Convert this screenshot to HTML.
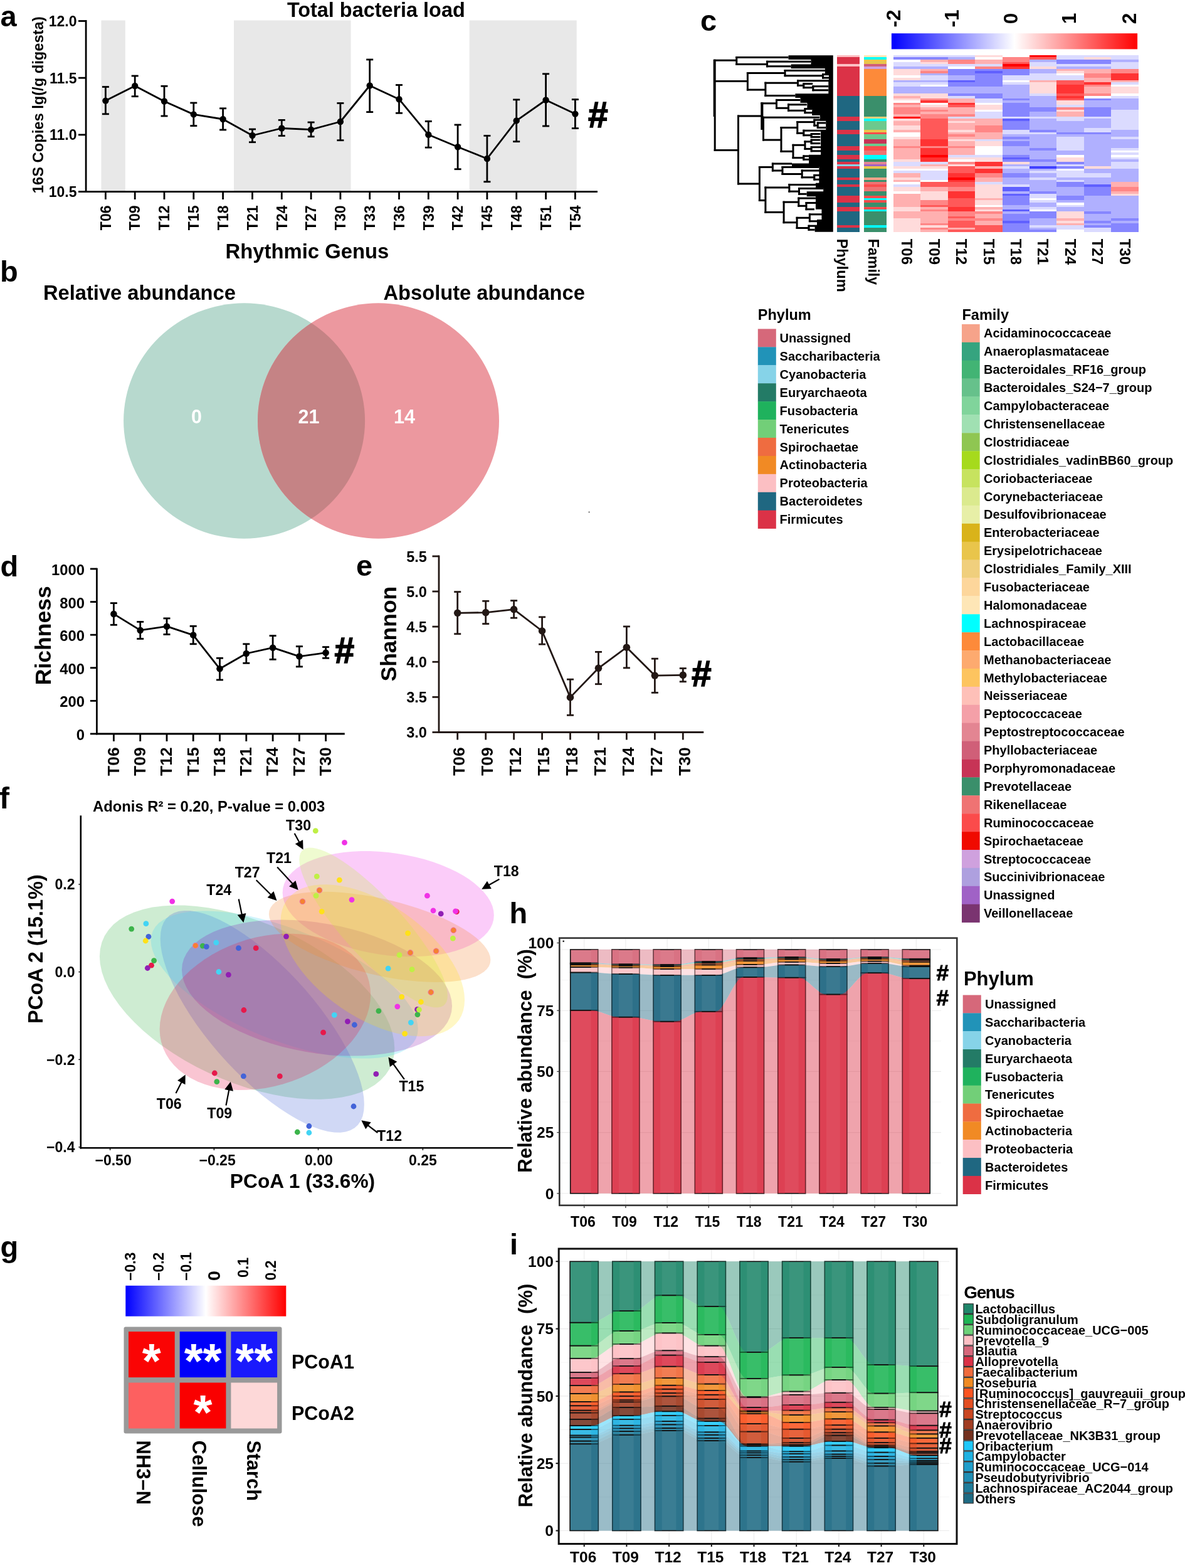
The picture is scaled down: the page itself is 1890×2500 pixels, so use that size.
<!DOCTYPE html>
<html><head><meta charset="utf-8"><title>Figure</title>
<style>html,body{margin:0;padding:0;background:#fff;} svg{display:block;}</style></head>
<body><svg xmlns="http://www.w3.org/2000/svg" width="1890" height="2500" viewBox="0 0 1890 2500" font-family="'Liberation Sans', Arial, sans-serif">
<rect width="1890" height="2500" fill="#fff"/>
<text x="0.5" y="42.0" font-size="47" font-weight="bold" text-anchor="start" fill="#000">a</text>
<rect x="161.50" y="32.50" width="38.30" height="273.10" fill="#e8e8e8"/>
<rect x="373.00" y="32.50" width="186.50" height="273.10" fill="#e8e8e8"/>
<rect x="748.70" y="32.50" width="171.00" height="273.10" fill="#e8e8e8"/>
<line x1="137.1" y1="32.0" x2="137.1" y2="306.8" stroke="#000" stroke-width="2.8"/>
<line x1="135.7" y1="305.6" x2="953.0" y2="305.6" stroke="#000" stroke-width="2.8"/>
<line x1="125.0" y1="33.5" x2="137.0" y2="33.5" stroke="#000" stroke-width="2.8"/>
<text x="122.5" y="41.8" font-size="23" font-weight="bold" text-anchor="end" fill="#000">12.0</text>
<line x1="125.0" y1="124.2" x2="137.0" y2="124.2" stroke="#000" stroke-width="2.8"/>
<text x="122.5" y="132.5" font-size="23" font-weight="bold" text-anchor="end" fill="#000">11.5</text>
<line x1="125.0" y1="214.9" x2="137.0" y2="214.9" stroke="#000" stroke-width="2.8"/>
<text x="122.5" y="223.2" font-size="23" font-weight="bold" text-anchor="end" fill="#000">11.0</text>
<line x1="125.0" y1="305.6" x2="137.0" y2="305.6" stroke="#000" stroke-width="2.8"/>
<text x="122.5" y="313.9" font-size="23" font-weight="bold" text-anchor="end" fill="#000">10.5</text>
<line x1="168.4" y1="305.6" x2="168.4" y2="318.0" stroke="#000" stroke-width="2.8"/>
<text x="176.6" y="327.5" font-size="23" font-weight="bold" text-anchor="end" fill="#000" transform="rotate(-90 176.6 327.5)">T06</text>
<line x1="215.2" y1="305.6" x2="215.2" y2="318.0" stroke="#000" stroke-width="2.8"/>
<text x="223.4" y="327.5" font-size="23" font-weight="bold" text-anchor="end" fill="#000" transform="rotate(-90 223.4 327.5)">T09</text>
<line x1="262.0" y1="305.6" x2="262.0" y2="318.0" stroke="#000" stroke-width="2.8"/>
<text x="270.2" y="327.5" font-size="23" font-weight="bold" text-anchor="end" fill="#000" transform="rotate(-90 270.2 327.5)">T12</text>
<line x1="308.8" y1="305.6" x2="308.8" y2="318.0" stroke="#000" stroke-width="2.8"/>
<text x="317.0" y="327.5" font-size="23" font-weight="bold" text-anchor="end" fill="#000" transform="rotate(-90 317.0 327.5)">T15</text>
<line x1="355.6" y1="305.6" x2="355.6" y2="318.0" stroke="#000" stroke-width="2.8"/>
<text x="363.8" y="327.5" font-size="23" font-weight="bold" text-anchor="end" fill="#000" transform="rotate(-90 363.8 327.5)">T18</text>
<line x1="402.5" y1="305.6" x2="402.5" y2="318.0" stroke="#000" stroke-width="2.8"/>
<text x="410.7" y="327.5" font-size="23" font-weight="bold" text-anchor="end" fill="#000" transform="rotate(-90 410.7 327.5)">T21</text>
<line x1="449.3" y1="305.6" x2="449.3" y2="318.0" stroke="#000" stroke-width="2.8"/>
<text x="457.5" y="327.5" font-size="23" font-weight="bold" text-anchor="end" fill="#000" transform="rotate(-90 457.5 327.5)">T24</text>
<line x1="496.1" y1="305.6" x2="496.1" y2="318.0" stroke="#000" stroke-width="2.8"/>
<text x="504.3" y="327.5" font-size="23" font-weight="bold" text-anchor="end" fill="#000" transform="rotate(-90 504.3 327.5)">T27</text>
<line x1="542.9" y1="305.6" x2="542.9" y2="318.0" stroke="#000" stroke-width="2.8"/>
<text x="551.1" y="327.5" font-size="23" font-weight="bold" text-anchor="end" fill="#000" transform="rotate(-90 551.1 327.5)">T30</text>
<line x1="589.7" y1="305.6" x2="589.7" y2="318.0" stroke="#000" stroke-width="2.8"/>
<text x="597.9" y="327.5" font-size="23" font-weight="bold" text-anchor="end" fill="#000" transform="rotate(-90 597.9 327.5)">T33</text>
<line x1="636.5" y1="305.6" x2="636.5" y2="318.0" stroke="#000" stroke-width="2.8"/>
<text x="644.7" y="327.5" font-size="23" font-weight="bold" text-anchor="end" fill="#000" transform="rotate(-90 644.7 327.5)">T36</text>
<line x1="683.3" y1="305.6" x2="683.3" y2="318.0" stroke="#000" stroke-width="2.8"/>
<text x="691.5" y="327.5" font-size="23" font-weight="bold" text-anchor="end" fill="#000" transform="rotate(-90 691.5 327.5)">T39</text>
<line x1="730.1" y1="305.6" x2="730.1" y2="318.0" stroke="#000" stroke-width="2.8"/>
<text x="738.3" y="327.5" font-size="23" font-weight="bold" text-anchor="end" fill="#000" transform="rotate(-90 738.3 327.5)">T42</text>
<line x1="776.9" y1="305.6" x2="776.9" y2="318.0" stroke="#000" stroke-width="2.8"/>
<text x="785.1" y="327.5" font-size="23" font-weight="bold" text-anchor="end" fill="#000" transform="rotate(-90 785.1 327.5)">T45</text>
<line x1="823.7" y1="305.6" x2="823.7" y2="318.0" stroke="#000" stroke-width="2.8"/>
<text x="831.9" y="327.5" font-size="23" font-weight="bold" text-anchor="end" fill="#000" transform="rotate(-90 831.9 327.5)">T48</text>
<line x1="870.6" y1="305.6" x2="870.6" y2="318.0" stroke="#000" stroke-width="2.8"/>
<text x="878.8" y="327.5" font-size="23" font-weight="bold" text-anchor="end" fill="#000" transform="rotate(-90 878.8 327.5)">T51</text>
<line x1="917.4" y1="305.6" x2="917.4" y2="318.0" stroke="#000" stroke-width="2.8"/>
<text x="925.6" y="327.5" font-size="23" font-weight="bold" text-anchor="end" fill="#000" transform="rotate(-90 925.6 327.5)">T54</text>
<polyline fill="none" stroke="#000" stroke-width="2.8" stroke-linejoin="round" points="168.4,160.6 215.2,137.0 262.0,161.5 308.8,182.4 355.6,190.0 402.5,216.0 449.3,204.5 496.1,206.6 542.9,194.0 589.7,136.5 636.5,158.2 683.3,214.8 730.1,234.2 776.9,253.0 823.7,192.4 870.6,159.5 917.4,181.6"/>
<line x1="168.4" y1="138.5" x2="168.4" y2="181.8" stroke="#000" stroke-width="2.8"/>
<line x1="162.9" y1="138.5" x2="173.9" y2="138.5" stroke="#000" stroke-width="2.8"/>
<line x1="162.9" y1="181.8" x2="173.9" y2="181.8" stroke="#000" stroke-width="2.8"/>
<line x1="215.2" y1="121.0" x2="215.2" y2="153.7" stroke="#000" stroke-width="2.8"/>
<line x1="209.7" y1="121.0" x2="220.7" y2="121.0" stroke="#000" stroke-width="2.8"/>
<line x1="209.7" y1="153.7" x2="220.7" y2="153.7" stroke="#000" stroke-width="2.8"/>
<line x1="262.0" y1="137.3" x2="262.0" y2="185.0" stroke="#000" stroke-width="2.8"/>
<line x1="256.5" y1="137.3" x2="267.5" y2="137.3" stroke="#000" stroke-width="2.8"/>
<line x1="256.5" y1="185.0" x2="267.5" y2="185.0" stroke="#000" stroke-width="2.8"/>
<line x1="308.8" y1="164.0" x2="308.8" y2="200.6" stroke="#000" stroke-width="2.8"/>
<line x1="303.3" y1="164.0" x2="314.3" y2="164.0" stroke="#000" stroke-width="2.8"/>
<line x1="303.3" y1="200.6" x2="314.3" y2="200.6" stroke="#000" stroke-width="2.8"/>
<line x1="355.6" y1="172.8" x2="355.6" y2="207.0" stroke="#000" stroke-width="2.8"/>
<line x1="350.1" y1="172.8" x2="361.1" y2="172.8" stroke="#000" stroke-width="2.8"/>
<line x1="350.1" y1="207.0" x2="361.1" y2="207.0" stroke="#000" stroke-width="2.8"/>
<line x1="402.5" y1="206.0" x2="402.5" y2="226.7" stroke="#000" stroke-width="2.8"/>
<line x1="397.0" y1="206.0" x2="408.0" y2="206.0" stroke="#000" stroke-width="2.8"/>
<line x1="397.0" y1="226.7" x2="408.0" y2="226.7" stroke="#000" stroke-width="2.8"/>
<line x1="449.3" y1="191.4" x2="449.3" y2="216.5" stroke="#000" stroke-width="2.8"/>
<line x1="443.8" y1="191.4" x2="454.8" y2="191.4" stroke="#000" stroke-width="2.8"/>
<line x1="443.8" y1="216.5" x2="454.8" y2="216.5" stroke="#000" stroke-width="2.8"/>
<line x1="496.1" y1="195.0" x2="496.1" y2="217.8" stroke="#000" stroke-width="2.8"/>
<line x1="490.6" y1="195.0" x2="501.6" y2="195.0" stroke="#000" stroke-width="2.8"/>
<line x1="490.6" y1="217.8" x2="501.6" y2="217.8" stroke="#000" stroke-width="2.8"/>
<line x1="542.9" y1="164.5" x2="542.9" y2="223.7" stroke="#000" stroke-width="2.8"/>
<line x1="537.4" y1="164.5" x2="548.4" y2="164.5" stroke="#000" stroke-width="2.8"/>
<line x1="537.4" y1="223.7" x2="548.4" y2="223.7" stroke="#000" stroke-width="2.8"/>
<line x1="589.7" y1="95.0" x2="589.7" y2="178.6" stroke="#000" stroke-width="2.8"/>
<line x1="584.2" y1="95.0" x2="595.2" y2="95.0" stroke="#000" stroke-width="2.8"/>
<line x1="584.2" y1="178.6" x2="595.2" y2="178.6" stroke="#000" stroke-width="2.8"/>
<line x1="636.5" y1="135.5" x2="636.5" y2="180.3" stroke="#000" stroke-width="2.8"/>
<line x1="631.0" y1="135.5" x2="642.0" y2="135.5" stroke="#000" stroke-width="2.8"/>
<line x1="631.0" y1="180.3" x2="642.0" y2="180.3" stroke="#000" stroke-width="2.8"/>
<line x1="683.3" y1="193.4" x2="683.3" y2="235.2" stroke="#000" stroke-width="2.8"/>
<line x1="677.8" y1="193.4" x2="688.8" y2="193.4" stroke="#000" stroke-width="2.8"/>
<line x1="677.8" y1="235.2" x2="688.8" y2="235.2" stroke="#000" stroke-width="2.8"/>
<line x1="730.1" y1="199.0" x2="730.1" y2="269.7" stroke="#000" stroke-width="2.8"/>
<line x1="724.6" y1="199.0" x2="735.6" y2="199.0" stroke="#000" stroke-width="2.8"/>
<line x1="724.6" y1="269.7" x2="735.6" y2="269.7" stroke="#000" stroke-width="2.8"/>
<line x1="776.9" y1="216.4" x2="776.9" y2="289.8" stroke="#000" stroke-width="2.8"/>
<line x1="771.4" y1="216.4" x2="782.4" y2="216.4" stroke="#000" stroke-width="2.8"/>
<line x1="771.4" y1="289.8" x2="782.4" y2="289.8" stroke="#000" stroke-width="2.8"/>
<line x1="823.7" y1="158.9" x2="823.7" y2="225.7" stroke="#000" stroke-width="2.8"/>
<line x1="818.2" y1="158.9" x2="829.2" y2="158.9" stroke="#000" stroke-width="2.8"/>
<line x1="818.2" y1="225.7" x2="829.2" y2="225.7" stroke="#000" stroke-width="2.8"/>
<line x1="870.6" y1="117.8" x2="870.6" y2="201.0" stroke="#000" stroke-width="2.8"/>
<line x1="865.1" y1="117.8" x2="876.1" y2="117.8" stroke="#000" stroke-width="2.8"/>
<line x1="865.1" y1="201.0" x2="876.1" y2="201.0" stroke="#000" stroke-width="2.8"/>
<line x1="917.4" y1="158.6" x2="917.4" y2="204.6" stroke="#000" stroke-width="2.8"/>
<line x1="911.9" y1="158.6" x2="922.9" y2="158.6" stroke="#000" stroke-width="2.8"/>
<line x1="911.9" y1="204.6" x2="922.9" y2="204.6" stroke="#000" stroke-width="2.8"/>
<circle cx="168.4" cy="160.6" r="5.2" fill="#000"/>
<circle cx="215.2" cy="137.0" r="5.2" fill="#000"/>
<circle cx="262.0" cy="161.5" r="5.2" fill="#000"/>
<circle cx="308.8" cy="182.4" r="5.2" fill="#000"/>
<circle cx="355.6" cy="190.0" r="5.2" fill="#000"/>
<circle cx="402.5" cy="216.0" r="5.2" fill="#000"/>
<circle cx="449.3" cy="204.5" r="5.2" fill="#000"/>
<circle cx="496.1" cy="206.6" r="5.2" fill="#000"/>
<circle cx="542.9" cy="194.0" r="5.2" fill="#000"/>
<circle cx="589.7" cy="136.5" r="5.2" fill="#000"/>
<circle cx="636.5" cy="158.2" r="5.2" fill="#000"/>
<circle cx="683.3" cy="214.8" r="5.2" fill="#000"/>
<circle cx="730.1" cy="234.2" r="5.2" fill="#000"/>
<circle cx="776.9" cy="253.0" r="5.2" fill="#000"/>
<circle cx="823.7" cy="192.4" r="5.2" fill="#000"/>
<circle cx="870.6" cy="159.5" r="5.2" fill="#000"/>
<circle cx="917.4" cy="181.6" r="5.2" fill="#000"/>
<text x="938.0" y="203.0" font-size="57" font-weight="bold" fill="#000" stroke="#000" stroke-width="1.5">#</text>
<text x="599.8" y="27.2" font-size="32.4" font-weight="bold" text-anchor="middle" fill="#000">Total bacteria load</text>
<text x="68.7" y="167.3" font-size="23.7" font-weight="bold" text-anchor="middle" fill="#000" transform="rotate(-90 68.7 167.3)">16S Copies lg(/g digesta)</text>
<text x="489.9" y="411.9" font-size="32.8" font-weight="bold" text-anchor="middle" fill="#000">Rhythmic Genus</text>
<text x="0.0" y="448.6" font-size="47" font-weight="bold" text-anchor="start" fill="#000">b</text>
<text x="222.4" y="478.3" font-size="32.7" font-weight="bold" text-anchor="middle" fill="#000">Relative abundance</text>
<text x="772.2" y="478.3" font-size="32.7" font-weight="bold" text-anchor="middle" fill="#000">Absolute abundance</text>
<ellipse cx="389.6" cy="671" rx="192.5" ry="187.7" fill="#b7d9ce"/>
<ellipse cx="603.5" cy="671" rx="192.5" ry="187.7" fill="#ec989f"/>
<clipPath id="cl"><ellipse cx="389.6" cy="671" rx="192.5" ry="187.7"/></clipPath>
<ellipse cx="603.5" cy="671" rx="192.5" ry="187.7" fill="#c58385" clip-path="url(#cl)"/>
<circle cx="939.6" cy="816.5" r="0.9" fill="#333"/>
<text x="313.5" y="675.3" font-size="30.5" font-weight="bold" text-anchor="middle" fill="#fff">0</text>
<text x="492.5" y="675.3" font-size="30.5" font-weight="bold" text-anchor="middle" fill="#fff">21</text>
<text x="645.0" y="675.3" font-size="30.5" font-weight="bold" text-anchor="middle" fill="#fff">14</text>
<text x="0.5" y="918.5" font-size="47" font-weight="bold" text-anchor="start" fill="#000">d</text>
<line x1="154.4" y1="905.7" x2="154.4" y2="1171.3" stroke="#000" stroke-width="2.8"/>
<line x1="153.1" y1="1170.0" x2="549.8" y2="1170.0" stroke="#000" stroke-width="2.8"/>
<line x1="143.9" y1="1170.0" x2="154.4" y2="1170.0" stroke="#000" stroke-width="2.8"/>
<text x="134.9" y="1180.0" font-size="23.8" font-weight="bold" text-anchor="end" fill="#000">0</text>
<line x1="143.9" y1="1117.4" x2="154.4" y2="1117.4" stroke="#000" stroke-width="2.8"/>
<text x="134.9" y="1127.4" font-size="23.8" font-weight="bold" text-anchor="end" fill="#000">200</text>
<line x1="143.9" y1="1064.8" x2="154.4" y2="1064.8" stroke="#000" stroke-width="2.8"/>
<text x="134.9" y="1074.8" font-size="23.8" font-weight="bold" text-anchor="end" fill="#000">400</text>
<line x1="143.9" y1="1012.2" x2="154.4" y2="1012.2" stroke="#000" stroke-width="2.8"/>
<text x="134.9" y="1022.2" font-size="23.8" font-weight="bold" text-anchor="end" fill="#000">600</text>
<line x1="143.9" y1="959.6" x2="154.4" y2="959.6" stroke="#000" stroke-width="2.8"/>
<text x="134.9" y="969.6" font-size="23.8" font-weight="bold" text-anchor="end" fill="#000">800</text>
<line x1="143.9" y1="907.0" x2="154.4" y2="907.0" stroke="#000" stroke-width="2.8"/>
<text x="134.9" y="917.0" font-size="23.8" font-weight="bold" text-anchor="end" fill="#000">1000</text>
<line x1="181.4" y1="1170.0" x2="181.4" y2="1182.0" stroke="#000" stroke-width="2.8"/>
<text x="189.8" y="1191.4" font-size="26.4" font-weight="bold" text-anchor="end" fill="#000" transform="rotate(-90 189.8 1191.4)">T06</text>
<line x1="223.7" y1="1170.0" x2="223.7" y2="1182.0" stroke="#000" stroke-width="2.8"/>
<text x="232.1" y="1191.4" font-size="26.4" font-weight="bold" text-anchor="end" fill="#000" transform="rotate(-90 232.1 1191.4)">T09</text>
<line x1="266.0" y1="1170.0" x2="266.0" y2="1182.0" stroke="#000" stroke-width="2.8"/>
<text x="274.4" y="1191.4" font-size="26.4" font-weight="bold" text-anchor="end" fill="#000" transform="rotate(-90 274.4 1191.4)">T12</text>
<line x1="308.2" y1="1170.0" x2="308.2" y2="1182.0" stroke="#000" stroke-width="2.8"/>
<text x="316.7" y="1191.4" font-size="26.4" font-weight="bold" text-anchor="end" fill="#000" transform="rotate(-90 316.7 1191.4)">T15</text>
<line x1="350.5" y1="1170.0" x2="350.5" y2="1182.0" stroke="#000" stroke-width="2.8"/>
<text x="359.0" y="1191.4" font-size="26.4" font-weight="bold" text-anchor="end" fill="#000" transform="rotate(-90 359.0 1191.4)">T18</text>
<line x1="392.8" y1="1170.0" x2="392.8" y2="1182.0" stroke="#000" stroke-width="2.8"/>
<text x="401.2" y="1191.4" font-size="26.4" font-weight="bold" text-anchor="end" fill="#000" transform="rotate(-90 401.2 1191.4)">T21</text>
<line x1="435.1" y1="1170.0" x2="435.1" y2="1182.0" stroke="#000" stroke-width="2.8"/>
<text x="443.5" y="1191.4" font-size="26.4" font-weight="bold" text-anchor="end" fill="#000" transform="rotate(-90 443.5 1191.4)">T24</text>
<line x1="477.4" y1="1170.0" x2="477.4" y2="1182.0" stroke="#000" stroke-width="2.8"/>
<text x="485.8" y="1191.4" font-size="26.4" font-weight="bold" text-anchor="end" fill="#000" transform="rotate(-90 485.8 1191.4)">T27</text>
<line x1="519.6" y1="1170.0" x2="519.6" y2="1182.0" stroke="#000" stroke-width="2.8"/>
<text x="528.1" y="1191.4" font-size="26.4" font-weight="bold" text-anchor="end" fill="#000" transform="rotate(-90 528.1 1191.4)">T30</text>
<polyline fill="none" stroke="#000" stroke-width="2.8" stroke-linejoin="round" points="181.4,978.9 223.7,1004.9 266.0,998.7 308.2,1012.6 350.5,1066.3 392.8,1042.0 435.1,1032.7 477.4,1046.6 519.6,1040.7"/>
<line x1="181.4" y1="961.6" x2="181.4" y2="996.3" stroke="#000" stroke-width="2.8"/>
<line x1="175.9" y1="961.6" x2="186.9" y2="961.6" stroke="#000" stroke-width="2.8"/>
<line x1="175.9" y1="996.3" x2="186.9" y2="996.3" stroke="#000" stroke-width="2.8"/>
<line x1="223.7" y1="991.4" x2="223.7" y2="1018.5" stroke="#000" stroke-width="2.8"/>
<line x1="218.2" y1="991.4" x2="229.2" y2="991.4" stroke="#000" stroke-width="2.8"/>
<line x1="218.2" y1="1018.5" x2="229.2" y2="1018.5" stroke="#000" stroke-width="2.8"/>
<line x1="266.0" y1="985.9" x2="266.0" y2="1011.5" stroke="#000" stroke-width="2.8"/>
<line x1="260.5" y1="985.9" x2="271.5" y2="985.9" stroke="#000" stroke-width="2.8"/>
<line x1="260.5" y1="1011.5" x2="271.5" y2="1011.5" stroke="#000" stroke-width="2.8"/>
<line x1="308.2" y1="998.3" x2="308.2" y2="1026.8" stroke="#000" stroke-width="2.8"/>
<line x1="302.7" y1="998.3" x2="313.7" y2="998.3" stroke="#000" stroke-width="2.8"/>
<line x1="302.7" y1="1026.8" x2="313.7" y2="1026.8" stroke="#000" stroke-width="2.8"/>
<line x1="350.5" y1="1049.3" x2="350.5" y2="1084.0" stroke="#000" stroke-width="2.8"/>
<line x1="345.0" y1="1049.3" x2="356.0" y2="1049.3" stroke="#000" stroke-width="2.8"/>
<line x1="345.0" y1="1084.0" x2="356.0" y2="1084.0" stroke="#000" stroke-width="2.8"/>
<line x1="392.8" y1="1026.8" x2="392.8" y2="1057.3" stroke="#000" stroke-width="2.8"/>
<line x1="387.3" y1="1026.8" x2="398.3" y2="1026.8" stroke="#000" stroke-width="2.8"/>
<line x1="387.3" y1="1057.3" x2="398.3" y2="1057.3" stroke="#000" stroke-width="2.8"/>
<line x1="435.1" y1="1013.6" x2="435.1" y2="1051.4" stroke="#000" stroke-width="2.8"/>
<line x1="429.6" y1="1013.6" x2="440.6" y2="1013.6" stroke="#000" stroke-width="2.8"/>
<line x1="429.6" y1="1051.4" x2="440.6" y2="1051.4" stroke="#000" stroke-width="2.8"/>
<line x1="477.4" y1="1030.6" x2="477.4" y2="1062.9" stroke="#000" stroke-width="2.8"/>
<line x1="471.9" y1="1030.6" x2="482.9" y2="1030.6" stroke="#000" stroke-width="2.8"/>
<line x1="471.9" y1="1062.9" x2="482.9" y2="1062.9" stroke="#000" stroke-width="2.8"/>
<line x1="519.6" y1="1031.6" x2="519.6" y2="1049.3" stroke="#000" stroke-width="2.8"/>
<line x1="514.1" y1="1031.6" x2="525.1" y2="1031.6" stroke="#000" stroke-width="2.8"/>
<line x1="514.1" y1="1049.3" x2="525.1" y2="1049.3" stroke="#000" stroke-width="2.8"/>
<circle cx="181.4" cy="978.9" r="5.3" fill="#000"/>
<circle cx="223.7" cy="1004.9" r="5.3" fill="#000"/>
<circle cx="266.0" cy="998.7" r="5.3" fill="#000"/>
<circle cx="308.2" cy="1012.6" r="5.3" fill="#000"/>
<circle cx="350.5" cy="1066.3" r="5.3" fill="#000"/>
<circle cx="392.8" cy="1042.0" r="5.3" fill="#000"/>
<circle cx="435.1" cy="1032.7" r="5.3" fill="#000"/>
<circle cx="477.4" cy="1046.6" r="5.3" fill="#000"/>
<circle cx="519.6" cy="1040.7" r="5.3" fill="#000"/>
<text x="533.5" y="1056.5" font-size="57" font-weight="bold" fill="#000" stroke="#000" stroke-width="1.5">#</text>
<text x="81.3" y="1013.2" font-size="35.5" font-weight="bold" text-anchor="middle" fill="#000" transform="rotate(-90 81.3 1013.2)">Richness</text>
<text x="568.0" y="917.5" font-size="47" font-weight="bold" text-anchor="start" fill="#000">e</text>
<line x1="700.0" y1="885.6" x2="700.0" y2="1168.8" stroke="#231815" stroke-width="2.8"/>
<line x1="698.7" y1="1167.5" x2="1122.3" y2="1167.5" stroke="#231815" stroke-width="2.8"/>
<line x1="689.5" y1="1167.5" x2="700.0" y2="1167.5" stroke="#231815" stroke-width="2.8"/>
<text x="680.8" y="1176.1" font-size="23.5" font-weight="bold" text-anchor="end" fill="#000">3.0</text>
<line x1="689.5" y1="1111.4" x2="700.0" y2="1111.4" stroke="#231815" stroke-width="2.8"/>
<text x="680.8" y="1120.0" font-size="23.5" font-weight="bold" text-anchor="end" fill="#000">3.5</text>
<line x1="689.5" y1="1055.3" x2="700.0" y2="1055.3" stroke="#231815" stroke-width="2.8"/>
<text x="680.8" y="1063.9" font-size="23.5" font-weight="bold" text-anchor="end" fill="#000">4.0</text>
<line x1="689.5" y1="999.1" x2="700.0" y2="999.1" stroke="#231815" stroke-width="2.8"/>
<text x="680.8" y="1007.7" font-size="23.5" font-weight="bold" text-anchor="end" fill="#000">4.5</text>
<line x1="689.5" y1="943.0" x2="700.0" y2="943.0" stroke="#231815" stroke-width="2.8"/>
<text x="680.8" y="951.6" font-size="23.5" font-weight="bold" text-anchor="end" fill="#000">5.0</text>
<line x1="689.5" y1="886.9" x2="700.0" y2="886.9" stroke="#231815" stroke-width="2.8"/>
<text x="680.8" y="895.5" font-size="23.5" font-weight="bold" text-anchor="end" fill="#000">5.5</text>
<line x1="729.7" y1="1167.5" x2="729.7" y2="1179.5" stroke="#231815" stroke-width="2.8"/>
<text x="741.2" y="1191.3" font-size="26.4" font-weight="bold" text-anchor="end" fill="#000" transform="rotate(-90 741.2 1191.3)">T06</text>
<line x1="774.7" y1="1167.5" x2="774.7" y2="1179.5" stroke="#231815" stroke-width="2.8"/>
<text x="786.1" y="1191.3" font-size="26.4" font-weight="bold" text-anchor="end" fill="#000" transform="rotate(-90 786.1 1191.3)">T09</text>
<line x1="819.6" y1="1167.5" x2="819.6" y2="1179.5" stroke="#231815" stroke-width="2.8"/>
<text x="831.1" y="1191.3" font-size="26.4" font-weight="bold" text-anchor="end" fill="#000" transform="rotate(-90 831.1 1191.3)">T12</text>
<line x1="864.6" y1="1167.5" x2="864.6" y2="1179.5" stroke="#231815" stroke-width="2.8"/>
<text x="876.0" y="1191.3" font-size="26.4" font-weight="bold" text-anchor="end" fill="#000" transform="rotate(-90 876.0 1191.3)">T15</text>
<line x1="909.5" y1="1167.5" x2="909.5" y2="1179.5" stroke="#231815" stroke-width="2.8"/>
<text x="921.0" y="1191.3" font-size="26.4" font-weight="bold" text-anchor="end" fill="#000" transform="rotate(-90 921.0 1191.3)">T18</text>
<line x1="954.5" y1="1167.5" x2="954.5" y2="1179.5" stroke="#231815" stroke-width="2.8"/>
<text x="965.9" y="1191.3" font-size="26.4" font-weight="bold" text-anchor="end" fill="#000" transform="rotate(-90 965.9 1191.3)">T21</text>
<line x1="999.4" y1="1167.5" x2="999.4" y2="1179.5" stroke="#231815" stroke-width="2.8"/>
<text x="1010.9" y="1191.3" font-size="26.4" font-weight="bold" text-anchor="end" fill="#000" transform="rotate(-90 1010.9 1191.3)">T24</text>
<line x1="1044.4" y1="1167.5" x2="1044.4" y2="1179.5" stroke="#231815" stroke-width="2.8"/>
<text x="1055.8" y="1191.3" font-size="26.4" font-weight="bold" text-anchor="end" fill="#000" transform="rotate(-90 1055.8 1191.3)">T27</text>
<line x1="1089.3" y1="1167.5" x2="1089.3" y2="1179.5" stroke="#231815" stroke-width="2.8"/>
<text x="1100.8" y="1191.3" font-size="26.4" font-weight="bold" text-anchor="end" fill="#000" transform="rotate(-90 1100.8 1191.3)">T30</text>
<polyline fill="none" stroke="#231815" stroke-width="2.8" stroke-linejoin="round" points="729.7,977.3 774.7,976.6 819.6,971.6 864.6,1006.0 909.5,1111.9 954.5,1065.3 999.4,1032.2 1044.4,1077.1 1089.3,1076.4"/>
<line x1="729.7" y1="943.6" x2="729.7" y2="1010.7" stroke="#231815" stroke-width="2.8"/>
<line x1="724.2" y1="943.6" x2="735.2" y2="943.6" stroke="#231815" stroke-width="2.8"/>
<line x1="724.2" y1="1010.7" x2="735.2" y2="1010.7" stroke="#231815" stroke-width="2.8"/>
<line x1="774.7" y1="958.3" x2="774.7" y2="994.6" stroke="#231815" stroke-width="2.8"/>
<line x1="769.2" y1="958.3" x2="780.2" y2="958.3" stroke="#231815" stroke-width="2.8"/>
<line x1="769.2" y1="994.6" x2="780.2" y2="994.6" stroke="#231815" stroke-width="2.8"/>
<line x1="819.6" y1="957.6" x2="819.6" y2="985.2" stroke="#231815" stroke-width="2.8"/>
<line x1="814.1" y1="957.6" x2="825.1" y2="957.6" stroke="#231815" stroke-width="2.8"/>
<line x1="814.1" y1="985.2" x2="825.1" y2="985.2" stroke="#231815" stroke-width="2.8"/>
<line x1="864.6" y1="983.8" x2="864.6" y2="1027.2" stroke="#231815" stroke-width="2.8"/>
<line x1="859.1" y1="983.8" x2="870.1" y2="983.8" stroke="#231815" stroke-width="2.8"/>
<line x1="859.1" y1="1027.2" x2="870.1" y2="1027.2" stroke="#231815" stroke-width="2.8"/>
<line x1="909.5" y1="1083.2" x2="909.5" y2="1140.3" stroke="#231815" stroke-width="2.8"/>
<line x1="904.0" y1="1083.2" x2="915.0" y2="1083.2" stroke="#231815" stroke-width="2.8"/>
<line x1="904.0" y1="1140.3" x2="915.0" y2="1140.3" stroke="#231815" stroke-width="2.8"/>
<line x1="954.5" y1="1039.4" x2="954.5" y2="1090.7" stroke="#231815" stroke-width="2.8"/>
<line x1="949.0" y1="1039.4" x2="960.0" y2="1039.4" stroke="#231815" stroke-width="2.8"/>
<line x1="949.0" y1="1090.7" x2="960.0" y2="1090.7" stroke="#231815" stroke-width="2.8"/>
<line x1="999.4" y1="998.9" x2="999.4" y2="1064.9" stroke="#231815" stroke-width="2.8"/>
<line x1="993.9" y1="998.9" x2="1004.9" y2="998.9" stroke="#231815" stroke-width="2.8"/>
<line x1="993.9" y1="1064.9" x2="1004.9" y2="1064.9" stroke="#231815" stroke-width="2.8"/>
<line x1="1044.4" y1="1050.2" x2="1044.4" y2="1104.4" stroke="#231815" stroke-width="2.8"/>
<line x1="1038.9" y1="1050.2" x2="1049.9" y2="1050.2" stroke="#231815" stroke-width="2.8"/>
<line x1="1038.9" y1="1104.4" x2="1049.9" y2="1104.4" stroke="#231815" stroke-width="2.8"/>
<line x1="1089.3" y1="1065.6" x2="1089.3" y2="1086.8" stroke="#231815" stroke-width="2.8"/>
<line x1="1083.8" y1="1065.6" x2="1094.8" y2="1065.6" stroke="#231815" stroke-width="2.8"/>
<line x1="1083.8" y1="1086.8" x2="1094.8" y2="1086.8" stroke="#231815" stroke-width="2.8"/>
<circle cx="729.7" cy="977.3" r="5.8" fill="#231815"/>
<circle cx="774.7" cy="976.6" r="5.8" fill="#231815"/>
<circle cx="819.6" cy="971.6" r="5.8" fill="#231815"/>
<circle cx="864.6" cy="1006.0" r="5.8" fill="#231815"/>
<circle cx="909.5" cy="1111.9" r="5.8" fill="#231815"/>
<circle cx="954.5" cy="1065.3" r="5.8" fill="#231815"/>
<circle cx="999.4" cy="1032.2" r="5.8" fill="#231815"/>
<circle cx="1044.4" cy="1077.1" r="5.8" fill="#231815"/>
<circle cx="1089.3" cy="1076.4" r="5.8" fill="#231815"/>
<text x="1103.0" y="1094.2" font-size="57" font-weight="bold" fill="#000" stroke="#000" stroke-width="1.5">#</text>
<text x="632.5" y="1010.6" font-size="35.5" font-weight="bold" text-anchor="middle" fill="#000" transform="rotate(-90 632.5 1010.6)">Shannon</text>
<text x="1208.8" y="509.8" font-size="23.5" font-weight="bold" text-anchor="start" fill="#000">Phylum</text>
<rect x="1208.80" y="524.40" width="29.00" height="29.23" fill="#d6687a"/>
<text x="1243.6" y="545.9" font-size="20" font-weight="bold" text-anchor="start" fill="#000">Unassigned</text>
<rect x="1208.80" y="553.33" width="29.00" height="29.23" fill="#2193b8"/>
<text x="1243.6" y="574.8" font-size="20" font-weight="bold" text-anchor="start" fill="#000">Saccharibacteria</text>
<rect x="1208.80" y="582.26" width="29.00" height="29.23" fill="#86d3e8"/>
<text x="1243.6" y="603.8" font-size="20" font-weight="bold" text-anchor="start" fill="#000">Cyanobacteria</text>
<rect x="1208.80" y="611.19" width="29.00" height="29.23" fill="#237b66"/>
<text x="1243.6" y="632.7" font-size="20" font-weight="bold" text-anchor="start" fill="#000">Euryarchaeota</text>
<rect x="1208.80" y="640.12" width="29.00" height="29.23" fill="#1fb25d"/>
<text x="1243.6" y="661.6" font-size="20" font-weight="bold" text-anchor="start" fill="#000">Fusobacteria</text>
<rect x="1208.80" y="669.05" width="29.00" height="29.23" fill="#72cf78"/>
<text x="1243.6" y="690.5" font-size="20" font-weight="bold" text-anchor="start" fill="#000">Tenericutes</text>
<rect x="1208.80" y="697.98" width="29.00" height="29.23" fill="#ef6c40"/>
<text x="1243.6" y="719.5" font-size="20" font-weight="bold" text-anchor="start" fill="#000">Spirochaetae</text>
<rect x="1208.80" y="726.91" width="29.00" height="29.23" fill="#f18a24"/>
<text x="1243.6" y="748.4" font-size="20" font-weight="bold" text-anchor="start" fill="#000">Actinobacteria</text>
<rect x="1208.80" y="755.84" width="29.00" height="29.23" fill="#fcbfc3"/>
<text x="1243.6" y="777.3" font-size="20" font-weight="bold" text-anchor="start" fill="#000">Proteobacteria</text>
<rect x="1208.80" y="784.77" width="29.00" height="29.23" fill="#1f6781"/>
<text x="1243.6" y="806.3" font-size="20" font-weight="bold" text-anchor="start" fill="#000">Bacteroidetes</text>
<rect x="1208.80" y="813.70" width="29.00" height="29.23" fill="#db3247"/>
<text x="1243.6" y="835.2" font-size="20" font-weight="bold" text-anchor="start" fill="#000">Firmicutes</text>
<text x="1534.5" y="509.8" font-size="23.5" font-weight="bold" text-anchor="start" fill="#000">Family</text>
<rect x="1534.00" y="516.90" width="28.70" height="29.20" fill="#f6a38a"/>
<text x="1569.0" y="538.4" font-size="20" font-weight="bold" text-anchor="start" fill="#000">Acidaminococcaceae</text>
<rect x="1534.00" y="545.80" width="28.70" height="29.20" fill="#35a47f"/>
<text x="1569.0" y="567.3" font-size="20" font-weight="bold" text-anchor="start" fill="#000">Anaeroplasmataceae</text>
<rect x="1534.00" y="574.70" width="28.70" height="29.20" fill="#42b474"/>
<text x="1569.0" y="596.2" font-size="20" font-weight="bold" text-anchor="start" fill="#000">Bacteroidales_RF16_group</text>
<rect x="1534.00" y="603.60" width="28.70" height="29.20" fill="#66c18b"/>
<text x="1569.0" y="625.1" font-size="20" font-weight="bold" text-anchor="start" fill="#000">Bacteroidales_S24−7_group</text>
<rect x="1534.00" y="632.50" width="28.70" height="29.20" fill="#80d49b"/>
<text x="1569.0" y="654.0" font-size="20" font-weight="bold" text-anchor="start" fill="#000">Campylobacteraceae</text>
<rect x="1534.00" y="661.40" width="28.70" height="29.20" fill="#a0e0b2"/>
<text x="1569.0" y="682.9" font-size="20" font-weight="bold" text-anchor="start" fill="#000">Christensenellaceae</text>
<rect x="1534.00" y="690.30" width="28.70" height="29.20" fill="#8fc652"/>
<text x="1569.0" y="711.8" font-size="20" font-weight="bold" text-anchor="start" fill="#000">Clostridiaceae</text>
<rect x="1534.00" y="719.20" width="28.70" height="29.20" fill="#a6da1c"/>
<text x="1569.0" y="740.7" font-size="20" font-weight="bold" text-anchor="start" fill="#000">Clostridiales_vadinBB60_group</text>
<rect x="1534.00" y="748.10" width="28.70" height="29.20" fill="#c7e35f"/>
<text x="1569.0" y="769.6" font-size="20" font-weight="bold" text-anchor="start" fill="#000">Coriobacteriaceae</text>
<rect x="1534.00" y="777.00" width="28.70" height="29.20" fill="#dbea8e"/>
<text x="1569.0" y="798.5" font-size="20" font-weight="bold" text-anchor="start" fill="#000">Corynebacteriaceae</text>
<rect x="1534.00" y="805.90" width="28.70" height="29.20" fill="#e7efa7"/>
<text x="1569.0" y="827.4" font-size="20" font-weight="bold" text-anchor="start" fill="#000">Desulfovibrionaceae</text>
<rect x="1534.00" y="834.80" width="28.70" height="29.20" fill="#d9b31a"/>
<text x="1569.0" y="856.3" font-size="20" font-weight="bold" text-anchor="start" fill="#000">Enterobacteriaceae</text>
<rect x="1534.00" y="863.70" width="28.70" height="29.20" fill="#e9c54b"/>
<text x="1569.0" y="885.2" font-size="20" font-weight="bold" text-anchor="start" fill="#000">Erysipelotrichaceae</text>
<rect x="1534.00" y="892.60" width="28.70" height="29.20" fill="#f0cf7d"/>
<text x="1569.0" y="914.1" font-size="20" font-weight="bold" text-anchor="start" fill="#000">Clostridiales_Family_XIII</text>
<rect x="1534.00" y="921.50" width="28.70" height="29.20" fill="#fdd69b"/>
<text x="1569.0" y="943.0" font-size="20" font-weight="bold" text-anchor="start" fill="#000">Fusobacteriaceae</text>
<rect x="1534.00" y="950.40" width="28.70" height="29.20" fill="#fee6b6"/>
<text x="1569.0" y="971.9" font-size="20" font-weight="bold" text-anchor="start" fill="#000">Halomonadaceae</text>
<rect x="1534.00" y="979.30" width="28.70" height="29.20" fill="#00ffff"/>
<text x="1569.0" y="1000.8" font-size="20" font-weight="bold" text-anchor="start" fill="#000">Lachnospiraceae</text>
<rect x="1534.00" y="1008.20" width="28.70" height="29.20" fill="#fd8a3a"/>
<text x="1569.0" y="1029.7" font-size="20" font-weight="bold" text-anchor="start" fill="#000">Lactobacillaceae</text>
<rect x="1534.00" y="1037.10" width="28.70" height="29.20" fill="#fdaa6f"/>
<text x="1569.0" y="1058.6" font-size="20" font-weight="bold" text-anchor="start" fill="#000">Methanobacteriaceae</text>
<rect x="1534.00" y="1066.00" width="28.70" height="29.20" fill="#fdc45f"/>
<text x="1569.0" y="1087.5" font-size="20" font-weight="bold" text-anchor="start" fill="#000">Methylobacteriaceae</text>
<rect x="1534.00" y="1094.90" width="28.70" height="29.20" fill="#fec0b8"/>
<text x="1569.0" y="1116.4" font-size="20" font-weight="bold" text-anchor="start" fill="#000">Neisseriaceae</text>
<rect x="1534.00" y="1123.80" width="28.70" height="29.20" fill="#f4a0a8"/>
<text x="1569.0" y="1145.3" font-size="20" font-weight="bold" text-anchor="start" fill="#000">Peptococcaceae</text>
<rect x="1534.00" y="1152.70" width="28.70" height="29.20" fill="#e38592"/>
<text x="1569.0" y="1174.2" font-size="20" font-weight="bold" text-anchor="start" fill="#000">Peptostreptococcaceae</text>
<rect x="1534.00" y="1181.60" width="28.70" height="29.20" fill="#d05f78"/>
<text x="1569.0" y="1203.1" font-size="20" font-weight="bold" text-anchor="start" fill="#000">Phyllobacteriaceae</text>
<rect x="1534.00" y="1210.50" width="28.70" height="29.20" fill="#c73456"/>
<text x="1569.0" y="1232.0" font-size="20" font-weight="bold" text-anchor="start" fill="#000">Porphyromonadaceae</text>
<rect x="1534.00" y="1239.40" width="28.70" height="29.20" fill="#3a8f6b"/>
<text x="1569.0" y="1260.9" font-size="20" font-weight="bold" text-anchor="start" fill="#000">Prevotellaceae</text>
<rect x="1534.00" y="1268.30" width="28.70" height="29.20" fill="#ef7373"/>
<text x="1569.0" y="1289.8" font-size="20" font-weight="bold" text-anchor="start" fill="#000">Rikenellaceae</text>
<rect x="1534.00" y="1297.20" width="28.70" height="29.20" fill="#fb4b4b"/>
<text x="1569.0" y="1318.7" font-size="20" font-weight="bold" text-anchor="start" fill="#000">Ruminococcaceae</text>
<rect x="1534.00" y="1326.10" width="28.70" height="29.20" fill="#f00a00"/>
<text x="1569.0" y="1347.6" font-size="20" font-weight="bold" text-anchor="start" fill="#000">Spirochaetaceae</text>
<rect x="1534.00" y="1355.00" width="28.70" height="29.20" fill="#cfa1de"/>
<text x="1569.0" y="1376.5" font-size="20" font-weight="bold" text-anchor="start" fill="#000">Streptococcaceae</text>
<rect x="1534.00" y="1383.90" width="28.70" height="29.20" fill="#aea0df"/>
<text x="1569.0" y="1405.4" font-size="20" font-weight="bold" text-anchor="start" fill="#000">Succinivibrionaceae</text>
<rect x="1534.00" y="1412.80" width="28.70" height="29.20" fill="#a062c6"/>
<text x="1569.0" y="1434.3" font-size="20" font-weight="bold" text-anchor="start" fill="#000">Unassigned</text>
<rect x="1534.00" y="1441.70" width="28.70" height="29.20" fill="#7a3470"/>
<text x="1569.0" y="1463.2" font-size="20" font-weight="bold" text-anchor="start" fill="#000">Veillonellaceae</text>
<text x="0.5" y="2004.0" font-size="47" font-weight="bold" text-anchor="start" fill="#000">g</text>
<defs><linearGradient id="gg" x1="0" x2="1" y1="0" y2="0"><stop offset="0" stop-color="#0000ff"/><stop offset="0.5" stop-color="#ffffff"/><stop offset="1" stop-color="#ff0000"/></linearGradient></defs>
<rect x="200.30" y="2049.80" width="256.00" height="48.90" fill="url(#gg)"/>
<text x="216.3" y="2042.0" font-size="23" font-weight="bold" text-anchor="start" fill="#000" transform="rotate(-90 216.3 2042.0)">−0.3</text>
<text x="261.0" y="2042.0" font-size="23" font-weight="bold" text-anchor="start" fill="#000" transform="rotate(-90 261.0 2042.0)">−0.2</text>
<text x="305.4" y="2042.0" font-size="23" font-weight="bold" text-anchor="start" fill="#000" transform="rotate(-90 305.4 2042.0)">−0.1</text>
<text x="395.5" y="2037.0" font-size="23" font-weight="bold" text-anchor="start" fill="#000" transform="rotate(-90 395.5 2037.0)">0.1</text>
<text x="440.4" y="2041.5" font-size="23" font-weight="bold" text-anchor="start" fill="#000" transform="rotate(-90 440.4 2041.5)">0.2</text>
<text x="350.6" y="2042.0" font-size="28.5" font-weight="bold" text-anchor="start" fill="#000" transform="rotate(-90 350.6 2042.0)">0</text>
<rect x="197.5" y="2115.5" width="252" height="170" rx="3" fill="#999999"/>
<rect x="205.00" y="2123.10" width="73.70" height="73.00" fill="#fa0404"/>
<text x="241.8" y="2197.4" font-size="77" font-weight="bold" text-anchor="middle" fill="#fff">*</text>
<rect x="286.70" y="2123.10" width="73.70" height="73.00" fill="#0000fa"/>
<text x="323.6" y="2197.4" font-size="77" font-weight="bold" text-anchor="middle" fill="#fff">**</text>
<rect x="368.40" y="2123.10" width="73.70" height="73.00" fill="#1a1afc"/>
<text x="405.2" y="2197.4" font-size="77" font-weight="bold" text-anchor="middle" fill="#fff">**</text>
<rect x="205.00" y="2204.50" width="73.70" height="73.00" fill="#fd6060"/>
<rect x="286.70" y="2204.50" width="73.70" height="73.00" fill="#fa0000"/>
<text x="323.6" y="2278.8" font-size="77" font-weight="bold" text-anchor="middle" fill="#fff">*</text>
<rect x="368.40" y="2204.50" width="73.70" height="73.00" fill="#fdd8d8"/>
<text x="465.0" y="2181.5" font-size="30.5" font-weight="bold" text-anchor="start" fill="#000">PCoA1</text>
<text x="465.0" y="2263.5" font-size="30.5" font-weight="bold" text-anchor="start" fill="#000">PCoA2</text>
<text x="218.4" y="2296.6" font-size="31" font-weight="bold" text-anchor="start" fill="#000" transform="rotate(90 218.4 2296.6)">NH3−N</text>
<text x="306.5" y="2296.6" font-size="31" font-weight="bold" text-anchor="start" fill="#000" transform="rotate(90 306.5 2296.6)">Cellulose</text>
<text x="394.3" y="2296.6" font-size="31" font-weight="bold" text-anchor="start" fill="#000" transform="rotate(90 394.3 2296.6)">Starch</text>
<text x="1117.0" y="48.5" font-size="47" font-weight="bold" text-anchor="start" fill="#000">c</text>
<defs><linearGradient id="gc" x1="0" x2="1" y1="0" y2="0"><stop offset="0" stop-color="#0000ff"/><stop offset="0.5" stop-color="#ffffff"/><stop offset="1" stop-color="#ff0000"/></linearGradient></defs>
<rect x="1421.90" y="53.20" width="392.20" height="25.20" fill="url(#gc)"/>
<text x="1435.5" y="29.5" font-size="31.5" font-weight="bold" text-anchor="middle" fill="#000" transform="rotate(-90 1435.5 29.5)">-2</text>
<text x="1528.6" y="29.5" font-size="31.5" font-weight="bold" text-anchor="middle" fill="#000" transform="rotate(-90 1528.6 29.5)">-1</text>
<text x="1623.3" y="29.5" font-size="31.5" font-weight="bold" text-anchor="middle" fill="#000" transform="rotate(-90 1623.3 29.5)">0</text>
<text x="1716.4" y="29.5" font-size="31.5" font-weight="bold" text-anchor="middle" fill="#000" transform="rotate(-90 1716.4 29.5)">1</text>
<text x="1811.5" y="29.5" font-size="31.5" font-weight="bold" text-anchor="middle" fill="#000" transform="rotate(-90 1811.5 29.5)">2</text>
<g shape-rendering="crispEdges">
<rect x="1425.05" y="87.84" width="43.41" height="3.62" fill="#dbdbff"/>
<rect x="1425.05" y="91.46" width="43.41" height="3.62" fill="#8686ff"/>
<rect x="1425.05" y="95.08" width="43.41" height="3.62" fill="#ffffff"/>
<rect x="1425.05" y="98.69" width="43.41" height="7.24" fill="#dbdbff"/>
<rect x="1425.05" y="105.93" width="43.41" height="3.62" fill="#b0b0ff"/>
<rect x="1425.05" y="109.55" width="43.41" height="10.85" fill="#ffdbdb"/>
<rect x="1425.05" y="120.40" width="43.41" height="3.62" fill="#ffffff"/>
<rect x="1425.05" y="124.02" width="43.41" height="3.62" fill="#ffdbdb"/>
<rect x="1425.05" y="127.64" width="43.41" height="3.62" fill="#b0b0ff"/>
<rect x="1425.05" y="131.26" width="43.41" height="7.24" fill="#dbdbff"/>
<rect x="1425.05" y="138.49" width="43.41" height="10.85" fill="#b0b0ff"/>
<rect x="1425.05" y="149.35" width="43.41" height="3.62" fill="#ffdbdb"/>
<rect x="1425.05" y="152.97" width="43.41" height="3.62" fill="#ffb0b0"/>
<rect x="1425.05" y="156.58" width="43.41" height="3.62" fill="#ffdbdb"/>
<rect x="1425.05" y="160.20" width="43.41" height="3.62" fill="#ffffff"/>
<rect x="1425.05" y="163.82" width="43.41" height="3.62" fill="#ff8686"/>
<rect x="1425.05" y="167.44" width="43.41" height="3.62" fill="#ffb0b0"/>
<rect x="1425.05" y="171.06" width="43.41" height="10.85" fill="#ff8686"/>
<rect x="1425.05" y="181.91" width="43.41" height="3.62" fill="#ffb0b0"/>
<rect x="1425.05" y="185.53" width="43.41" height="3.62" fill="#ff0000"/>
<rect x="1425.05" y="189.15" width="43.41" height="3.62" fill="#ffdbdb"/>
<rect x="1425.05" y="192.76" width="43.41" height="7.24" fill="#ffb0b0"/>
<rect x="1425.05" y="200.00" width="43.41" height="7.24" fill="#ffdbdb"/>
<rect x="1425.05" y="207.24" width="43.41" height="3.62" fill="#ffb0b0"/>
<rect x="1425.05" y="210.85" width="43.41" height="7.24" fill="#ffffff"/>
<rect x="1425.05" y="218.09" width="43.41" height="3.62" fill="#ffdbdb"/>
<rect x="1425.05" y="221.71" width="43.41" height="10.85" fill="#ffb0b0"/>
<rect x="1425.05" y="232.56" width="43.41" height="3.62" fill="#ff8686"/>
<rect x="1425.05" y="236.18" width="43.41" height="18.09" fill="#ffb0b0"/>
<rect x="1425.05" y="254.27" width="43.41" height="3.62" fill="#ffdbdb"/>
<rect x="1425.05" y="257.89" width="43.41" height="7.24" fill="#dbdbff"/>
<rect x="1425.05" y="265.13" width="43.41" height="3.62" fill="#ffdbdb"/>
<rect x="1425.05" y="268.74" width="43.41" height="3.62" fill="#ffffff"/>
<rect x="1425.05" y="272.36" width="43.41" height="3.62" fill="#dbdbff"/>
<rect x="1425.05" y="275.98" width="43.41" height="7.24" fill="#ffb0b0"/>
<rect x="1425.05" y="283.22" width="43.41" height="3.62" fill="#ffdbdb"/>
<rect x="1425.05" y="286.83" width="43.41" height="3.62" fill="#ffb0b0"/>
<rect x="1425.05" y="290.45" width="43.41" height="3.62" fill="#ffffff"/>
<rect x="1425.05" y="294.07" width="43.41" height="3.62" fill="#dbdbff"/>
<rect x="1425.05" y="297.69" width="43.41" height="7.24" fill="#ffdbdb"/>
<rect x="1425.05" y="304.92" width="43.41" height="3.62" fill="#ffffff"/>
<rect x="1425.05" y="308.54" width="43.41" height="21.71" fill="#ffb0b0"/>
<rect x="1425.05" y="330.25" width="43.41" height="7.24" fill="#ffdbdb"/>
<rect x="1425.05" y="337.49" width="43.41" height="10.85" fill="#ffb0b0"/>
<rect x="1425.05" y="348.34" width="43.41" height="21.71" fill="#ffdbdb"/>
<rect x="1468.46" y="87.84" width="43.41" height="3.62" fill="#dbdbff"/>
<rect x="1468.46" y="91.46" width="43.41" height="3.62" fill="#8686ff"/>
<rect x="1468.46" y="95.08" width="43.41" height="3.62" fill="#ffb0b0"/>
<rect x="1468.46" y="98.69" width="43.41" height="3.62" fill="#ffdbdb"/>
<rect x="1468.46" y="102.31" width="43.41" height="3.62" fill="#dbdbff"/>
<rect x="1468.46" y="105.93" width="43.41" height="3.62" fill="#b0b0ff"/>
<rect x="1468.46" y="109.55" width="43.41" height="3.62" fill="#ffb0b0"/>
<rect x="1468.46" y="113.17" width="43.41" height="3.62" fill="#ff8686"/>
<rect x="1468.46" y="116.78" width="43.41" height="3.62" fill="#b0b0ff"/>
<rect x="1468.46" y="120.40" width="43.41" height="7.24" fill="#dbdbff"/>
<rect x="1468.46" y="127.64" width="43.41" height="3.62" fill="#b0b0ff"/>
<rect x="1468.46" y="131.26" width="43.41" height="3.62" fill="#dbdbff"/>
<rect x="1468.46" y="134.88" width="43.41" height="3.62" fill="#ffffff"/>
<rect x="1468.46" y="138.49" width="43.41" height="10.85" fill="#b0b0ff"/>
<rect x="1468.46" y="149.35" width="43.41" height="7.24" fill="#ffdbdb"/>
<rect x="1468.46" y="156.58" width="43.41" height="3.62" fill="#ff8686"/>
<rect x="1468.46" y="160.20" width="43.41" height="3.62" fill="#ff3333"/>
<rect x="1468.46" y="163.82" width="43.41" height="3.62" fill="#ffffff"/>
<rect x="1468.46" y="167.44" width="43.41" height="3.62" fill="#ffdbdb"/>
<rect x="1468.46" y="171.06" width="43.41" height="3.62" fill="#ffb0b0"/>
<rect x="1468.46" y="174.67" width="43.41" height="3.62" fill="#ff8686"/>
<rect x="1468.46" y="178.29" width="43.41" height="3.62" fill="#ffb0b0"/>
<rect x="1468.46" y="181.91" width="43.41" height="7.24" fill="#ff8686"/>
<rect x="1468.46" y="189.15" width="43.41" height="32.56" fill="#ff5959"/>
<rect x="1468.46" y="221.71" width="43.41" height="10.85" fill="#ff3333"/>
<rect x="1468.46" y="232.56" width="43.41" height="3.62" fill="#ff8686"/>
<rect x="1468.46" y="236.18" width="43.41" height="10.85" fill="#ff3333"/>
<rect x="1468.46" y="247.04" width="43.41" height="3.62" fill="#ff0000"/>
<rect x="1468.46" y="250.65" width="43.41" height="7.24" fill="#ff3333"/>
<rect x="1468.46" y="257.89" width="43.41" height="3.62" fill="#dbdbff"/>
<rect x="1468.46" y="261.51" width="43.41" height="3.62" fill="#ffb0b0"/>
<rect x="1468.46" y="265.13" width="43.41" height="3.62" fill="#ffdbdb"/>
<rect x="1468.46" y="268.74" width="43.41" height="3.62" fill="#ffffff"/>
<rect x="1468.46" y="272.36" width="43.41" height="14.47" fill="#dbdbff"/>
<rect x="1468.46" y="286.83" width="43.41" height="3.62" fill="#ffffff"/>
<rect x="1468.46" y="290.45" width="43.41" height="7.24" fill="#ff5959"/>
<rect x="1468.46" y="297.69" width="43.41" height="7.24" fill="#ffb0b0"/>
<rect x="1468.46" y="304.92" width="43.41" height="14.47" fill="#ffdbdb"/>
<rect x="1468.46" y="319.40" width="43.41" height="7.24" fill="#ff8686"/>
<rect x="1468.46" y="326.63" width="43.41" height="3.62" fill="#ff5959"/>
<rect x="1468.46" y="330.25" width="43.41" height="3.62" fill="#ffb0b0"/>
<rect x="1468.46" y="333.87" width="43.41" height="3.62" fill="#ff8686"/>
<rect x="1468.46" y="337.49" width="43.41" height="18.09" fill="#ffb0b0"/>
<rect x="1468.46" y="355.58" width="43.41" height="3.62" fill="#ff8686"/>
<rect x="1468.46" y="359.20" width="43.41" height="3.62" fill="#ffdbdb"/>
<rect x="1468.46" y="362.81" width="43.41" height="3.62" fill="#ff8686"/>
<rect x="1468.46" y="366.43" width="43.41" height="3.62" fill="#ffb0b0"/>
<rect x="1511.86" y="87.84" width="43.41" height="3.62" fill="#dbdbff"/>
<rect x="1511.86" y="91.46" width="43.41" height="3.62" fill="#b0b0ff"/>
<rect x="1511.86" y="95.08" width="43.41" height="7.24" fill="#ff8686"/>
<rect x="1511.86" y="102.31" width="43.41" height="3.62" fill="#dbdbff"/>
<rect x="1511.86" y="105.93" width="43.41" height="3.62" fill="#ffffff"/>
<rect x="1511.86" y="109.55" width="43.41" height="10.85" fill="#8686ff"/>
<rect x="1511.86" y="120.40" width="43.41" height="7.24" fill="#b0b0ff"/>
<rect x="1511.86" y="127.64" width="43.41" height="3.62" fill="#6060ff"/>
<rect x="1511.86" y="131.26" width="43.41" height="7.24" fill="#8686ff"/>
<rect x="1511.86" y="138.49" width="43.41" height="10.85" fill="#b0b0ff"/>
<rect x="1511.86" y="149.35" width="43.41" height="3.62" fill="#8686ff"/>
<rect x="1511.86" y="152.97" width="43.41" height="3.62" fill="#dbdbff"/>
<rect x="1511.86" y="156.58" width="43.41" height="7.24" fill="#ffb0b0"/>
<rect x="1511.86" y="163.82" width="43.41" height="3.62" fill="#ff3333"/>
<rect x="1511.86" y="167.44" width="43.41" height="3.62" fill="#ff5959"/>
<rect x="1511.86" y="171.06" width="43.41" height="10.85" fill="#ffb0b0"/>
<rect x="1511.86" y="181.91" width="43.41" height="3.62" fill="#ff8686"/>
<rect x="1511.86" y="185.53" width="43.41" height="3.62" fill="#dbdbff"/>
<rect x="1511.86" y="189.15" width="43.41" height="3.62" fill="#ffb0b0"/>
<rect x="1511.86" y="192.76" width="43.41" height="3.62" fill="#ffdbdb"/>
<rect x="1511.86" y="196.38" width="43.41" height="10.85" fill="#ffb0b0"/>
<rect x="1511.86" y="207.24" width="43.41" height="3.62" fill="#ffdbdb"/>
<rect x="1511.86" y="210.85" width="43.41" height="3.62" fill="#ffb0b0"/>
<rect x="1511.86" y="214.47" width="43.41" height="3.62" fill="#ff8686"/>
<rect x="1511.86" y="218.09" width="43.41" height="3.62" fill="#ffb0b0"/>
<rect x="1511.86" y="221.71" width="43.41" height="3.62" fill="#ffdbdb"/>
<rect x="1511.86" y="225.33" width="43.41" height="7.24" fill="#ffb0b0"/>
<rect x="1511.86" y="232.56" width="43.41" height="3.62" fill="#ff8686"/>
<rect x="1511.86" y="236.18" width="43.41" height="10.85" fill="#ffb0b0"/>
<rect x="1511.86" y="247.04" width="43.41" height="3.62" fill="#dbdbff"/>
<rect x="1511.86" y="250.65" width="43.41" height="3.62" fill="#ffdbdb"/>
<rect x="1511.86" y="254.27" width="43.41" height="3.62" fill="#ffffff"/>
<rect x="1511.86" y="257.89" width="43.41" height="3.62" fill="#ff8686"/>
<rect x="1511.86" y="261.51" width="43.41" height="3.62" fill="#ffdbdb"/>
<rect x="1511.86" y="265.13" width="43.41" height="10.85" fill="#ff5959"/>
<rect x="1511.86" y="275.98" width="43.41" height="7.24" fill="#ff3333"/>
<rect x="1511.86" y="283.22" width="43.41" height="3.62" fill="#ff0000"/>
<rect x="1511.86" y="286.83" width="43.41" height="3.62" fill="#ff3333"/>
<rect x="1511.86" y="290.45" width="43.41" height="7.24" fill="#ff5959"/>
<rect x="1511.86" y="297.69" width="43.41" height="7.24" fill="#ff8686"/>
<rect x="1511.86" y="304.92" width="43.41" height="10.85" fill="#ff3333"/>
<rect x="1511.86" y="315.78" width="43.41" height="14.47" fill="#ff5959"/>
<rect x="1511.86" y="330.25" width="43.41" height="7.24" fill="#ff3333"/>
<rect x="1511.86" y="337.49" width="43.41" height="7.24" fill="#ff8686"/>
<rect x="1511.86" y="344.72" width="43.41" height="3.62" fill="#ff5959"/>
<rect x="1511.86" y="348.34" width="43.41" height="3.62" fill="#ff8686"/>
<rect x="1511.86" y="351.96" width="43.41" height="10.85" fill="#ff5959"/>
<rect x="1511.86" y="362.81" width="43.41" height="3.62" fill="#ffb0b0"/>
<rect x="1511.86" y="366.43" width="43.41" height="3.62" fill="#ff5959"/>
<rect x="1555.27" y="87.84" width="43.41" height="3.62" fill="#ffdbdb"/>
<rect x="1555.27" y="91.46" width="43.41" height="3.62" fill="#ffffff"/>
<rect x="1555.27" y="95.08" width="43.41" height="7.24" fill="#ffb0b0"/>
<rect x="1555.27" y="102.31" width="43.41" height="3.62" fill="#dbdbff"/>
<rect x="1555.27" y="105.93" width="43.41" height="3.62" fill="#ff8686"/>
<rect x="1555.27" y="109.55" width="43.41" height="3.62" fill="#8686ff"/>
<rect x="1555.27" y="113.17" width="43.41" height="3.62" fill="#6060ff"/>
<rect x="1555.27" y="116.78" width="43.41" height="21.71" fill="#8686ff"/>
<rect x="1555.27" y="138.49" width="43.41" height="10.85" fill="#b0b0ff"/>
<rect x="1555.27" y="149.35" width="43.41" height="7.24" fill="#8686ff"/>
<rect x="1555.27" y="156.58" width="43.41" height="7.24" fill="#dbdbff"/>
<rect x="1555.27" y="163.82" width="43.41" height="3.62" fill="#ffffff"/>
<rect x="1555.27" y="167.44" width="43.41" height="7.24" fill="#ffdbdb"/>
<rect x="1555.27" y="174.67" width="43.41" height="3.62" fill="#ffffff"/>
<rect x="1555.27" y="178.29" width="43.41" height="10.85" fill="#dbdbff"/>
<rect x="1555.27" y="189.15" width="43.41" height="10.85" fill="#ffb0b0"/>
<rect x="1555.27" y="200.00" width="43.41" height="10.85" fill="#ff8686"/>
<rect x="1555.27" y="210.85" width="43.41" height="10.85" fill="#ffb0b0"/>
<rect x="1555.27" y="221.71" width="43.41" height="3.62" fill="#dbdbff"/>
<rect x="1555.27" y="225.33" width="43.41" height="7.24" fill="#ffdbdb"/>
<rect x="1555.27" y="232.56" width="43.41" height="14.47" fill="#ffffff"/>
<rect x="1555.27" y="247.04" width="43.41" height="3.62" fill="#dbdbff"/>
<rect x="1555.27" y="250.65" width="43.41" height="7.24" fill="#ffdbdb"/>
<rect x="1555.27" y="257.89" width="43.41" height="7.24" fill="#ff3333"/>
<rect x="1555.27" y="265.13" width="43.41" height="3.62" fill="#ffb0b0"/>
<rect x="1555.27" y="268.74" width="43.41" height="7.24" fill="#ff3333"/>
<rect x="1555.27" y="275.98" width="43.41" height="7.24" fill="#ff8686"/>
<rect x="1555.27" y="283.22" width="43.41" height="7.24" fill="#ffb0b0"/>
<rect x="1555.27" y="290.45" width="43.41" height="3.62" fill="#dbdbff"/>
<rect x="1555.27" y="294.07" width="43.41" height="21.71" fill="#ffdbdb"/>
<rect x="1555.27" y="315.78" width="43.41" height="3.62" fill="#ffb0b0"/>
<rect x="1555.27" y="319.40" width="43.41" height="7.24" fill="#ffdbdb"/>
<rect x="1555.27" y="326.63" width="43.41" height="3.62" fill="#ffffff"/>
<rect x="1555.27" y="330.25" width="43.41" height="3.62" fill="#ffb0b0"/>
<rect x="1555.27" y="333.87" width="43.41" height="3.62" fill="#ffdbdb"/>
<rect x="1555.27" y="337.49" width="43.41" height="3.62" fill="#ff8686"/>
<rect x="1555.27" y="341.11" width="43.41" height="7.24" fill="#ffb0b0"/>
<rect x="1555.27" y="348.34" width="43.41" height="3.62" fill="#ff8686"/>
<rect x="1555.27" y="351.96" width="43.41" height="7.24" fill="#ffb0b0"/>
<rect x="1555.27" y="359.20" width="43.41" height="10.85" fill="#ff5959"/>
<rect x="1598.67" y="87.84" width="43.41" height="3.62" fill="#ffffff"/>
<rect x="1598.67" y="91.46" width="43.41" height="7.24" fill="#ff8686"/>
<rect x="1598.67" y="98.69" width="43.41" height="3.62" fill="#ff5959"/>
<rect x="1598.67" y="102.31" width="43.41" height="3.62" fill="#ff0000"/>
<rect x="1598.67" y="105.93" width="43.41" height="3.62" fill="#ff3333"/>
<rect x="1598.67" y="109.55" width="43.41" height="10.85" fill="#8686ff"/>
<rect x="1598.67" y="120.40" width="43.41" height="7.24" fill="#dbdbff"/>
<rect x="1598.67" y="127.64" width="43.41" height="3.62" fill="#ffffff"/>
<rect x="1598.67" y="131.26" width="43.41" height="3.62" fill="#dbdbff"/>
<rect x="1598.67" y="134.88" width="43.41" height="21.71" fill="#b0b0ff"/>
<rect x="1598.67" y="156.58" width="43.41" height="3.62" fill="#8686ff"/>
<rect x="1598.67" y="160.20" width="43.41" height="3.62" fill="#b0b0ff"/>
<rect x="1598.67" y="163.82" width="43.41" height="21.71" fill="#8686ff"/>
<rect x="1598.67" y="185.53" width="43.41" height="3.62" fill="#dbdbff"/>
<rect x="1598.67" y="189.15" width="43.41" height="3.62" fill="#6060ff"/>
<rect x="1598.67" y="192.76" width="43.41" height="14.47" fill="#8686ff"/>
<rect x="1598.67" y="207.24" width="43.41" height="7.24" fill="#dbdbff"/>
<rect x="1598.67" y="214.47" width="43.41" height="3.62" fill="#b0b0ff"/>
<rect x="1598.67" y="218.09" width="43.41" height="3.62" fill="#8686ff"/>
<rect x="1598.67" y="221.71" width="43.41" height="3.62" fill="#b0b0ff"/>
<rect x="1598.67" y="225.33" width="43.41" height="7.24" fill="#8686ff"/>
<rect x="1598.67" y="232.56" width="43.41" height="14.47" fill="#b0b0ff"/>
<rect x="1598.67" y="247.04" width="43.41" height="3.62" fill="#8686ff"/>
<rect x="1598.67" y="250.65" width="43.41" height="3.62" fill="#6060ff"/>
<rect x="1598.67" y="254.27" width="43.41" height="3.62" fill="#8686ff"/>
<rect x="1598.67" y="257.89" width="43.41" height="3.62" fill="#ffdbdb"/>
<rect x="1598.67" y="261.51" width="43.41" height="3.62" fill="#b0b0ff"/>
<rect x="1598.67" y="265.13" width="43.41" height="3.62" fill="#dbdbff"/>
<rect x="1598.67" y="268.74" width="43.41" height="7.24" fill="#b0b0ff"/>
<rect x="1598.67" y="275.98" width="43.41" height="7.24" fill="#8686ff"/>
<rect x="1598.67" y="283.22" width="43.41" height="10.85" fill="#b0b0ff"/>
<rect x="1598.67" y="294.07" width="43.41" height="3.62" fill="#dbdbff"/>
<rect x="1598.67" y="297.69" width="43.41" height="7.24" fill="#6060ff"/>
<rect x="1598.67" y="304.92" width="43.41" height="3.62" fill="#b0b0ff"/>
<rect x="1598.67" y="308.54" width="43.41" height="3.62" fill="#6060ff"/>
<rect x="1598.67" y="312.16" width="43.41" height="14.47" fill="#8686ff"/>
<rect x="1598.67" y="326.63" width="43.41" height="7.24" fill="#b0b0ff"/>
<rect x="1598.67" y="333.87" width="43.41" height="3.62" fill="#6060ff"/>
<rect x="1598.67" y="337.49" width="43.41" height="3.62" fill="#b0b0ff"/>
<rect x="1598.67" y="341.11" width="43.41" height="10.85" fill="#8686ff"/>
<rect x="1598.67" y="351.96" width="43.41" height="3.62" fill="#6060ff"/>
<rect x="1598.67" y="355.58" width="43.41" height="14.47" fill="#8686ff"/>
<rect x="1642.08" y="87.84" width="43.41" height="3.62" fill="#ff0000"/>
<rect x="1642.08" y="91.46" width="43.41" height="3.62" fill="#ff5959"/>
<rect x="1642.08" y="95.08" width="43.41" height="3.62" fill="#b0b0ff"/>
<rect x="1642.08" y="98.69" width="43.41" height="7.24" fill="#dbdbff"/>
<rect x="1642.08" y="105.93" width="43.41" height="3.62" fill="#ffdbdb"/>
<rect x="1642.08" y="109.55" width="43.41" height="7.24" fill="#b0b0ff"/>
<rect x="1642.08" y="116.78" width="43.41" height="10.85" fill="#dbdbff"/>
<rect x="1642.08" y="127.64" width="43.41" height="3.62" fill="#ffb0b0"/>
<rect x="1642.08" y="131.26" width="43.41" height="18.09" fill="#ffdbdb"/>
<rect x="1642.08" y="149.35" width="43.41" height="3.62" fill="#dbdbff"/>
<rect x="1642.08" y="152.97" width="43.41" height="18.09" fill="#b0b0ff"/>
<rect x="1642.08" y="171.06" width="43.41" height="7.24" fill="#8686ff"/>
<rect x="1642.08" y="178.29" width="43.41" height="7.24" fill="#b0b0ff"/>
<rect x="1642.08" y="185.53" width="43.41" height="3.62" fill="#dbdbff"/>
<rect x="1642.08" y="189.15" width="43.41" height="18.09" fill="#b0b0ff"/>
<rect x="1642.08" y="207.24" width="43.41" height="3.62" fill="#8686ff"/>
<rect x="1642.08" y="210.85" width="43.41" height="3.62" fill="#dbdbff"/>
<rect x="1642.08" y="214.47" width="43.41" height="21.71" fill="#b0b0ff"/>
<rect x="1642.08" y="236.18" width="43.41" height="3.62" fill="#8686ff"/>
<rect x="1642.08" y="239.80" width="43.41" height="14.47" fill="#b0b0ff"/>
<rect x="1642.08" y="254.27" width="43.41" height="3.62" fill="#8686ff"/>
<rect x="1642.08" y="257.89" width="43.41" height="7.24" fill="#b0b0ff"/>
<rect x="1642.08" y="265.13" width="43.41" height="3.62" fill="#4040ff"/>
<rect x="1642.08" y="268.74" width="43.41" height="3.62" fill="#b0b0ff"/>
<rect x="1642.08" y="272.36" width="43.41" height="3.62" fill="#dbdbff"/>
<rect x="1642.08" y="275.98" width="43.41" height="7.24" fill="#b0b0ff"/>
<rect x="1642.08" y="283.22" width="43.41" height="3.62" fill="#dbdbff"/>
<rect x="1642.08" y="286.83" width="43.41" height="18.09" fill="#b0b0ff"/>
<rect x="1642.08" y="304.92" width="43.41" height="3.62" fill="#8686ff"/>
<rect x="1642.08" y="308.54" width="43.41" height="7.24" fill="#dbdbff"/>
<rect x="1642.08" y="315.78" width="43.41" height="3.62" fill="#ffffff"/>
<rect x="1642.08" y="319.40" width="43.41" height="3.62" fill="#dbdbff"/>
<rect x="1642.08" y="323.02" width="43.41" height="7.24" fill="#b0b0ff"/>
<rect x="1642.08" y="330.25" width="43.41" height="3.62" fill="#dbdbff"/>
<rect x="1642.08" y="333.87" width="43.41" height="3.62" fill="#ffffff"/>
<rect x="1642.08" y="337.49" width="43.41" height="10.85" fill="#8686ff"/>
<rect x="1642.08" y="348.34" width="43.41" height="10.85" fill="#b0b0ff"/>
<rect x="1642.08" y="359.20" width="43.41" height="3.62" fill="#dbdbff"/>
<rect x="1642.08" y="362.81" width="43.41" height="3.62" fill="#b0b0ff"/>
<rect x="1642.08" y="366.43" width="43.41" height="3.62" fill="#8686ff"/>
<rect x="1685.48" y="87.84" width="43.41" height="7.24" fill="#dbdbff"/>
<rect x="1685.48" y="95.08" width="43.41" height="7.24" fill="#8686ff"/>
<rect x="1685.48" y="102.31" width="43.41" height="3.62" fill="#dbdbff"/>
<rect x="1685.48" y="105.93" width="43.41" height="3.62" fill="#b0b0ff"/>
<rect x="1685.48" y="109.55" width="43.41" height="3.62" fill="#ffb0b0"/>
<rect x="1685.48" y="113.17" width="43.41" height="3.62" fill="#ffdbdb"/>
<rect x="1685.48" y="116.78" width="43.41" height="3.62" fill="#ffffff"/>
<rect x="1685.48" y="120.40" width="43.41" height="7.24" fill="#dbdbff"/>
<rect x="1685.48" y="127.64" width="43.41" height="7.24" fill="#ff5959"/>
<rect x="1685.48" y="134.88" width="43.41" height="14.47" fill="#ff3333"/>
<rect x="1685.48" y="149.35" width="43.41" height="3.62" fill="#ff5959"/>
<rect x="1685.48" y="152.97" width="43.41" height="3.62" fill="#ff3333"/>
<rect x="1685.48" y="156.58" width="43.41" height="3.62" fill="#ff5959"/>
<rect x="1685.48" y="160.20" width="43.41" height="7.24" fill="#ffdbdb"/>
<rect x="1685.48" y="167.44" width="43.41" height="3.62" fill="#dbdbff"/>
<rect x="1685.48" y="171.06" width="43.41" height="3.62" fill="#ff8686"/>
<rect x="1685.48" y="174.67" width="43.41" height="3.62" fill="#ffdbdb"/>
<rect x="1685.48" y="178.29" width="43.41" height="7.24" fill="#ffb0b0"/>
<rect x="1685.48" y="185.53" width="43.41" height="7.24" fill="#dbdbff"/>
<rect x="1685.48" y="192.76" width="43.41" height="18.09" fill="#b0b0ff"/>
<rect x="1685.48" y="210.85" width="43.41" height="3.62" fill="#8686ff"/>
<rect x="1685.48" y="214.47" width="43.41" height="3.62" fill="#b0b0ff"/>
<rect x="1685.48" y="218.09" width="43.41" height="21.71" fill="#dbdbff"/>
<rect x="1685.48" y="239.80" width="43.41" height="7.24" fill="#b0b0ff"/>
<rect x="1685.48" y="247.04" width="43.41" height="3.62" fill="#ffffff"/>
<rect x="1685.48" y="250.65" width="43.41" height="7.24" fill="#ffdbdb"/>
<rect x="1685.48" y="257.89" width="43.41" height="3.62" fill="#8686ff"/>
<rect x="1685.48" y="261.51" width="43.41" height="3.62" fill="#dbdbff"/>
<rect x="1685.48" y="265.13" width="43.41" height="3.62" fill="#8686ff"/>
<rect x="1685.48" y="268.74" width="43.41" height="3.62" fill="#ffffff"/>
<rect x="1685.48" y="272.36" width="43.41" height="10.85" fill="#dbdbff"/>
<rect x="1685.48" y="283.22" width="43.41" height="3.62" fill="#b0b0ff"/>
<rect x="1685.48" y="286.83" width="43.41" height="3.62" fill="#dbdbff"/>
<rect x="1685.48" y="290.45" width="43.41" height="7.24" fill="#8686ff"/>
<rect x="1685.48" y="297.69" width="43.41" height="14.47" fill="#b0b0ff"/>
<rect x="1685.48" y="312.16" width="43.41" height="7.24" fill="#8686ff"/>
<rect x="1685.48" y="319.40" width="43.41" height="3.62" fill="#b0b0ff"/>
<rect x="1685.48" y="323.02" width="43.41" height="3.62" fill="#ffffff"/>
<rect x="1685.48" y="326.63" width="43.41" height="3.62" fill="#dbdbff"/>
<rect x="1685.48" y="330.25" width="43.41" height="7.24" fill="#b0b0ff"/>
<rect x="1685.48" y="337.49" width="43.41" height="10.85" fill="#ffdbdb"/>
<rect x="1685.48" y="348.34" width="43.41" height="3.62" fill="#ffb0b0"/>
<rect x="1685.48" y="351.96" width="43.41" height="3.62" fill="#ffdbdb"/>
<rect x="1685.48" y="355.58" width="43.41" height="3.62" fill="#ffb0b0"/>
<rect x="1685.48" y="359.20" width="43.41" height="7.24" fill="#dbdbff"/>
<rect x="1685.48" y="366.43" width="43.41" height="3.62" fill="#ffffff"/>
<rect x="1728.89" y="87.84" width="43.41" height="3.62" fill="#dbdbff"/>
<rect x="1728.89" y="91.46" width="43.41" height="3.62" fill="#ffdbdb"/>
<rect x="1728.89" y="95.08" width="43.41" height="7.24" fill="#8686ff"/>
<rect x="1728.89" y="102.31" width="43.41" height="3.62" fill="#dbdbff"/>
<rect x="1728.89" y="105.93" width="43.41" height="3.62" fill="#b0b0ff"/>
<rect x="1728.89" y="109.55" width="43.41" height="7.24" fill="#ffb0b0"/>
<rect x="1728.89" y="116.78" width="43.41" height="7.24" fill="#ff8686"/>
<rect x="1728.89" y="124.02" width="43.41" height="7.24" fill="#ffb0b0"/>
<rect x="1728.89" y="131.26" width="43.41" height="3.62" fill="#ff3333"/>
<rect x="1728.89" y="134.88" width="43.41" height="3.62" fill="#ff8686"/>
<rect x="1728.89" y="138.49" width="43.41" height="10.85" fill="#ffb0b0"/>
<rect x="1728.89" y="149.35" width="43.41" height="3.62" fill="#ff8686"/>
<rect x="1728.89" y="152.97" width="43.41" height="3.62" fill="#ffffff"/>
<rect x="1728.89" y="156.58" width="43.41" height="3.62" fill="#8686ff"/>
<rect x="1728.89" y="160.20" width="43.41" height="10.85" fill="#b0b0ff"/>
<rect x="1728.89" y="171.06" width="43.41" height="14.47" fill="#8686ff"/>
<rect x="1728.89" y="185.53" width="43.41" height="3.62" fill="#dbdbff"/>
<rect x="1728.89" y="189.15" width="43.41" height="14.47" fill="#b0b0ff"/>
<rect x="1728.89" y="203.62" width="43.41" height="7.24" fill="#dbdbff"/>
<rect x="1728.89" y="210.85" width="43.41" height="3.62" fill="#8686ff"/>
<rect x="1728.89" y="214.47" width="43.41" height="50.65" fill="#b0b0ff"/>
<rect x="1728.89" y="265.13" width="43.41" height="3.62" fill="#ffdbdb"/>
<rect x="1728.89" y="268.74" width="43.41" height="7.24" fill="#b0b0ff"/>
<rect x="1728.89" y="275.98" width="43.41" height="7.24" fill="#dbdbff"/>
<rect x="1728.89" y="283.22" width="43.41" height="10.85" fill="#b0b0ff"/>
<rect x="1728.89" y="294.07" width="43.41" height="3.62" fill="#6060ff"/>
<rect x="1728.89" y="297.69" width="43.41" height="14.47" fill="#8686ff"/>
<rect x="1728.89" y="312.16" width="43.41" height="25.33" fill="#b0b0ff"/>
<rect x="1728.89" y="337.49" width="43.41" height="3.62" fill="#8686ff"/>
<rect x="1728.89" y="341.11" width="43.41" height="10.85" fill="#b0b0ff"/>
<rect x="1728.89" y="351.96" width="43.41" height="3.62" fill="#8686ff"/>
<rect x="1728.89" y="355.58" width="43.41" height="3.62" fill="#b0b0ff"/>
<rect x="1728.89" y="359.20" width="43.41" height="3.62" fill="#8686ff"/>
<rect x="1728.89" y="362.81" width="43.41" height="7.24" fill="#dbdbff"/>
<rect x="1772.29" y="87.84" width="43.41" height="7.24" fill="#dbdbff"/>
<rect x="1772.29" y="95.08" width="43.41" height="3.62" fill="#b0b0ff"/>
<rect x="1772.29" y="98.69" width="43.41" height="10.85" fill="#dbdbff"/>
<rect x="1772.29" y="109.55" width="43.41" height="7.24" fill="#ff8686"/>
<rect x="1772.29" y="116.78" width="43.41" height="10.85" fill="#ff3333"/>
<rect x="1772.29" y="127.64" width="43.41" height="3.62" fill="#ffb0b0"/>
<rect x="1772.29" y="131.26" width="43.41" height="3.62" fill="#dbdbff"/>
<rect x="1772.29" y="134.88" width="43.41" height="3.62" fill="#ffffff"/>
<rect x="1772.29" y="138.49" width="43.41" height="10.85" fill="#ffdbdb"/>
<rect x="1772.29" y="149.35" width="43.41" height="3.62" fill="#ffffff"/>
<rect x="1772.29" y="152.97" width="43.41" height="3.62" fill="#dbdbff"/>
<rect x="1772.29" y="156.58" width="43.41" height="18.09" fill="#b0b0ff"/>
<rect x="1772.29" y="174.67" width="43.41" height="32.56" fill="#dbdbff"/>
<rect x="1772.29" y="207.24" width="43.41" height="10.85" fill="#b0b0ff"/>
<rect x="1772.29" y="218.09" width="43.41" height="3.62" fill="#dbdbff"/>
<rect x="1772.29" y="221.71" width="43.41" height="14.47" fill="#b0b0ff"/>
<rect x="1772.29" y="236.18" width="43.41" height="3.62" fill="#dbdbff"/>
<rect x="1772.29" y="239.80" width="43.41" height="3.62" fill="#ffffff"/>
<rect x="1772.29" y="243.42" width="43.41" height="3.62" fill="#dbdbff"/>
<rect x="1772.29" y="247.04" width="43.41" height="3.62" fill="#ffffff"/>
<rect x="1772.29" y="250.65" width="43.41" height="3.62" fill="#dbdbff"/>
<rect x="1772.29" y="254.27" width="43.41" height="3.62" fill="#b0b0ff"/>
<rect x="1772.29" y="257.89" width="43.41" height="10.85" fill="#dbdbff"/>
<rect x="1772.29" y="268.74" width="43.41" height="21.71" fill="#b0b0ff"/>
<rect x="1772.29" y="290.45" width="43.41" height="7.24" fill="#ffb0b0"/>
<rect x="1772.29" y="297.69" width="43.41" height="7.24" fill="#ff8686"/>
<rect x="1772.29" y="304.92" width="43.41" height="3.62" fill="#ffb0b0"/>
<rect x="1772.29" y="308.54" width="43.41" height="3.62" fill="#ffdbdb"/>
<rect x="1772.29" y="312.16" width="43.41" height="36.18" fill="#b0b0ff"/>
<rect x="1772.29" y="348.34" width="43.41" height="3.62" fill="#8686ff"/>
<rect x="1772.29" y="351.96" width="43.41" height="3.62" fill="#b0b0ff"/>
<rect x="1772.29" y="355.58" width="43.41" height="14.47" fill="#8686ff"/>
<rect x="1334.80" y="87.84" width="36.30" height="3.62" fill="#fdbfc3"/>
<rect x="1334.80" y="91.46" width="36.30" height="10.85" fill="#db3247"/>
<rect x="1334.80" y="102.31" width="36.30" height="3.62" fill="#fdbfc3"/>
<rect x="1334.80" y="105.93" width="36.30" height="47.04" fill="#db3247"/>
<rect x="1334.80" y="152.97" width="36.30" height="32.56" fill="#1f6781"/>
<rect x="1334.80" y="185.53" width="36.30" height="7.24" fill="#db3247"/>
<rect x="1334.80" y="192.76" width="36.30" height="14.47" fill="#1f6781"/>
<rect x="1334.80" y="207.24" width="36.30" height="7.24" fill="#db3247"/>
<rect x="1334.80" y="214.47" width="36.30" height="18.09" fill="#1f6781"/>
<rect x="1334.80" y="232.56" width="36.30" height="7.24" fill="#db3247"/>
<rect x="1334.80" y="239.80" width="36.30" height="7.24" fill="#1f6781"/>
<rect x="1334.80" y="247.04" width="36.30" height="7.24" fill="#db3247"/>
<rect x="1334.80" y="254.27" width="36.30" height="3.62" fill="#1f6781"/>
<rect x="1334.80" y="257.89" width="36.30" height="3.62" fill="#db3247"/>
<rect x="1334.80" y="261.51" width="36.30" height="3.62" fill="#86d3e8"/>
<rect x="1334.80" y="265.13" width="36.30" height="3.62" fill="#db3247"/>
<rect x="1334.80" y="268.74" width="36.30" height="14.47" fill="#1f6781"/>
<rect x="1334.80" y="283.22" width="36.30" height="3.62" fill="#db3247"/>
<rect x="1334.80" y="286.83" width="36.30" height="7.24" fill="#1f6781"/>
<rect x="1334.80" y="294.07" width="36.30" height="3.62" fill="#db3247"/>
<rect x="1334.80" y="297.69" width="36.30" height="14.47" fill="#1f6781"/>
<rect x="1334.80" y="312.16" width="36.30" height="10.85" fill="#db3247"/>
<rect x="1334.80" y="323.02" width="36.30" height="7.24" fill="#1f6781"/>
<rect x="1334.80" y="330.25" width="36.30" height="7.24" fill="#db3247"/>
<rect x="1334.80" y="337.49" width="36.30" height="21.71" fill="#1f6781"/>
<rect x="1334.80" y="359.20" width="36.30" height="3.62" fill="#db3247"/>
<rect x="1334.80" y="362.81" width="36.30" height="7.24" fill="#1f6781"/>
<rect x="1378.10" y="87.84" width="36.30" height="3.62" fill="#fee6b6"/>
<rect x="1378.10" y="91.46" width="36.30" height="3.62" fill="#00ffff"/>
<rect x="1378.10" y="95.08" width="36.30" height="7.24" fill="#e9c54b"/>
<rect x="1378.10" y="102.31" width="36.30" height="3.62" fill="#d05f78"/>
<rect x="1378.10" y="105.93" width="36.30" height="3.62" fill="#cfa1de"/>
<rect x="1378.10" y="109.55" width="36.30" height="43.42" fill="#fd8a3a"/>
<rect x="1378.10" y="152.97" width="36.30" height="32.56" fill="#3a8f6b"/>
<rect x="1378.10" y="185.53" width="36.30" height="3.62" fill="#fad07c"/>
<rect x="1378.10" y="189.15" width="36.30" height="3.62" fill="#00ffff"/>
<rect x="1378.10" y="192.76" width="36.30" height="14.47" fill="#6cc98e"/>
<rect x="1378.10" y="207.24" width="36.30" height="3.62" fill="#e9c54b"/>
<rect x="1378.10" y="210.85" width="36.30" height="3.62" fill="#fb4b4b"/>
<rect x="1378.10" y="214.47" width="36.30" height="7.24" fill="#6cc98e"/>
<rect x="1378.10" y="221.71" width="36.30" height="7.24" fill="#c73456"/>
<rect x="1378.10" y="228.95" width="36.30" height="3.62" fill="#6cc98e"/>
<rect x="1378.10" y="232.56" width="36.30" height="7.24" fill="#fb4b4b"/>
<rect x="1378.10" y="239.80" width="36.30" height="7.24" fill="#ef7373"/>
<rect x="1378.10" y="247.04" width="36.30" height="7.24" fill="#00ffff"/>
<rect x="1378.10" y="254.27" width="36.30" height="3.62" fill="#3a8f6b"/>
<rect x="1378.10" y="257.89" width="36.30" height="3.62" fill="#e38592"/>
<rect x="1378.10" y="261.51" width="36.30" height="3.62" fill="#a062c6"/>
<rect x="1378.10" y="265.13" width="36.30" height="3.62" fill="#e9c54b"/>
<rect x="1378.10" y="268.74" width="36.30" height="14.47" fill="#3a8f6b"/>
<rect x="1378.10" y="283.22" width="36.30" height="3.62" fill="#f6a38a"/>
<rect x="1378.10" y="286.83" width="36.30" height="3.62" fill="#3a8f6b"/>
<rect x="1378.10" y="290.45" width="36.30" height="3.62" fill="#ef7373"/>
<rect x="1378.10" y="294.07" width="36.30" height="3.62" fill="#fb4b4b"/>
<rect x="1378.10" y="297.69" width="36.30" height="7.24" fill="#ef7373"/>
<rect x="1378.10" y="304.92" width="36.30" height="7.24" fill="#3a8f6b"/>
<rect x="1378.10" y="312.16" width="36.30" height="3.62" fill="#fb4b4b"/>
<rect x="1378.10" y="315.78" width="36.30" height="3.62" fill="#00ffff"/>
<rect x="1378.10" y="319.40" width="36.30" height="3.62" fill="#fb4b4b"/>
<rect x="1378.10" y="323.02" width="36.30" height="7.24" fill="#3a8f6b"/>
<rect x="1378.10" y="330.25" width="36.30" height="3.62" fill="#fb4b4b"/>
<rect x="1378.10" y="333.87" width="36.30" height="3.62" fill="#00ffff"/>
<rect x="1378.10" y="337.49" width="36.30" height="21.71" fill="#3a8f6b"/>
<rect x="1378.10" y="359.20" width="36.30" height="3.62" fill="#00ffff"/>
<rect x="1378.10" y="362.81" width="36.30" height="7.24" fill="#3a8f6b"/>
</g>
<polygon fill="#000" points="1328.75,88.14 1257.53,88.14 1257.53,94.92 1293.48,94.92 1293.48,102.39 1261.60,102.39 1261.60,109.17 1315.86,109.17 1315.86,119.34 1321.97,119.34 1321.97,127.48 1321.29,127.48 1321.29,149.19 1268.38,149.19 1268.38,155.97 1276.52,155.97 1276.52,164.11 1287.37,164.11 1287.37,174.97 1296.19,174.97 1296.19,183.11 1307.72,183.11 1307.72,192.60 1317.22,192.60 1317.22,207.53 1309.08,207.53 1309.08,246.87 1290.09,246.87 1290.09,260.44 1262.95,260.44 1262.95,265.86 1306.37,265.86 1306.37,291.64 1300.94,291.64 1300.94,299.78 1313.15,299.78 1313.15,305.21 1286.70,305.21 1286.70,313.35 1300.94,313.35 1300.94,333.70 1310.44,333.70 1310.44,349.98 1302.98,349.98 1302.98,359.47 1299.58,359.47 1299.58,369.65 1328.75,369.65"/>
<line x1="1138.7" y1="96.3" x2="1174.8" y2="96.3" stroke="#000" stroke-width="3"/>
<line x1="1173.3" y1="91.5" x2="1257.5" y2="91.5" stroke="#000" stroke-width="3"/>
<line x1="1173.3" y1="102.4" x2="1223.6" y2="102.4" stroke="#000" stroke-width="3"/>
<line x1="1222.1" y1="98.3" x2="1293.5" y2="98.3" stroke="#000" stroke-width="3"/>
<line x1="1222.1" y1="105.8" x2="1261.6" y2="105.8" stroke="#000" stroke-width="3"/>
<line x1="1138.7" y1="129.5" x2="1192.4" y2="129.5" stroke="#000" stroke-width="3"/>
<line x1="1190.9" y1="116.6" x2="1252.1" y2="116.6" stroke="#000" stroke-width="3"/>
<line x1="1250.6" y1="112.6" x2="1315.9" y2="112.6" stroke="#000" stroke-width="3"/>
<line x1="1250.6" y1="120.7" x2="1312.5" y2="120.7" stroke="#000" stroke-width="3"/>
<line x1="1311.0" y1="118.7" x2="1322.0" y2="118.7" stroke="#000" stroke-width="3"/>
<line x1="1311.0" y1="124.1" x2="1322.0" y2="124.1" stroke="#000" stroke-width="3"/>
<line x1="1190.9" y1="143.1" x2="1220.9" y2="143.1" stroke="#000" stroke-width="3"/>
<line x1="1219.4" y1="132.2" x2="1272.5" y2="132.2" stroke="#000" stroke-width="3"/>
<line x1="1271.0" y1="128.8" x2="1322.0" y2="128.8" stroke="#000" stroke-width="3"/>
<line x1="1271.0" y1="136.3" x2="1281.9" y2="136.3" stroke="#000" stroke-width="3"/>
<line x1="1280.4" y1="133.6" x2="1296.2" y2="133.6" stroke="#000" stroke-width="3"/>
<line x1="1280.4" y1="139.7" x2="1296.9" y2="139.7" stroke="#000" stroke-width="3"/>
<line x1="1295.4" y1="137.7" x2="1321.3" y2="137.7" stroke="#000" stroke-width="3"/>
<line x1="1295.4" y1="143.8" x2="1321.3" y2="143.8" stroke="#000" stroke-width="3"/>
<line x1="1219.4" y1="152.6" x2="1268.4" y2="152.6" stroke="#000" stroke-width="3"/>
<line x1="1138.7" y1="239.4" x2="1177.5" y2="239.4" stroke="#000" stroke-width="3"/>
<line x1="1176.0" y1="185.1" x2="1214.8" y2="185.1" stroke="#000" stroke-width="3"/>
<line x1="1213.3" y1="164.8" x2="1238.5" y2="164.8" stroke="#000" stroke-width="3"/>
<line x1="1237.0" y1="159.4" x2="1276.5" y2="159.4" stroke="#000" stroke-width="3"/>
<line x1="1237.0" y1="172.3" x2="1257.5" y2="172.3" stroke="#000" stroke-width="3"/>
<line x1="1256.0" y1="166.8" x2="1286.7" y2="166.8" stroke="#000" stroke-width="3"/>
<line x1="1256.0" y1="176.3" x2="1284.0" y2="176.3" stroke="#000" stroke-width="3"/>
<line x1="1282.5" y1="173.6" x2="1296.2" y2="173.6" stroke="#000" stroke-width="3"/>
<line x1="1282.5" y1="179.7" x2="1296.9" y2="179.7" stroke="#000" stroke-width="3"/>
<line x1="1295.4" y1="177.0" x2="1307.7" y2="177.0" stroke="#000" stroke-width="3"/>
<line x1="1295.4" y1="182.4" x2="1307.7" y2="182.4" stroke="#000" stroke-width="3"/>
<line x1="1215.3" y1="187.2" x2="1307.0" y2="187.2" stroke="#000" stroke-width="3"/>
<line x1="1216.0" y1="223.1" x2="1246.0" y2="223.1" stroke="#000" stroke-width="3"/>
<line x1="1244.5" y1="203.5" x2="1271.8" y2="203.5" stroke="#000" stroke-width="3"/>
<line x1="1270.3" y1="194.6" x2="1298.9" y2="194.6" stroke="#000" stroke-width="3"/>
<line x1="1297.4" y1="191.2" x2="1317.2" y2="191.2" stroke="#000" stroke-width="3"/>
<line x1="1297.4" y1="200.1" x2="1304.3" y2="200.1" stroke="#000" stroke-width="3"/>
<line x1="1302.8" y1="196.0" x2="1317.2" y2="196.0" stroke="#000" stroke-width="3"/>
<line x1="1302.8" y1="203.5" x2="1317.2" y2="203.5" stroke="#000" stroke-width="3"/>
<line x1="1270.3" y1="212.3" x2="1281.9" y2="212.3" stroke="#000" stroke-width="3"/>
<line x1="1280.4" y1="208.2" x2="1317.2" y2="208.2" stroke="#000" stroke-width="3"/>
<line x1="1280.4" y1="215.7" x2="1294.2" y2="215.7" stroke="#000" stroke-width="3"/>
<line x1="1292.7" y1="213.6" x2="1308.4" y2="213.6" stroke="#000" stroke-width="3"/>
<line x1="1292.7" y1="218.4" x2="1308.4" y2="218.4" stroke="#000" stroke-width="3"/>
<line x1="1244.5" y1="241.4" x2="1265.0" y2="241.4" stroke="#000" stroke-width="3"/>
<line x1="1263.5" y1="231.3" x2="1284.0" y2="231.3" stroke="#000" stroke-width="3"/>
<line x1="1282.5" y1="225.8" x2="1294.2" y2="225.8" stroke="#000" stroke-width="3"/>
<line x1="1292.7" y1="223.1" x2="1308.4" y2="223.1" stroke="#000" stroke-width="3"/>
<line x1="1292.7" y1="228.6" x2="1308.4" y2="228.6" stroke="#000" stroke-width="3"/>
<line x1="1282.5" y1="237.4" x2="1294.2" y2="237.4" stroke="#000" stroke-width="3"/>
<line x1="1292.7" y1="234.7" x2="1311.1" y2="234.7" stroke="#000" stroke-width="3"/>
<line x1="1292.7" y1="240.8" x2="1311.1" y2="240.8" stroke="#000" stroke-width="3"/>
<line x1="1263.5" y1="251.6" x2="1281.9" y2="251.6" stroke="#000" stroke-width="3"/>
<line x1="1280.4" y1="248.9" x2="1290.1" y2="248.9" stroke="#000" stroke-width="3"/>
<line x1="1280.4" y1="254.3" x2="1290.1" y2="254.3" stroke="#000" stroke-width="3"/>
<line x1="1176.0" y1="293.0" x2="1211.4" y2="293.0" stroke="#000" stroke-width="3"/>
<line x1="1209.9" y1="266.5" x2="1232.4" y2="266.5" stroke="#000" stroke-width="3"/>
<line x1="1230.9" y1="261.1" x2="1263.0" y2="261.1" stroke="#000" stroke-width="3"/>
<line x1="1230.9" y1="272.0" x2="1248.0" y2="272.0" stroke="#000" stroke-width="3"/>
<line x1="1246.5" y1="266.5" x2="1306.4" y2="266.5" stroke="#000" stroke-width="3"/>
<line x1="1246.5" y1="277.4" x2="1279.2" y2="277.4" stroke="#000" stroke-width="3"/>
<line x1="1277.7" y1="272.0" x2="1313.8" y2="272.0" stroke="#000" stroke-width="3"/>
<line x1="1277.7" y1="282.8" x2="1298.9" y2="282.8" stroke="#000" stroke-width="3"/>
<line x1="1297.4" y1="279.4" x2="1313.8" y2="279.4" stroke="#000" stroke-width="3"/>
<line x1="1297.4" y1="286.2" x2="1307.7" y2="286.2" stroke="#000" stroke-width="3"/>
<line x1="1209.9" y1="319.5" x2="1220.9" y2="319.5" stroke="#000" stroke-width="3"/>
<line x1="1219.4" y1="299.1" x2="1258.9" y2="299.1" stroke="#000" stroke-width="3"/>
<line x1="1257.4" y1="294.4" x2="1300.9" y2="294.4" stroke="#000" stroke-width="3"/>
<line x1="1257.4" y1="305.2" x2="1274.5" y2="305.2" stroke="#000" stroke-width="3"/>
<line x1="1273.0" y1="300.5" x2="1313.2" y2="300.5" stroke="#000" stroke-width="3"/>
<line x1="1273.0" y1="309.3" x2="1286.7" y2="309.3" stroke="#000" stroke-width="3"/>
<line x1="1219.4" y1="338.4" x2="1250.1" y2="338.4" stroke="#000" stroke-width="3"/>
<line x1="1248.6" y1="322.2" x2="1273.8" y2="322.2" stroke="#000" stroke-width="3"/>
<line x1="1272.3" y1="316.1" x2="1300.9" y2="316.1" stroke="#000" stroke-width="3"/>
<line x1="1272.3" y1="328.3" x2="1286.0" y2="328.3" stroke="#000" stroke-width="3"/>
<line x1="1284.5" y1="323.5" x2="1309.8" y2="323.5" stroke="#000" stroke-width="3"/>
<line x1="1284.5" y1="333.7" x2="1298.9" y2="333.7" stroke="#000" stroke-width="3"/>
<line x1="1248.6" y1="354.7" x2="1271.1" y2="354.7" stroke="#000" stroke-width="3"/>
<line x1="1269.6" y1="347.3" x2="1291.4" y2="347.3" stroke="#000" stroke-width="3"/>
<line x1="1289.9" y1="341.8" x2="1311.1" y2="341.8" stroke="#000" stroke-width="3"/>
<line x1="1289.9" y1="352.7" x2="1303.0" y2="352.7" stroke="#000" stroke-width="3"/>
<line x1="1269.6" y1="363.5" x2="1290.1" y2="363.5" stroke="#000" stroke-width="3"/>
<line x1="1288.6" y1="360.2" x2="1305.0" y2="360.2" stroke="#000" stroke-width="3"/>
<line x1="1288.6" y1="366.3" x2="1299.6" y2="366.3" stroke="#000" stroke-width="3"/>
<line x1="1140.2" y1="94.8" x2="1140.2" y2="240.9" stroke="#000" stroke-width="3"/>
<line x1="1139.2" y1="94.8" x2="1139.2" y2="186.0" stroke="#000" stroke-width="3"/>
<line x1="1174.8" y1="90.0" x2="1174.8" y2="103.9" stroke="#000" stroke-width="3"/>
<line x1="1223.6" y1="96.8" x2="1223.6" y2="107.3" stroke="#000" stroke-width="3"/>
<line x1="1192.4" y1="115.1" x2="1192.4" y2="144.6" stroke="#000" stroke-width="3"/>
<line x1="1252.1" y1="111.1" x2="1252.1" y2="122.2" stroke="#000" stroke-width="3"/>
<line x1="1312.5" y1="117.2" x2="1312.5" y2="125.6" stroke="#000" stroke-width="3"/>
<line x1="1220.9" y1="130.7" x2="1220.9" y2="154.1" stroke="#000" stroke-width="3"/>
<line x1="1272.5" y1="127.3" x2="1272.5" y2="137.8" stroke="#000" stroke-width="3"/>
<line x1="1281.9" y1="132.1" x2="1281.9" y2="141.2" stroke="#000" stroke-width="3"/>
<line x1="1296.9" y1="136.2" x2="1296.9" y2="145.3" stroke="#000" stroke-width="3"/>
<line x1="1177.5" y1="183.6" x2="1177.5" y2="294.5" stroke="#000" stroke-width="3"/>
<line x1="1214.8" y1="163.3" x2="1214.8" y2="207.0" stroke="#000" stroke-width="3"/>
<line x1="1215.9" y1="163.3" x2="1215.9" y2="207.0" stroke="#000" stroke-width="3"/>
<line x1="1238.5" y1="157.9" x2="1238.5" y2="173.8" stroke="#000" stroke-width="3"/>
<line x1="1257.5" y1="165.3" x2="1257.5" y2="177.8" stroke="#000" stroke-width="3"/>
<line x1="1284.0" y1="172.1" x2="1284.0" y2="181.2" stroke="#000" stroke-width="3"/>
<line x1="1296.9" y1="175.5" x2="1296.9" y2="183.9" stroke="#000" stroke-width="3"/>
<line x1="1217.5" y1="185.7" x2="1217.5" y2="224.6" stroke="#000" stroke-width="3"/>
<line x1="1246.0" y1="202.0" x2="1246.0" y2="242.9" stroke="#000" stroke-width="3"/>
<line x1="1271.8" y1="193.1" x2="1271.8" y2="213.8" stroke="#000" stroke-width="3"/>
<line x1="1298.9" y1="189.7" x2="1298.9" y2="201.6" stroke="#000" stroke-width="3"/>
<line x1="1304.3" y1="194.5" x2="1304.3" y2="205.0" stroke="#000" stroke-width="3"/>
<line x1="1281.9" y1="206.7" x2="1281.9" y2="217.2" stroke="#000" stroke-width="3"/>
<line x1="1294.2" y1="212.1" x2="1294.2" y2="219.9" stroke="#000" stroke-width="3"/>
<line x1="1265.0" y1="229.8" x2="1265.0" y2="253.1" stroke="#000" stroke-width="3"/>
<line x1="1284.0" y1="224.3" x2="1284.0" y2="238.9" stroke="#000" stroke-width="3"/>
<line x1="1294.2" y1="221.6" x2="1294.2" y2="230.1" stroke="#000" stroke-width="3"/>
<line x1="1294.2" y1="233.2" x2="1294.2" y2="242.3" stroke="#000" stroke-width="3"/>
<line x1="1281.9" y1="247.4" x2="1281.9" y2="255.8" stroke="#000" stroke-width="3"/>
<line x1="1211.4" y1="265.0" x2="1211.4" y2="321.0" stroke="#000" stroke-width="3"/>
<line x1="1232.4" y1="259.6" x2="1232.4" y2="273.5" stroke="#000" stroke-width="3"/>
<line x1="1248.0" y1="265.0" x2="1248.0" y2="278.9" stroke="#000" stroke-width="3"/>
<line x1="1279.2" y1="270.5" x2="1279.2" y2="284.3" stroke="#000" stroke-width="3"/>
<line x1="1298.9" y1="277.9" x2="1298.9" y2="287.7" stroke="#000" stroke-width="3"/>
<line x1="1220.9" y1="297.6" x2="1220.9" y2="339.9" stroke="#000" stroke-width="3"/>
<line x1="1258.9" y1="292.9" x2="1258.9" y2="306.7" stroke="#000" stroke-width="3"/>
<line x1="1274.5" y1="299.0" x2="1274.5" y2="310.8" stroke="#000" stroke-width="3"/>
<line x1="1250.1" y1="320.7" x2="1250.1" y2="356.2" stroke="#000" stroke-width="3"/>
<line x1="1273.8" y1="314.6" x2="1273.8" y2="329.8" stroke="#000" stroke-width="3"/>
<line x1="1286.0" y1="322.0" x2="1286.0" y2="335.2" stroke="#000" stroke-width="3"/>
<line x1="1271.1" y1="345.8" x2="1271.1" y2="365.0" stroke="#000" stroke-width="3"/>
<line x1="1291.4" y1="340.3" x2="1291.4" y2="354.2" stroke="#000" stroke-width="3"/>
<line x1="1290.1" y1="358.7" x2="1290.1" y2="367.8" stroke="#000" stroke-width="3"/>
<text x="1438.3" y="380.7" font-size="24" font-weight="bold" text-anchor="start" fill="#000" transform="rotate(90 1438.3 380.7)">T06</text>
<text x="1481.7" y="380.7" font-size="24" font-weight="bold" text-anchor="start" fill="#000" transform="rotate(90 1481.7 380.7)">T09</text>
<text x="1525.1" y="380.7" font-size="24" font-weight="bold" text-anchor="start" fill="#000" transform="rotate(90 1525.1 380.7)">T12</text>
<text x="1568.5" y="380.7" font-size="24" font-weight="bold" text-anchor="start" fill="#000" transform="rotate(90 1568.5 380.7)">T15</text>
<text x="1611.9" y="380.7" font-size="24" font-weight="bold" text-anchor="start" fill="#000" transform="rotate(90 1611.9 380.7)">T18</text>
<text x="1655.3" y="380.7" font-size="24" font-weight="bold" text-anchor="start" fill="#000" transform="rotate(90 1655.3 380.7)">T21</text>
<text x="1698.7" y="380.7" font-size="24" font-weight="bold" text-anchor="start" fill="#000" transform="rotate(90 1698.7 380.7)">T24</text>
<text x="1742.1" y="380.7" font-size="24" font-weight="bold" text-anchor="start" fill="#000" transform="rotate(90 1742.1 380.7)">T27</text>
<text x="1785.5" y="380.7" font-size="24" font-weight="bold" text-anchor="start" fill="#000" transform="rotate(90 1785.5 380.7)">T30</text>
<text x="1334.5" y="380.7" font-size="23.5" font-weight="bold" text-anchor="start" fill="#000" transform="rotate(90 1334.5 380.7)">Phylum</text>
<text x="1385.0" y="380.7" font-size="23.2" font-weight="bold" text-anchor="start" fill="#000" transform="rotate(90 1385.0 380.7)">Family</text>
<text x="-1.0" y="1289.3" font-size="48" font-weight="bold" text-anchor="start" fill="#000">f</text>
<text x="148.0" y="1294.0" font-size="23.8" font-weight="bold" text-anchor="start" fill="#000">Adonis R² = 0.20, P-value = 0.003</text>
<path d="M629.3,1671.4 L628.4,1683.0 L625.7,1694.0 L621.3,1704.2 L615.1,1713.6 L607.3,1722.1 L597.8,1729.7 L586.8,1736.3 L574.3,1741.9 L560.4,1746.3 L545.3,1749.6 L529.0,1751.8 L511.7,1752.8 L493.5,1752.6 L474.5,1751.3 L455.0,1748.8 L434.9,1745.1 L414.6,1740.3 L394.1,1734.4 L373.6,1727.5 L353.3,1719.6 L333.2,1710.8 L313.7,1701.2 L294.7,1690.7 L276.5,1679.5 L259.2,1667.8 L242.9,1655.5 L227.8,1642.7 L213.9,1629.6 L201.4,1616.3 L190.4,1602.8 L180.9,1589.3 L173.1,1575.9 L166.9,1562.6 L162.5,1549.7 L159.8,1537.0 L158.9,1524.9 L159.8,1513.3 L162.5,1502.3 L166.9,1492.1 L173.1,1482.7 L180.9,1474.1 L190.4,1466.5 L201.4,1459.9 L213.9,1454.4 L227.8,1450.0 L242.9,1446.6 L259.2,1444.5 L276.5,1443.5 L294.7,1443.6 L313.7,1445.0 L333.2,1447.5 L353.3,1451.2 L373.6,1456.0 L394.1,1461.8 L414.6,1468.7 L434.9,1476.6 L455.0,1485.4 L474.5,1495.1 L493.5,1505.6 L511.7,1516.7 L529.0,1528.5 L545.3,1540.8 L560.4,1553.6 L574.3,1566.6 L586.8,1580.0 L597.8,1593.4 L607.3,1606.9 L615.1,1620.4 L621.3,1633.6 L625.7,1646.6 L628.4,1659.2 L629.3,1671.4 Z" fill="#3cb44b" fill-opacity="0.25"/>
<path d="M580.9,1761.0 L580.3,1770.8 L578.5,1779.4 L575.4,1787.0 L571.1,1793.3 L565.7,1798.3 L559.1,1802.1 L551.5,1804.6 L542.9,1805.7 L533.3,1805.4 L522.8,1803.9 L511.6,1801.0 L499.6,1796.7 L487.0,1791.2 L473.9,1784.5 L460.4,1776.6 L446.5,1767.6 L432.5,1757.5 L418.3,1746.4 L404.1,1734.4 L390.1,1721.6 L376.2,1708.1 L362.7,1694.1 L349.6,1679.5 L337.0,1664.5 L325.0,1649.3 L313.8,1633.9 L303.3,1618.4 L293.7,1603.1 L285.1,1587.9 L277.5,1573.1 L270.9,1558.6 L265.5,1544.7 L261.2,1531.5 L258.1,1519.0 L256.3,1507.3 L255.7,1496.6 L256.3,1486.8 L258.1,1478.1 L261.2,1470.6 L265.5,1464.3 L270.9,1459.2 L277.5,1455.5 L285.1,1453.0 L293.7,1451.9 L303.3,1452.1 L313.8,1453.7 L325.0,1456.6 L337.0,1460.8 L349.6,1466.3 L362.7,1473.1 L376.2,1481.0 L390.1,1490.0 L404.1,1500.1 L418.3,1511.2 L432.5,1523.2 L446.5,1536.0 L460.4,1549.4 L473.9,1563.5 L487.0,1578.1 L499.6,1593.1 L511.6,1608.3 L522.8,1623.7 L533.3,1639.2 L542.9,1654.5 L551.5,1669.7 L559.1,1684.5 L565.7,1699.0 L571.1,1712.8 L575.4,1726.1 L578.5,1738.6 L580.3,1750.3 L580.9,1761.0 Z" fill="#4363d8" fill-opacity="0.25"/>
<path d="M787.8,1459.2 L787.2,1466.3 L785.3,1473.2 L782.1,1479.9 L777.7,1486.2 L772.0,1492.2 L765.2,1497.9 L757.3,1503.1 L748.4,1507.8 L738.5,1512.0 L727.6,1515.7 L715.9,1518.9 L703.5,1521.4 L690.5,1523.3 L676.9,1524.6 L662.9,1525.3 L648.5,1525.3 L633.9,1524.7 L619.3,1523.4 L604.6,1521.5 L590.0,1519.0 L575.6,1516.0 L561.6,1512.3 L548.0,1508.1 L535.0,1503.4 L522.6,1498.2 L510.9,1492.6 L500.1,1486.6 L490.1,1480.3 L481.2,1473.6 L473.3,1466.7 L466.5,1459.7 L460.8,1452.4 L456.4,1445.1 L453.2,1437.8 L451.3,1430.5 L450.7,1423.2 L451.3,1416.1 L453.2,1409.2 L456.4,1402.6 L460.8,1396.2 L466.5,1390.2 L473.3,1384.5 L481.2,1379.3 L490.1,1374.6 L500.1,1370.4 L510.9,1366.7 L522.6,1363.6 L535.0,1361.0 L548.0,1359.1 L561.6,1357.8 L575.6,1357.1 L590.0,1357.1 L604.6,1357.7 L619.3,1359.0 L633.9,1360.9 L648.5,1363.4 L662.9,1366.5 L676.9,1370.1 L690.5,1374.3 L703.5,1379.0 L715.9,1384.2 L727.6,1389.8 L738.5,1395.8 L748.4,1402.1 L757.3,1408.8 L765.2,1415.7 L772.0,1422.8 L777.7,1430.0 L782.1,1437.3 L785.3,1444.6 L787.2,1452.0 L787.8,1459.2 Z" fill="#f032e6" fill-opacity="0.25"/>
<path d="M666.7,1640.4 L665.9,1648.4 L663.5,1655.7 L659.4,1662.4 L653.8,1668.4 L646.7,1673.7 L638.2,1678.1 L628.2,1681.8 L616.9,1684.5 L604.3,1686.5 L590.6,1687.5 L575.9,1687.6 L560.2,1686.9 L543.7,1685.2 L526.5,1682.7 L508.8,1679.3 L490.7,1675.1 L472.3,1670.1 L453.7,1664.3 L435.1,1657.8 L416.7,1650.7 L398.6,1642.9 L380.8,1634.6 L363.7,1625.7 L347.2,1616.5 L331.5,1606.9 L316.8,1597.0 L303.1,1586.9 L290.5,1576.7 L279.2,1566.5 L269.2,1556.2 L260.7,1546.1 L253.5,1536.1 L248.0,1526.4 L243.9,1517.1 L241.5,1508.1 L240.7,1499.6 L241.5,1491.7 L243.9,1484.3 L248.0,1477.6 L253.5,1471.6 L260.7,1466.4 L269.2,1461.9 L279.2,1458.3 L290.5,1455.5 L303.1,1453.6 L316.8,1452.5 L331.5,1452.4 L347.2,1453.2 L363.7,1454.8 L380.8,1457.3 L398.6,1460.7 L416.7,1464.9 L435.1,1469.9 L453.7,1475.7 L472.3,1482.2 L490.7,1489.4 L508.8,1497.1 L526.5,1505.5 L543.7,1514.3 L560.2,1523.5 L575.9,1533.1 L590.6,1543.0 L604.3,1553.1 L616.9,1563.3 L628.2,1573.6 L638.2,1583.8 L646.7,1594.0 L653.8,1603.9 L659.4,1613.6 L663.5,1623.0 L665.9,1631.9 L666.7,1640.4 Z" fill="#42d4f4" fill-opacity="0.25"/>
<path d="M721.0,1603.9 L720.2,1612.9 L717.7,1621.6 L713.7,1630.0 L708.0,1638.0 L700.8,1645.4 L692.1,1652.4 L682.0,1658.7 L670.6,1664.4 L657.9,1669.5 L644.0,1673.8 L629.1,1677.3 L613.3,1680.1 L596.6,1682.1 L579.2,1683.3 L561.3,1683.6 L542.9,1683.2 L524.3,1681.9 L505.5,1679.7 L486.7,1676.8 L468.1,1673.1 L449.7,1668.7 L431.8,1663.6 L414.4,1657.8 L397.8,1651.3 L381.9,1644.3 L367.0,1636.7 L353.1,1628.7 L340.4,1620.3 L329.0,1611.5 L318.9,1602.5 L310.2,1593.2 L303.0,1583.8 L297.4,1574.3 L293.3,1564.9 L290.8,1555.5 L290.0,1546.3 L290.8,1537.3 L293.3,1528.6 L297.4,1520.2 L303.0,1512.2 L310.2,1504.8 L318.9,1497.8 L329.0,1491.5 L340.4,1485.8 L353.1,1480.7 L367.0,1476.4 L381.9,1472.9 L397.8,1470.1 L414.4,1468.1 L431.8,1466.9 L449.7,1466.6 L468.1,1467.0 L486.7,1468.3 L505.5,1470.5 L524.3,1473.4 L542.9,1477.1 L561.3,1481.5 L579.2,1486.6 L596.6,1492.4 L613.3,1498.9 L629.1,1505.9 L644.0,1513.5 L657.9,1521.5 L670.6,1529.9 L682.0,1538.7 L692.1,1547.7 L700.8,1557.0 L708.0,1566.4 L713.7,1575.9 L717.7,1585.3 L720.2,1594.7 L721.0,1603.9 Z" fill="#911eb4" fill-opacity="0.25"/>
<path d="M782.4,1530.5 L781.7,1535.8 L779.7,1540.7 L776.3,1545.3 L771.7,1549.5 L765.8,1553.3 L758.7,1556.7 L750.4,1559.5 L741.0,1561.9 L730.6,1563.7 L719.2,1565.0 L707.0,1565.8 L694.0,1566.0 L680.3,1565.6 L666.1,1564.7 L651.4,1563.3 L636.3,1561.4 L621.0,1558.9 L605.6,1556.0 L590.2,1552.5 L574.9,1548.6 L559.9,1544.4 L545.2,1539.7 L530.9,1534.6 L517.2,1529.3 L504.2,1523.7 L492.0,1517.9 L480.6,1511.9 L470.2,1505.7 L460.8,1499.5 L452.5,1493.2 L445.4,1486.9 L439.5,1480.7 L434.9,1474.5 L431.6,1468.6 L429.5,1462.8 L428.9,1457.2 L429.5,1451.9 L431.6,1447.0 L434.9,1442.4 L439.5,1438.2 L445.4,1434.4 L452.5,1431.1 L460.8,1428.2 L470.2,1425.9 L480.6,1424.0 L492.0,1422.7 L504.2,1422.0 L517.2,1421.8 L530.9,1422.1 L545.2,1423.0 L559.9,1424.4 L574.9,1426.4 L590.2,1428.8 L605.6,1431.8 L621.0,1435.2 L636.3,1439.1 L651.4,1443.4 L666.1,1448.1 L680.3,1453.1 L694.0,1458.4 L707.0,1464.0 L719.2,1469.9 L730.6,1475.9 L741.0,1482.0 L750.4,1488.3 L758.7,1494.6 L765.8,1500.8 L771.7,1507.1 L776.3,1513.2 L779.7,1519.2 L781.7,1525.0 L782.4,1530.5 Z" fill="#f58231" fill-opacity="0.25"/>
<path d="M591.2,1585.7 L590.5,1596.4 L588.6,1607.2 L585.5,1618.1 L581.0,1628.9 L575.4,1639.6 L568.6,1650.2 L560.8,1660.4 L551.8,1670.3 L541.9,1679.7 L531.1,1688.7 L519.4,1697.0 L507.1,1704.8 L494.0,1711.8 L480.5,1718.1 L466.5,1723.6 L452.1,1728.2 L437.6,1732.0 L422.9,1734.9 L408.2,1736.8 L393.7,1737.8 L379.4,1737.9 L365.4,1737.0 L351.8,1735.2 L338.8,1732.4 L326.4,1728.7 L314.8,1724.2 L303.9,1718.8 L294.0,1712.6 L285.1,1705.7 L277.2,1698.0 L270.4,1689.7 L264.8,1680.8 L260.4,1671.4 L257.2,1661.6 L255.3,1651.4 L254.6,1640.9 L255.3,1630.2 L257.2,1619.4 L260.4,1608.5 L264.8,1597.7 L270.4,1586.9 L277.2,1576.4 L285.1,1566.2 L294.0,1556.3 L303.9,1546.8 L314.8,1537.9 L326.4,1529.5 L338.8,1521.8 L351.8,1514.8 L365.4,1508.5 L379.4,1503.0 L393.7,1498.3 L408.2,1494.6 L422.9,1491.7 L437.6,1489.7 L452.1,1488.7 L466.5,1488.7 L480.5,1489.6 L494.0,1491.4 L507.1,1494.2 L519.4,1497.8 L531.1,1502.4 L541.9,1507.8 L551.8,1514.0 L560.8,1520.9 L568.6,1528.6 L575.4,1536.9 L581.0,1545.7 L585.5,1555.1 L588.6,1565.0 L590.5,1575.2 L591.2,1585.7 Z" fill="#e6194b" fill-opacity="0.25"/>
<path d="M713.8,1587.4 L713.4,1592.9 L712.0,1597.4 L709.8,1601.0 L706.7,1603.8 L702.7,1605.5 L698.0,1606.3 L692.4,1606.2 L686.2,1605.0 L679.2,1602.9 L671.6,1599.9 L663.4,1595.9 L654.7,1591.1 L645.5,1585.4 L636.0,1578.9 L626.2,1571.6 L616.1,1563.6 L605.9,1555.0 L595.6,1545.8 L585.3,1536.1 L575.0,1525.9 L565.0,1515.4 L555.1,1504.6 L545.6,1493.7 L536.5,1482.6 L527.8,1471.4 L519.6,1460.4 L512.0,1449.5 L505.0,1438.8 L498.7,1428.4 L493.2,1418.4 L488.4,1408.8 L484.5,1399.8 L481.4,1391.4 L479.1,1383.7 L477.8,1376.7 L477.3,1370.4 L477.8,1365.0 L479.1,1360.5 L481.4,1356.8 L484.5,1354.1 L488.4,1352.4 L493.2,1351.5 L498.7,1351.7 L505.0,1352.9 L512.0,1355.0 L519.6,1358.0 L527.8,1362.0 L536.5,1366.8 L545.6,1372.5 L555.1,1379.0 L565.0,1386.3 L575.0,1394.3 L585.3,1402.9 L595.6,1412.1 L605.9,1421.8 L616.1,1432.0 L626.2,1442.5 L636.0,1453.2 L645.5,1464.2 L654.7,1475.3 L663.4,1486.4 L671.6,1497.5 L679.2,1508.4 L686.2,1519.1 L692.4,1529.5 L698.0,1539.5 L702.7,1549.0 L706.7,1558.0 L709.8,1566.4 L712.0,1574.2 L713.4,1581.2 L713.8,1587.4 Z" fill="#bfef45" fill-opacity="0.25"/>
<path d="M741.1,1594.3 L740.5,1603.1 L738.9,1611.3 L736.1,1618.9 L732.3,1625.9 L727.4,1632.1 L721.4,1637.6 L714.6,1642.2 L706.8,1646.0 L698.1,1648.9 L688.7,1651.0 L678.5,1652.1 L667.7,1652.3 L656.4,1651.6 L644.6,1650.0 L632.4,1647.4 L619.9,1644.0 L607.2,1639.7 L594.4,1634.6 L581.6,1628.7 L568.9,1622.1 L556.4,1614.8 L544.2,1606.8 L532.4,1598.3 L521.0,1589.2 L510.2,1579.8 L500.1,1569.9 L490.6,1559.8 L482.0,1549.4 L474.2,1538.9 L467.3,1528.3 L461.4,1517.8 L456.5,1507.3 L452.7,1497.1 L449.9,1487.1 L448.2,1477.4 L447.7,1468.2 L448.2,1459.4 L449.9,1451.2 L452.7,1443.6 L456.5,1436.6 L461.4,1430.4 L467.3,1424.9 L474.2,1420.3 L482.0,1416.5 L490.6,1413.5 L500.1,1411.5 L510.2,1410.4 L521.0,1410.2 L532.4,1410.9 L544.2,1412.5 L556.4,1415.1 L568.9,1418.5 L581.6,1422.8 L594.4,1427.9 L607.2,1433.8 L619.9,1440.4 L632.4,1447.7 L644.6,1455.7 L656.4,1464.2 L667.7,1473.2 L678.5,1482.7 L688.7,1492.6 L698.1,1502.7 L706.8,1513.1 L714.6,1523.6 L721.4,1534.2 L727.4,1544.7 L732.3,1555.2 L736.1,1565.4 L738.9,1575.4 L740.5,1585.1 L741.1,1594.3 Z" fill="#ffe119" fill-opacity="0.25"/>
<circle cx="408.2" cy="1511.7" r="4.4" fill="#e6194b"/>
<circle cx="241.5" cy="1539.2" r="4.4" fill="#e6194b"/>
<circle cx="388.9" cy="1610.5" r="4.4" fill="#e6194b"/>
<circle cx="515.6" cy="1646.2" r="4.4" fill="#e6194b"/>
<circle cx="342.3" cy="1711.0" r="4.4" fill="#e6194b"/>
<circle cx="446.3" cy="1715.9" r="4.4" fill="#e6194b"/>
<circle cx="728.3" cy="1453.6" r="4.4" fill="#e6194b"/>
<circle cx="209.7" cy="1481.1" r="4.4" fill="#3cb44b"/>
<circle cx="323.3" cy="1508.1" r="4.4" fill="#3cb44b"/>
<circle cx="245.6" cy="1531.6" r="4.4" fill="#3cb44b"/>
<circle cx="603.9" cy="1611.9" r="4.4" fill="#3cb44b"/>
<circle cx="665.9" cy="1617.6" r="4.4" fill="#3cb44b"/>
<circle cx="345.8" cy="1724.7" r="4.4" fill="#3cb44b"/>
<circle cx="474.3" cy="1805.0" r="4.4" fill="#3cb44b"/>
<circle cx="236.9" cy="1493.3" r="4.4" fill="#4363d8"/>
<circle cx="329.3" cy="1509.3" r="4.4" fill="#4363d8"/>
<circle cx="380.5" cy="1511.7" r="4.4" fill="#4363d8"/>
<circle cx="565.4" cy="1634.0" r="4.4" fill="#4363d8"/>
<circle cx="388.4" cy="1715.9" r="4.4" fill="#4363d8"/>
<circle cx="564.0" cy="1764.0" r="4.4" fill="#4363d8"/>
<circle cx="492.9" cy="1795.5" r="4.4" fill="#4363d8"/>
<circle cx="456.5" cy="1493.1" r="4.4" fill="#911eb4"/>
<circle cx="235.3" cy="1543.5" r="4.4" fill="#911eb4"/>
<circle cx="364.4" cy="1554.1" r="4.4" fill="#911eb4"/>
<circle cx="554.4" cy="1628.6" r="4.4" fill="#911eb4"/>
<circle cx="599.8" cy="1712.4" r="4.4" fill="#911eb4"/>
<circle cx="703.2" cy="1456.9" r="4.4" fill="#911eb4"/>
<circle cx="665.6" cy="1609.4" r="4.4" fill="#911eb4"/>
<circle cx="274.7" cy="1437.1" r="4.4" fill="#f032e6"/>
<circle cx="549.5" cy="1343.4" r="4.4" fill="#f032e6"/>
<circle cx="561.0" cy="1434.6" r="4.4" fill="#f032e6"/>
<circle cx="681.4" cy="1428.2" r="4.4" fill="#f032e6"/>
<circle cx="691.0" cy="1451.8" r="4.4" fill="#f032e6"/>
<circle cx="726.5" cy="1452.8" r="4.4" fill="#f032e6"/>
<circle cx="633.8" cy="1604.8" r="4.4" fill="#f032e6"/>
<circle cx="311.8" cy="1507.7" r="4.4" fill="#f58231" stroke="#ee6fb0" stroke-width="0.9"/>
<circle cx="509.5" cy="1419.4" r="4.4" fill="#f58231" stroke="#ee6fb0" stroke-width="0.9"/>
<circle cx="482.5" cy="1437.3" r="4.4" fill="#f58231" stroke="#ee6fb0" stroke-width="0.9"/>
<circle cx="723.3" cy="1483.2" r="4.4" fill="#f58231" stroke="#ee6fb0" stroke-width="0.9"/>
<circle cx="695.6" cy="1516.3" r="4.4" fill="#f58231" stroke="#ee6fb0" stroke-width="0.9"/>
<circle cx="654.4" cy="1519.0" r="4.4" fill="#f58231" stroke="#ee6fb0" stroke-width="0.9"/>
<circle cx="687.3" cy="1582.0" r="4.4" fill="#f58231" stroke="#ee6fb0" stroke-width="0.9"/>
<circle cx="232.9" cy="1472.7" r="4.4" fill="#42d4f4"/>
<circle cx="344.8" cy="1502.9" r="4.4" fill="#42d4f4"/>
<circle cx="348.9" cy="1549.5" r="4.4" fill="#42d4f4"/>
<circle cx="619.1" cy="1544.2" r="4.4" fill="#42d4f4"/>
<circle cx="533.3" cy="1618.3" r="4.4" fill="#42d4f4"/>
<circle cx="655.4" cy="1630.3" r="4.4" fill="#42d4f4"/>
<circle cx="492.9" cy="1806.0" r="4.4" fill="#42d4f4"/>
<circle cx="232.2" cy="1500.0" r="4.4" fill="#ffe119"/>
<circle cx="541.4" cy="1403.2" r="4.4" fill="#ffe119"/>
<circle cx="513.2" cy="1453.3" r="4.4" fill="#ffe119"/>
<circle cx="650.5" cy="1487.8" r="4.4" fill="#ffe119"/>
<circle cx="640.7" cy="1589.4" r="4.4" fill="#ffe119"/>
<circle cx="671.4" cy="1597.5" r="4.4" fill="#ffe119"/>
<circle cx="645.6" cy="1648.2" r="4.4" fill="#ffe119"/>
<circle cx="503.3" cy="1324.7" r="4.4" fill="#bfef45"/>
<circle cx="505.3" cy="1397.4" r="4.4" fill="#bfef45"/>
<circle cx="504.1" cy="1428.2" r="4.4" fill="#bfef45"/>
<circle cx="722.4" cy="1496.2" r="4.4" fill="#bfef45"/>
<circle cx="637.0" cy="1522.7" r="4.4" fill="#bfef45"/>
<circle cx="657.1" cy="1545.7" r="4.4" fill="#bfef45"/>
<circle cx="668.4" cy="1609.8" r="4.4" fill="#bfef45"/>
<line x1="128.8" y1="1300.2" x2="128.8" y2="1831.5" stroke="#000" stroke-width="2.6"/>
<line x1="127.5" y1="1830.3" x2="818.3" y2="1830.3" stroke="#000" stroke-width="2.6"/>
<line x1="125.3" y1="1410.0" x2="128.8" y2="1410.0" stroke="#000" stroke-width="1.3"/>
<text x="119.5" y="1418.2" font-size="23" font-weight="bold" text-anchor="end" fill="#000">0.2</text>
<line x1="125.3" y1="1549.6" x2="128.8" y2="1549.6" stroke="#000" stroke-width="1.3"/>
<text x="119.5" y="1557.8" font-size="23" font-weight="bold" text-anchor="end" fill="#000">0.0</text>
<line x1="125.3" y1="1689.3" x2="128.8" y2="1689.3" stroke="#000" stroke-width="1.3"/>
<text x="119.5" y="1697.5" font-size="23" font-weight="bold" text-anchor="end" fill="#000">−0.2</text>
<line x1="125.3" y1="1828.9" x2="128.8" y2="1828.9" stroke="#000" stroke-width="1.3"/>
<text x="119.5" y="1837.1" font-size="23" font-weight="bold" text-anchor="end" fill="#000">−0.4</text>
<line x1="175.6" y1="1830.3" x2="175.6" y2="1834.0" stroke="#000" stroke-width="1.3"/>
<text x="180.6" y="1857.7" font-size="23" font-weight="bold" text-anchor="middle" fill="#000">−0.50</text>
<line x1="341.4" y1="1830.3" x2="341.4" y2="1834.0" stroke="#000" stroke-width="1.3"/>
<text x="346.6" y="1857.7" font-size="23" font-weight="bold" text-anchor="middle" fill="#000">−0.25</text>
<line x1="507.5" y1="1830.3" x2="507.5" y2="1834.0" stroke="#000" stroke-width="1.3"/>
<text x="508.4" y="1857.7" font-size="23" font-weight="bold" text-anchor="middle" fill="#000">0.00</text>
<line x1="674.4" y1="1830.3" x2="674.4" y2="1834.0" stroke="#000" stroke-width="1.3"/>
<text x="674.4" y="1857.7" font-size="23" font-weight="bold" text-anchor="middle" fill="#000">0.25</text>
<text x="482.5" y="1893.8" font-size="31.7" font-weight="bold" text-anchor="middle" fill="#000">PCoA 1 (33.6%)</text>
<text x="67.8" y="1513.0" font-size="32.6" font-weight="bold" text-anchor="middle" fill="#000" transform="rotate(-90 67.8 1513.0)">PCoA 2 (15.1%)</text>
<text x="456.1" y="1323.9" font-size="23.2" font-weight="bold" text-anchor="start" fill="#000">T30</text>
<line x1="469.7" y1="1328.7" x2="477.4" y2="1343.1" stroke="#000" stroke-width="2.2"/>
<polygon points="483.6,1354.5 470.8,1345.5 483.1,1338.9" fill="#000"/>
<text x="425.0" y="1376.0" font-size="23.2" font-weight="bold" text-anchor="start" fill="#000">T21</text>
<line x1="442.2" y1="1382.5" x2="466.9" y2="1409.3" stroke="#000" stroke-width="2.2"/>
<polygon points="475.7,1418.9 461.1,1413.3 471.4,1403.9" fill="#000"/>
<text x="374.7" y="1398.6" font-size="23.2" font-weight="bold" text-anchor="start" fill="#000">T27</text>
<line x1="408.7" y1="1403.3" x2="432.3" y2="1426.7" stroke="#000" stroke-width="2.2"/>
<polygon points="441.5,1435.9 426.6,1431.0 436.5,1421.1" fill="#000"/>
<text x="329.3" y="1427.3" font-size="23.2" font-weight="bold" text-anchor="start" fill="#000">T24</text>
<line x1="380.7" y1="1433.5" x2="385.8" y2="1458.3" stroke="#000" stroke-width="2.2"/>
<polygon points="388.4,1471.0 378.7,1458.7 392.4,1455.9" fill="#000"/>
<text x="787.8" y="1397.4" font-size="23.2" font-weight="bold" text-anchor="start" fill="#000">T18</text>
<line x1="796.4" y1="1401.8" x2="779.5" y2="1411.3" stroke="#000" stroke-width="2.2"/>
<polygon points="768.2,1417.7 777.0,1404.7 783.8,1416.9" fill="#000"/>
<text x="249.8" y="1768.4" font-size="23.2" font-weight="bold" text-anchor="start" fill="#000">T06</text>
<line x1="280.5" y1="1742.9" x2="289.7" y2="1725.0" stroke="#000" stroke-width="2.2"/>
<polygon points="295.7,1713.5 295.5,1729.2 283.1,1722.7" fill="#000"/>
<text x="330.3" y="1783.1" font-size="23.2" font-weight="bold" text-anchor="start" fill="#000">T09</text>
<line x1="360.5" y1="1762.5" x2="365.3" y2="1737.5" stroke="#000" stroke-width="2.2"/>
<polygon points="367.8,1724.7 372.0,1739.8 358.3,1737.1" fill="#000"/>
<text x="636.4" y="1740.4" font-size="23.2" font-weight="bold" text-anchor="start" fill="#000">T15</text>
<line x1="644.9" y1="1720.8" x2="627.0" y2="1696.0" stroke="#000" stroke-width="2.2"/>
<polygon points="619.4,1685.5 633.3,1692.7 621.9,1700.9" fill="#000"/>
<text x="601.1" y="1819.2" font-size="23.2" font-weight="bold" text-anchor="start" fill="#000">T12</text>
<line x1="602.3" y1="1806.0" x2="586.7" y2="1794.2" stroke="#000" stroke-width="2.2"/>
<polygon points="576.3,1786.3 591.7,1789.2 583.2,1800.3" fill="#000"/>
<text x="812.5" y="1471.9" font-size="47" font-weight="bold" text-anchor="start" fill="#000">h</text>
<line x1="892.5" y1="1902.8" x2="1501.0" y2="1902.8" stroke="#ebebeb" stroke-width="1.1"/>
<line x1="892.5" y1="1805.6" x2="1501.0" y2="1805.6" stroke="#ebebeb" stroke-width="1.1"/>
<line x1="892.5" y1="1708.4" x2="1501.0" y2="1708.4" stroke="#ebebeb" stroke-width="1.1"/>
<line x1="892.5" y1="1611.2" x2="1501.0" y2="1611.2" stroke="#ebebeb" stroke-width="1.1"/>
<line x1="892.5" y1="1514.0" x2="1501.0" y2="1514.0" stroke="#ebebeb" stroke-width="1.1"/>
<line x1="892.5" y1="1854.2" x2="1501.0" y2="1854.2" stroke="#f2f2f2" stroke-width="0.7"/>
<line x1="892.5" y1="1757.0" x2="1501.0" y2="1757.0" stroke="#f2f2f2" stroke-width="0.7"/>
<line x1="892.5" y1="1659.8" x2="1501.0" y2="1659.8" stroke="#f2f2f2" stroke-width="0.7"/>
<line x1="892.5" y1="1562.6" x2="1501.0" y2="1562.6" stroke="#f2f2f2" stroke-width="0.7"/>
<line x1="931.7" y1="1496.5" x2="931.7" y2="1921.0" stroke="#ebebeb" stroke-width="1.1"/>
<line x1="997.9" y1="1496.5" x2="997.9" y2="1921.0" stroke="#ebebeb" stroke-width="1.1"/>
<line x1="1064.1" y1="1496.5" x2="1064.1" y2="1921.0" stroke="#ebebeb" stroke-width="1.1"/>
<line x1="1130.3" y1="1496.5" x2="1130.3" y2="1921.0" stroke="#ebebeb" stroke-width="1.1"/>
<line x1="1196.5" y1="1496.5" x2="1196.5" y2="1921.0" stroke="#ebebeb" stroke-width="1.1"/>
<line x1="1262.7" y1="1496.5" x2="1262.7" y2="1921.0" stroke="#ebebeb" stroke-width="1.1"/>
<line x1="1328.9" y1="1496.5" x2="1328.9" y2="1921.0" stroke="#ebebeb" stroke-width="1.1"/>
<line x1="1395.1" y1="1496.5" x2="1395.1" y2="1921.0" stroke="#ebebeb" stroke-width="1.1"/>
<line x1="1461.3" y1="1496.5" x2="1461.3" y2="1921.0" stroke="#ebebeb" stroke-width="1.1"/>
<rect x="897.5" y="1499.5" width="2.4" height="2.4" fill="#222"/>
<rect x="909.70" y="1513.96" width="44.00" height="21.39" fill="#db7a8a"/>
<rect x="909.70" y="1535.35" width="44.00" height="0.79" fill="#3ca0c1"/>
<rect x="909.70" y="1536.14" width="44.00" height="0.53" fill="#83d588"/>
<rect x="909.70" y="1536.67" width="44.00" height="1.65" fill="#f17e57"/>
<rect x="909.70" y="1538.32" width="44.00" height="3.64" fill="#f3983e"/>
<rect x="909.70" y="1541.96" width="44.00" height="8.55" fill="#fcc7ca"/>
<rect x="909.70" y="1550.51" width="44.00" height="60.27" fill="#3a7990"/>
<rect x="909.70" y="1610.78" width="44.00" height="292.02" fill="#df4b5d"/>
<rect x="909.70" y="1513.96" width="44.00" height="21.39" fill="none" stroke="#111" stroke-width="1.6"/>
<rect x="909.70" y="1535.35" width="44.00" height="0.79" fill="none" stroke="#111" stroke-width="1.6"/>
<rect x="909.70" y="1536.14" width="44.00" height="0.53" fill="none" stroke="#111" stroke-width="1.6"/>
<rect x="909.70" y="1536.67" width="44.00" height="1.65" fill="none" stroke="#111" stroke-width="1.6"/>
<rect x="909.70" y="1538.32" width="44.00" height="3.64" fill="none" stroke="#111" stroke-width="1.6"/>
<rect x="909.70" y="1541.96" width="44.00" height="8.55" fill="none" stroke="#111" stroke-width="1.6"/>
<rect x="909.70" y="1550.51" width="44.00" height="60.27" fill="none" stroke="#111" stroke-width="1.6"/>
<rect x="909.70" y="1610.78" width="44.00" height="292.02" fill="none" stroke="#111" stroke-width="1.6"/>
<rect x="975.90" y="1513.96" width="44.00" height="23.33" fill="#db7a8a"/>
<rect x="975.90" y="1537.29" width="44.00" height="0.65" fill="#3ca0c1"/>
<rect x="975.90" y="1537.94" width="44.00" height="0.44" fill="#83d588"/>
<rect x="975.90" y="1538.38" width="44.00" height="1.36" fill="#f17e57"/>
<rect x="975.90" y="1539.74" width="44.00" height="2.99" fill="#f3983e"/>
<rect x="975.90" y="1542.73" width="44.00" height="10.11" fill="#fcc7ca"/>
<rect x="975.90" y="1552.84" width="44.00" height="68.82" fill="#3a7990"/>
<rect x="975.90" y="1621.67" width="44.00" height="281.13" fill="#df4b5d"/>
<rect x="975.90" y="1513.96" width="44.00" height="23.33" fill="none" stroke="#111" stroke-width="1.6"/>
<rect x="975.90" y="1537.29" width="44.00" height="0.65" fill="none" stroke="#111" stroke-width="1.6"/>
<rect x="975.90" y="1537.94" width="44.00" height="0.44" fill="none" stroke="#111" stroke-width="1.6"/>
<rect x="975.90" y="1538.38" width="44.00" height="1.36" fill="none" stroke="#111" stroke-width="1.6"/>
<rect x="975.90" y="1539.74" width="44.00" height="2.99" fill="none" stroke="#111" stroke-width="1.6"/>
<rect x="975.90" y="1542.73" width="44.00" height="10.11" fill="none" stroke="#111" stroke-width="1.6"/>
<rect x="975.90" y="1552.84" width="44.00" height="68.82" fill="none" stroke="#111" stroke-width="1.6"/>
<rect x="975.90" y="1621.67" width="44.00" height="281.13" fill="none" stroke="#111" stroke-width="1.6"/>
<rect x="1042.10" y="1513.96" width="44.00" height="24.11" fill="#db7a8a"/>
<rect x="1042.10" y="1538.07" width="44.00" height="0.84" fill="#3ca0c1"/>
<rect x="1042.10" y="1538.91" width="44.00" height="0.56" fill="#83d588"/>
<rect x="1042.10" y="1539.47" width="44.00" height="1.75" fill="#f17e57"/>
<rect x="1042.10" y="1541.22" width="44.00" height="3.85" fill="#f3983e"/>
<rect x="1042.10" y="1545.07" width="44.00" height="9.72" fill="#fcc7ca"/>
<rect x="1042.10" y="1554.79" width="44.00" height="73.88" fill="#3a7990"/>
<rect x="1042.10" y="1628.67" width="44.00" height="274.13" fill="#df4b5d"/>
<rect x="1042.10" y="1513.96" width="44.00" height="24.11" fill="none" stroke="#111" stroke-width="1.6"/>
<rect x="1042.10" y="1538.07" width="44.00" height="0.84" fill="none" stroke="#111" stroke-width="1.6"/>
<rect x="1042.10" y="1538.91" width="44.00" height="0.56" fill="none" stroke="#111" stroke-width="1.6"/>
<rect x="1042.10" y="1539.47" width="44.00" height="1.75" fill="none" stroke="#111" stroke-width="1.6"/>
<rect x="1042.10" y="1541.22" width="44.00" height="3.85" fill="none" stroke="#111" stroke-width="1.6"/>
<rect x="1042.10" y="1545.07" width="44.00" height="9.72" fill="none" stroke="#111" stroke-width="1.6"/>
<rect x="1042.10" y="1554.79" width="44.00" height="73.88" fill="none" stroke="#111" stroke-width="1.6"/>
<rect x="1042.10" y="1628.67" width="44.00" height="274.13" fill="none" stroke="#111" stroke-width="1.6"/>
<rect x="1108.30" y="1513.96" width="44.00" height="19.05" fill="#db7a8a"/>
<rect x="1108.30" y="1533.01" width="44.00" height="1.45" fill="#3ca0c1"/>
<rect x="1108.30" y="1534.46" width="44.00" height="0.96" fill="#83d588"/>
<rect x="1108.30" y="1535.42" width="44.00" height="3.01" fill="#f17e57"/>
<rect x="1108.30" y="1538.44" width="44.00" height="6.63" fill="#f3983e"/>
<rect x="1108.30" y="1545.07" width="44.00" height="9.72" fill="#fcc7ca"/>
<rect x="1108.30" y="1554.79" width="44.00" height="57.94" fill="#3a7990"/>
<rect x="1108.30" y="1612.73" width="44.00" height="290.07" fill="#df4b5d"/>
<rect x="1108.30" y="1513.96" width="44.00" height="19.05" fill="none" stroke="#111" stroke-width="1.6"/>
<rect x="1108.30" y="1533.01" width="44.00" height="1.45" fill="none" stroke="#111" stroke-width="1.6"/>
<rect x="1108.30" y="1534.46" width="44.00" height="0.96" fill="none" stroke="#111" stroke-width="1.6"/>
<rect x="1108.30" y="1535.42" width="44.00" height="3.01" fill="none" stroke="#111" stroke-width="1.6"/>
<rect x="1108.30" y="1538.44" width="44.00" height="6.63" fill="none" stroke="#111" stroke-width="1.6"/>
<rect x="1108.30" y="1545.07" width="44.00" height="9.72" fill="none" stroke="#111" stroke-width="1.6"/>
<rect x="1108.30" y="1554.79" width="44.00" height="57.94" fill="none" stroke="#111" stroke-width="1.6"/>
<rect x="1108.30" y="1612.73" width="44.00" height="290.07" fill="none" stroke="#111" stroke-width="1.6"/>
<rect x="1174.50" y="1513.96" width="44.00" height="13.22" fill="#db7a8a"/>
<rect x="1174.50" y="1527.18" width="44.00" height="1.31" fill="#3ca0c1"/>
<rect x="1174.50" y="1528.49" width="44.00" height="0.87" fill="#83d588"/>
<rect x="1174.50" y="1529.36" width="44.00" height="2.72" fill="#f17e57"/>
<rect x="1174.50" y="1532.08" width="44.00" height="5.99" fill="#f3983e"/>
<rect x="1174.50" y="1538.07" width="44.00" height="4.28" fill="#fcc7ca"/>
<rect x="1174.50" y="1542.35" width="44.00" height="15.55" fill="#3a7990"/>
<rect x="1174.50" y="1557.90" width="44.00" height="344.90" fill="#df4b5d"/>
<rect x="1174.50" y="1513.96" width="44.00" height="13.22" fill="none" stroke="#111" stroke-width="1.6"/>
<rect x="1174.50" y="1527.18" width="44.00" height="1.31" fill="none" stroke="#111" stroke-width="1.6"/>
<rect x="1174.50" y="1528.49" width="44.00" height="0.87" fill="none" stroke="#111" stroke-width="1.6"/>
<rect x="1174.50" y="1529.36" width="44.00" height="2.72" fill="none" stroke="#111" stroke-width="1.6"/>
<rect x="1174.50" y="1532.08" width="44.00" height="5.99" fill="none" stroke="#111" stroke-width="1.6"/>
<rect x="1174.50" y="1538.07" width="44.00" height="4.28" fill="none" stroke="#111" stroke-width="1.6"/>
<rect x="1174.50" y="1542.35" width="44.00" height="15.55" fill="none" stroke="#111" stroke-width="1.6"/>
<rect x="1174.50" y="1557.90" width="44.00" height="344.90" fill="none" stroke="#111" stroke-width="1.6"/>
<rect x="1240.70" y="1513.96" width="44.00" height="12.05" fill="#db7a8a"/>
<rect x="1240.70" y="1526.01" width="44.00" height="0.93" fill="#3ca0c1"/>
<rect x="1240.70" y="1526.95" width="44.00" height="0.62" fill="#83d588"/>
<rect x="1240.70" y="1527.57" width="44.00" height="1.94" fill="#f17e57"/>
<rect x="1240.70" y="1529.51" width="44.00" height="4.28" fill="#f3983e"/>
<rect x="1240.70" y="1533.79" width="44.00" height="4.67" fill="#fcc7ca"/>
<rect x="1240.70" y="1538.46" width="44.00" height="20.22" fill="#3a7990"/>
<rect x="1240.70" y="1558.68" width="44.00" height="344.12" fill="#df4b5d"/>
<rect x="1240.70" y="1513.96" width="44.00" height="12.05" fill="none" stroke="#111" stroke-width="1.6"/>
<rect x="1240.70" y="1526.01" width="44.00" height="0.93" fill="none" stroke="#111" stroke-width="1.6"/>
<rect x="1240.70" y="1526.95" width="44.00" height="0.62" fill="none" stroke="#111" stroke-width="1.6"/>
<rect x="1240.70" y="1527.57" width="44.00" height="1.94" fill="none" stroke="#111" stroke-width="1.6"/>
<rect x="1240.70" y="1529.51" width="44.00" height="4.28" fill="none" stroke="#111" stroke-width="1.6"/>
<rect x="1240.70" y="1533.79" width="44.00" height="4.67" fill="none" stroke="#111" stroke-width="1.6"/>
<rect x="1240.70" y="1538.46" width="44.00" height="20.22" fill="none" stroke="#111" stroke-width="1.6"/>
<rect x="1240.70" y="1558.68" width="44.00" height="344.12" fill="none" stroke="#111" stroke-width="1.6"/>
<rect x="1306.90" y="1513.96" width="44.00" height="15.16" fill="#db7a8a"/>
<rect x="1306.90" y="1529.12" width="44.00" height="0.84" fill="#3ca0c1"/>
<rect x="1306.90" y="1529.96" width="44.00" height="0.56" fill="#83d588"/>
<rect x="1306.90" y="1530.52" width="44.00" height="1.75" fill="#f17e57"/>
<rect x="1306.90" y="1532.27" width="44.00" height="3.85" fill="#f3983e"/>
<rect x="1306.90" y="1536.12" width="44.00" height="5.05" fill="#fcc7ca"/>
<rect x="1306.90" y="1541.18" width="44.00" height="44.33" fill="#3a7990"/>
<rect x="1306.90" y="1585.51" width="44.00" height="317.29" fill="#df4b5d"/>
<rect x="1306.90" y="1513.96" width="44.00" height="15.16" fill="none" stroke="#111" stroke-width="1.6"/>
<rect x="1306.90" y="1529.12" width="44.00" height="0.84" fill="none" stroke="#111" stroke-width="1.6"/>
<rect x="1306.90" y="1529.96" width="44.00" height="0.56" fill="none" stroke="#111" stroke-width="1.6"/>
<rect x="1306.90" y="1530.52" width="44.00" height="1.75" fill="none" stroke="#111" stroke-width="1.6"/>
<rect x="1306.90" y="1532.27" width="44.00" height="3.85" fill="none" stroke="#111" stroke-width="1.6"/>
<rect x="1306.90" y="1536.12" width="44.00" height="5.05" fill="none" stroke="#111" stroke-width="1.6"/>
<rect x="1306.90" y="1541.18" width="44.00" height="44.33" fill="none" stroke="#111" stroke-width="1.6"/>
<rect x="1306.90" y="1585.51" width="44.00" height="317.29" fill="none" stroke="#111" stroke-width="1.6"/>
<rect x="1373.10" y="1513.96" width="44.00" height="12.05" fill="#db7a8a"/>
<rect x="1373.10" y="1526.01" width="44.00" height="0.79" fill="#3ca0c1"/>
<rect x="1373.10" y="1526.81" width="44.00" height="0.53" fill="#83d588"/>
<rect x="1373.10" y="1527.34" width="44.00" height="1.65" fill="#f17e57"/>
<rect x="1373.10" y="1528.99" width="44.00" height="3.64" fill="#f3983e"/>
<rect x="1373.10" y="1532.62" width="44.00" height="3.50" fill="#fcc7ca"/>
<rect x="1373.10" y="1536.12" width="44.00" height="15.16" fill="#3a7990"/>
<rect x="1373.10" y="1551.29" width="44.00" height="351.51" fill="#df4b5d"/>
<rect x="1373.10" y="1513.96" width="44.00" height="12.05" fill="none" stroke="#111" stroke-width="1.6"/>
<rect x="1373.10" y="1526.01" width="44.00" height="0.79" fill="none" stroke="#111" stroke-width="1.6"/>
<rect x="1373.10" y="1526.81" width="44.00" height="0.53" fill="none" stroke="#111" stroke-width="1.6"/>
<rect x="1373.10" y="1527.34" width="44.00" height="1.65" fill="none" stroke="#111" stroke-width="1.6"/>
<rect x="1373.10" y="1528.99" width="44.00" height="3.64" fill="none" stroke="#111" stroke-width="1.6"/>
<rect x="1373.10" y="1532.62" width="44.00" height="3.50" fill="none" stroke="#111" stroke-width="1.6"/>
<rect x="1373.10" y="1536.12" width="44.00" height="15.16" fill="none" stroke="#111" stroke-width="1.6"/>
<rect x="1373.10" y="1551.29" width="44.00" height="351.51" fill="none" stroke="#111" stroke-width="1.6"/>
<rect x="1439.30" y="1513.96" width="44.00" height="14.78" fill="#db7a8a"/>
<rect x="1439.30" y="1528.74" width="44.00" height="1.31" fill="#3ca0c1"/>
<rect x="1439.30" y="1530.04" width="44.00" height="0.87" fill="#83d588"/>
<rect x="1439.30" y="1530.91" width="44.00" height="2.72" fill="#f17e57"/>
<rect x="1439.30" y="1533.64" width="44.00" height="5.99" fill="#f3983e"/>
<rect x="1439.30" y="1539.62" width="44.00" height="1.56" fill="#fcc7ca"/>
<rect x="1439.30" y="1541.18" width="44.00" height="19.05" fill="#3a7990"/>
<rect x="1439.30" y="1560.23" width="44.00" height="342.57" fill="#df4b5d"/>
<rect x="1439.30" y="1513.96" width="44.00" height="14.78" fill="none" stroke="#111" stroke-width="1.6"/>
<rect x="1439.30" y="1528.74" width="44.00" height="1.31" fill="none" stroke="#111" stroke-width="1.6"/>
<rect x="1439.30" y="1530.04" width="44.00" height="0.87" fill="none" stroke="#111" stroke-width="1.6"/>
<rect x="1439.30" y="1530.91" width="44.00" height="2.72" fill="none" stroke="#111" stroke-width="1.6"/>
<rect x="1439.30" y="1533.64" width="44.00" height="5.99" fill="none" stroke="#111" stroke-width="1.6"/>
<rect x="1439.30" y="1539.62" width="44.00" height="1.56" fill="none" stroke="#111" stroke-width="1.6"/>
<rect x="1439.30" y="1541.18" width="44.00" height="19.05" fill="none" stroke="#111" stroke-width="1.6"/>
<rect x="1439.30" y="1560.23" width="44.00" height="342.57" fill="none" stroke="#111" stroke-width="1.6"/>
<path d="M942.70,1513.96 C956.84,1513.96 972.76,1513.96 986.90,1513.96 L986.90,1537.29 C972.76,1537.29 956.84,1535.35 942.70,1535.35 Z" fill="#d6687a" fill-opacity="0.45"/>
<path d="M942.70,1535.35 C956.84,1535.35 972.76,1537.29 986.90,1537.29 L986.90,1537.94 C972.76,1537.94 956.84,1536.14 942.70,1536.14 Z" fill="#2193b8" fill-opacity="0.45"/>
<path d="M942.70,1536.14 C956.84,1536.14 972.76,1537.94 986.90,1537.94 L986.90,1538.38 C972.76,1538.38 956.84,1536.67 942.70,1536.67 Z" fill="#72cf78" fill-opacity="0.45"/>
<path d="M942.70,1536.67 C956.84,1536.67 972.76,1538.38 986.90,1538.38 L986.90,1539.74 C972.76,1539.74 956.84,1538.32 942.70,1538.32 Z" fill="#ef6c40" fill-opacity="0.45"/>
<path d="M942.70,1538.32 C956.84,1538.32 972.76,1539.74 986.90,1539.74 L986.90,1542.73 C972.76,1542.73 956.84,1541.96 942.70,1541.96 Z" fill="#f18a24" fill-opacity="0.45"/>
<path d="M942.70,1541.96 C956.84,1541.96 972.76,1542.73 986.90,1542.73 L986.90,1552.84 C972.76,1552.84 956.84,1550.51 942.70,1550.51 Z" fill="#fcbfc3" fill-opacity="0.45"/>
<path d="M942.70,1550.51 C956.84,1550.51 972.76,1552.84 986.90,1552.84 L986.90,1621.67 C972.76,1621.67 956.84,1610.78 942.70,1610.78 Z" fill="#1f6781" fill-opacity="0.45"/>
<path d="M942.70,1610.78 C956.84,1610.78 972.76,1621.67 986.90,1621.67 L986.90,1902.80 C972.76,1902.80 956.84,1902.80 942.70,1902.80 Z" fill="#db3247" fill-opacity="0.45"/>
<path d="M1008.90,1513.96 C1023.04,1513.96 1038.96,1513.96 1053.10,1513.96 L1053.10,1538.07 C1038.96,1538.07 1023.04,1537.29 1008.90,1537.29 Z" fill="#d6687a" fill-opacity="0.45"/>
<path d="M1008.90,1537.29 C1023.04,1537.29 1038.96,1538.07 1053.10,1538.07 L1053.10,1538.91 C1038.96,1538.91 1023.04,1537.94 1008.90,1537.94 Z" fill="#2193b8" fill-opacity="0.45"/>
<path d="M1008.90,1537.94 C1023.04,1537.94 1038.96,1538.91 1053.10,1538.91 L1053.10,1539.47 C1038.96,1539.47 1023.04,1538.38 1008.90,1538.38 Z" fill="#72cf78" fill-opacity="0.45"/>
<path d="M1008.90,1538.38 C1023.04,1538.38 1038.96,1539.47 1053.10,1539.47 L1053.10,1541.22 C1038.96,1541.22 1023.04,1539.74 1008.90,1539.74 Z" fill="#ef6c40" fill-opacity="0.45"/>
<path d="M1008.90,1539.74 C1023.04,1539.74 1038.96,1541.22 1053.10,1541.22 L1053.10,1545.07 C1038.96,1545.07 1023.04,1542.73 1008.90,1542.73 Z" fill="#f18a24" fill-opacity="0.45"/>
<path d="M1008.90,1542.73 C1023.04,1542.73 1038.96,1545.07 1053.10,1545.07 L1053.10,1554.79 C1038.96,1554.79 1023.04,1552.84 1008.90,1552.84 Z" fill="#fcbfc3" fill-opacity="0.45"/>
<path d="M1008.90,1552.84 C1023.04,1552.84 1038.96,1554.79 1053.10,1554.79 L1053.10,1628.67 C1038.96,1628.67 1023.04,1621.67 1008.90,1621.67 Z" fill="#1f6781" fill-opacity="0.45"/>
<path d="M1008.90,1621.67 C1023.04,1621.67 1038.96,1628.67 1053.10,1628.67 L1053.10,1902.80 C1038.96,1902.80 1023.04,1902.80 1008.90,1902.80 Z" fill="#db3247" fill-opacity="0.45"/>
<path d="M1075.10,1513.96 C1089.24,1513.96 1105.16,1513.96 1119.30,1513.96 L1119.30,1533.01 C1105.16,1533.01 1089.24,1538.07 1075.10,1538.07 Z" fill="#d6687a" fill-opacity="0.45"/>
<path d="M1075.10,1538.07 C1089.24,1538.07 1105.16,1533.01 1119.30,1533.01 L1119.30,1534.46 C1105.16,1534.46 1089.24,1538.91 1075.10,1538.91 Z" fill="#2193b8" fill-opacity="0.45"/>
<path d="M1075.10,1538.91 C1089.24,1538.91 1105.16,1534.46 1119.30,1534.46 L1119.30,1535.42 C1105.16,1535.42 1089.24,1539.47 1075.10,1539.47 Z" fill="#72cf78" fill-opacity="0.45"/>
<path d="M1075.10,1539.47 C1089.24,1539.47 1105.16,1535.42 1119.30,1535.42 L1119.30,1538.44 C1105.16,1538.44 1089.24,1541.22 1075.10,1541.22 Z" fill="#ef6c40" fill-opacity="0.45"/>
<path d="M1075.10,1541.22 C1089.24,1541.22 1105.16,1538.44 1119.30,1538.44 L1119.30,1545.07 C1105.16,1545.07 1089.24,1545.07 1075.10,1545.07 Z" fill="#f18a24" fill-opacity="0.45"/>
<path d="M1075.10,1545.07 C1089.24,1545.07 1105.16,1545.07 1119.30,1545.07 L1119.30,1554.79 C1105.16,1554.79 1089.24,1554.79 1075.10,1554.79 Z" fill="#fcbfc3" fill-opacity="0.45"/>
<path d="M1075.10,1554.79 C1089.24,1554.79 1105.16,1554.79 1119.30,1554.79 L1119.30,1612.73 C1105.16,1612.73 1089.24,1628.67 1075.10,1628.67 Z" fill="#1f6781" fill-opacity="0.45"/>
<path d="M1075.10,1628.67 C1089.24,1628.67 1105.16,1612.73 1119.30,1612.73 L1119.30,1902.80 C1105.16,1902.80 1089.24,1902.80 1075.10,1902.80 Z" fill="#db3247" fill-opacity="0.45"/>
<path d="M1141.30,1513.96 C1155.44,1513.96 1171.36,1513.96 1185.50,1513.96 L1185.50,1527.18 C1171.36,1527.18 1155.44,1533.01 1141.30,1533.01 Z" fill="#d6687a" fill-opacity="0.45"/>
<path d="M1141.30,1533.01 C1155.44,1533.01 1171.36,1527.18 1185.50,1527.18 L1185.50,1528.49 C1171.36,1528.49 1155.44,1534.46 1141.30,1534.46 Z" fill="#2193b8" fill-opacity="0.45"/>
<path d="M1141.30,1534.46 C1155.44,1534.46 1171.36,1528.49 1185.50,1528.49 L1185.50,1529.36 C1171.36,1529.36 1155.44,1535.42 1141.30,1535.42 Z" fill="#72cf78" fill-opacity="0.45"/>
<path d="M1141.30,1535.42 C1155.44,1535.42 1171.36,1529.36 1185.50,1529.36 L1185.50,1532.08 C1171.36,1532.08 1155.44,1538.44 1141.30,1538.44 Z" fill="#ef6c40" fill-opacity="0.45"/>
<path d="M1141.30,1538.44 C1155.44,1538.44 1171.36,1532.08 1185.50,1532.08 L1185.50,1538.07 C1171.36,1538.07 1155.44,1545.07 1141.30,1545.07 Z" fill="#f18a24" fill-opacity="0.45"/>
<path d="M1141.30,1545.07 C1155.44,1545.07 1171.36,1538.07 1185.50,1538.07 L1185.50,1542.35 C1171.36,1542.35 1155.44,1554.79 1141.30,1554.79 Z" fill="#fcbfc3" fill-opacity="0.45"/>
<path d="M1141.30,1554.79 C1155.44,1554.79 1171.36,1542.35 1185.50,1542.35 L1185.50,1557.90 C1171.36,1557.90 1155.44,1612.73 1141.30,1612.73 Z" fill="#1f6781" fill-opacity="0.45"/>
<path d="M1141.30,1612.73 C1155.44,1612.73 1171.36,1557.90 1185.50,1557.90 L1185.50,1902.80 C1171.36,1902.80 1155.44,1902.80 1141.30,1902.80 Z" fill="#db3247" fill-opacity="0.45"/>
<path d="M1207.50,1513.96 C1221.64,1513.96 1237.56,1513.96 1251.70,1513.96 L1251.70,1526.01 C1237.56,1526.01 1221.64,1527.18 1207.50,1527.18 Z" fill="#d6687a" fill-opacity="0.45"/>
<path d="M1207.50,1527.18 C1221.64,1527.18 1237.56,1526.01 1251.70,1526.01 L1251.70,1526.95 C1237.56,1526.95 1221.64,1528.49 1207.50,1528.49 Z" fill="#2193b8" fill-opacity="0.45"/>
<path d="M1207.50,1528.49 C1221.64,1528.49 1237.56,1526.95 1251.70,1526.95 L1251.70,1527.57 C1237.56,1527.57 1221.64,1529.36 1207.50,1529.36 Z" fill="#72cf78" fill-opacity="0.45"/>
<path d="M1207.50,1529.36 C1221.64,1529.36 1237.56,1527.57 1251.70,1527.57 L1251.70,1529.51 C1237.56,1529.51 1221.64,1532.08 1207.50,1532.08 Z" fill="#ef6c40" fill-opacity="0.45"/>
<path d="M1207.50,1532.08 C1221.64,1532.08 1237.56,1529.51 1251.70,1529.51 L1251.70,1533.79 C1237.56,1533.79 1221.64,1538.07 1207.50,1538.07 Z" fill="#f18a24" fill-opacity="0.45"/>
<path d="M1207.50,1538.07 C1221.64,1538.07 1237.56,1533.79 1251.70,1533.79 L1251.70,1538.46 C1237.56,1538.46 1221.64,1542.35 1207.50,1542.35 Z" fill="#fcbfc3" fill-opacity="0.45"/>
<path d="M1207.50,1542.35 C1221.64,1542.35 1237.56,1538.46 1251.70,1538.46 L1251.70,1558.68 C1237.56,1558.68 1221.64,1557.90 1207.50,1557.90 Z" fill="#1f6781" fill-opacity="0.45"/>
<path d="M1207.50,1557.90 C1221.64,1557.90 1237.56,1558.68 1251.70,1558.68 L1251.70,1902.80 C1237.56,1902.80 1221.64,1902.80 1207.50,1902.80 Z" fill="#db3247" fill-opacity="0.45"/>
<path d="M1273.70,1513.96 C1287.84,1513.96 1303.76,1513.96 1317.90,1513.96 L1317.90,1529.12 C1303.76,1529.12 1287.84,1526.01 1273.70,1526.01 Z" fill="#d6687a" fill-opacity="0.45"/>
<path d="M1273.70,1526.01 C1287.84,1526.01 1303.76,1529.12 1317.90,1529.12 L1317.90,1529.96 C1303.76,1529.96 1287.84,1526.95 1273.70,1526.95 Z" fill="#2193b8" fill-opacity="0.45"/>
<path d="M1273.70,1526.95 C1287.84,1526.95 1303.76,1529.96 1317.90,1529.96 L1317.90,1530.52 C1303.76,1530.52 1287.84,1527.57 1273.70,1527.57 Z" fill="#72cf78" fill-opacity="0.45"/>
<path d="M1273.70,1527.57 C1287.84,1527.57 1303.76,1530.52 1317.90,1530.52 L1317.90,1532.27 C1303.76,1532.27 1287.84,1529.51 1273.70,1529.51 Z" fill="#ef6c40" fill-opacity="0.45"/>
<path d="M1273.70,1529.51 C1287.84,1529.51 1303.76,1532.27 1317.90,1532.27 L1317.90,1536.12 C1303.76,1536.12 1287.84,1533.79 1273.70,1533.79 Z" fill="#f18a24" fill-opacity="0.45"/>
<path d="M1273.70,1533.79 C1287.84,1533.79 1303.76,1536.12 1317.90,1536.12 L1317.90,1541.18 C1303.76,1541.18 1287.84,1538.46 1273.70,1538.46 Z" fill="#fcbfc3" fill-opacity="0.45"/>
<path d="M1273.70,1538.46 C1287.84,1538.46 1303.76,1541.18 1317.90,1541.18 L1317.90,1585.51 C1303.76,1585.51 1287.84,1558.68 1273.70,1558.68 Z" fill="#1f6781" fill-opacity="0.45"/>
<path d="M1273.70,1558.68 C1287.84,1558.68 1303.76,1585.51 1317.90,1585.51 L1317.90,1902.80 C1303.76,1902.80 1287.84,1902.80 1273.70,1902.80 Z" fill="#db3247" fill-opacity="0.45"/>
<path d="M1339.90,1513.96 C1354.04,1513.96 1369.96,1513.96 1384.10,1513.96 L1384.10,1526.01 C1369.96,1526.01 1354.04,1529.12 1339.90,1529.12 Z" fill="#d6687a" fill-opacity="0.45"/>
<path d="M1339.90,1529.12 C1354.04,1529.12 1369.96,1526.01 1384.10,1526.01 L1384.10,1526.81 C1369.96,1526.81 1354.04,1529.96 1339.90,1529.96 Z" fill="#2193b8" fill-opacity="0.45"/>
<path d="M1339.90,1529.96 C1354.04,1529.96 1369.96,1526.81 1384.10,1526.81 L1384.10,1527.34 C1369.96,1527.34 1354.04,1530.52 1339.90,1530.52 Z" fill="#72cf78" fill-opacity="0.45"/>
<path d="M1339.90,1530.52 C1354.04,1530.52 1369.96,1527.34 1384.10,1527.34 L1384.10,1528.99 C1369.96,1528.99 1354.04,1532.27 1339.90,1532.27 Z" fill="#ef6c40" fill-opacity="0.45"/>
<path d="M1339.90,1532.27 C1354.04,1532.27 1369.96,1528.99 1384.10,1528.99 L1384.10,1532.62 C1369.96,1532.62 1354.04,1536.12 1339.90,1536.12 Z" fill="#f18a24" fill-opacity="0.45"/>
<path d="M1339.90,1536.12 C1354.04,1536.12 1369.96,1532.62 1384.10,1532.62 L1384.10,1536.12 C1369.96,1536.12 1354.04,1541.18 1339.90,1541.18 Z" fill="#fcbfc3" fill-opacity="0.45"/>
<path d="M1339.90,1541.18 C1354.04,1541.18 1369.96,1536.12 1384.10,1536.12 L1384.10,1551.29 C1369.96,1551.29 1354.04,1585.51 1339.90,1585.51 Z" fill="#1f6781" fill-opacity="0.45"/>
<path d="M1339.90,1585.51 C1354.04,1585.51 1369.96,1551.29 1384.10,1551.29 L1384.10,1902.80 C1369.96,1902.80 1354.04,1902.80 1339.90,1902.80 Z" fill="#db3247" fill-opacity="0.45"/>
<path d="M1406.10,1513.96 C1420.24,1513.96 1436.16,1513.96 1450.30,1513.96 L1450.30,1528.74 C1436.16,1528.74 1420.24,1526.01 1406.10,1526.01 Z" fill="#d6687a" fill-opacity="0.45"/>
<path d="M1406.10,1526.01 C1420.24,1526.01 1436.16,1528.74 1450.30,1528.74 L1450.30,1530.04 C1436.16,1530.04 1420.24,1526.81 1406.10,1526.81 Z" fill="#2193b8" fill-opacity="0.45"/>
<path d="M1406.10,1526.81 C1420.24,1526.81 1436.16,1530.04 1450.30,1530.04 L1450.30,1530.91 C1436.16,1530.91 1420.24,1527.34 1406.10,1527.34 Z" fill="#72cf78" fill-opacity="0.45"/>
<path d="M1406.10,1527.34 C1420.24,1527.34 1436.16,1530.91 1450.30,1530.91 L1450.30,1533.64 C1436.16,1533.64 1420.24,1528.99 1406.10,1528.99 Z" fill="#ef6c40" fill-opacity="0.45"/>
<path d="M1406.10,1528.99 C1420.24,1528.99 1436.16,1533.64 1450.30,1533.64 L1450.30,1539.62 C1436.16,1539.62 1420.24,1532.62 1406.10,1532.62 Z" fill="#f18a24" fill-opacity="0.45"/>
<path d="M1406.10,1532.62 C1420.24,1532.62 1436.16,1539.62 1450.30,1539.62 L1450.30,1541.18 C1436.16,1541.18 1420.24,1536.12 1406.10,1536.12 Z" fill="#fcbfc3" fill-opacity="0.45"/>
<path d="M1406.10,1536.12 C1420.24,1536.12 1436.16,1541.18 1450.30,1541.18 L1450.30,1560.23 C1436.16,1560.23 1420.24,1551.29 1406.10,1551.29 Z" fill="#1f6781" fill-opacity="0.45"/>
<path d="M1406.10,1551.29 C1420.24,1551.29 1436.16,1560.23 1450.30,1560.23 L1450.30,1902.80 C1436.16,1902.80 1420.24,1902.80 1406.10,1902.80 Z" fill="#db3247" fill-opacity="0.45"/>
<rect x="892.3" y="1495.6" width="634" height="426.2" fill="none" stroke="#333" stroke-width="2.6"/>
<line x1="888.3" y1="1503.4" x2="891.0" y2="1503.4" stroke="#333" stroke-width="1.3"/>
<text x="883.3" y="1512.2" font-size="24.5" font-weight="bold" text-anchor="end" fill="#000">100</text>
<line x1="888.3" y1="1611.2" x2="891.0" y2="1611.2" stroke="#333" stroke-width="1.3"/>
<text x="883.3" y="1620.0" font-size="24.5" font-weight="bold" text-anchor="end" fill="#000">75</text>
<line x1="888.3" y1="1708.4" x2="891.0" y2="1708.4" stroke="#333" stroke-width="1.3"/>
<text x="883.3" y="1717.2" font-size="24.5" font-weight="bold" text-anchor="end" fill="#000">50</text>
<line x1="888.3" y1="1805.6" x2="891.0" y2="1805.6" stroke="#333" stroke-width="1.3"/>
<text x="883.3" y="1814.4" font-size="24.5" font-weight="bold" text-anchor="end" fill="#000">25</text>
<line x1="888.3" y1="1902.8" x2="891.0" y2="1902.8" stroke="#333" stroke-width="1.3"/>
<text x="883.3" y="1911.6" font-size="24.5" font-weight="bold" text-anchor="end" fill="#000">0</text>
<line x1="931.7" y1="1923.0" x2="931.7" y2="1926.0" stroke="#333" stroke-width="1.3"/>
<text x="929.9" y="1955.7" font-size="23" font-weight="bold" text-anchor="middle" fill="#000">T06</text>
<line x1="997.9" y1="1923.0" x2="997.9" y2="1926.0" stroke="#333" stroke-width="1.3"/>
<text x="996.1" y="1955.7" font-size="23" font-weight="bold" text-anchor="middle" fill="#000">T09</text>
<line x1="1064.1" y1="1923.0" x2="1064.1" y2="1926.0" stroke="#333" stroke-width="1.3"/>
<text x="1062.3" y="1955.7" font-size="23" font-weight="bold" text-anchor="middle" fill="#000">T12</text>
<line x1="1130.3" y1="1923.0" x2="1130.3" y2="1926.0" stroke="#333" stroke-width="1.3"/>
<text x="1128.5" y="1955.7" font-size="23" font-weight="bold" text-anchor="middle" fill="#000">T15</text>
<line x1="1196.5" y1="1923.0" x2="1196.5" y2="1926.0" stroke="#333" stroke-width="1.3"/>
<text x="1194.7" y="1955.7" font-size="23" font-weight="bold" text-anchor="middle" fill="#000">T18</text>
<line x1="1262.7" y1="1923.0" x2="1262.7" y2="1926.0" stroke="#333" stroke-width="1.3"/>
<text x="1260.9" y="1955.7" font-size="23" font-weight="bold" text-anchor="middle" fill="#000">T21</text>
<line x1="1328.9" y1="1923.0" x2="1328.9" y2="1926.0" stroke="#333" stroke-width="1.3"/>
<text x="1327.1" y="1955.7" font-size="23" font-weight="bold" text-anchor="middle" fill="#000">T24</text>
<line x1="1395.1" y1="1923.0" x2="1395.1" y2="1926.0" stroke="#333" stroke-width="1.3"/>
<text x="1393.3" y="1955.7" font-size="23" font-weight="bold" text-anchor="middle" fill="#000">T27</text>
<line x1="1461.3" y1="1923.0" x2="1461.3" y2="1926.0" stroke="#333" stroke-width="1.3"/>
<text x="1459.5" y="1955.7" font-size="23" font-weight="bold" text-anchor="middle" fill="#000">T30</text>
<text x="848.3" y="1691.4" font-size="31" font-weight="bold" text-anchor="middle" fill="#000" transform="rotate(-90 848.3 1691.4)">Relative abundance&#160; (%)</text>
<text x="1493.5" y="1562.5" font-size="35.5" font-weight="bold" fill="#000" stroke="#000" stroke-width="0.9">#</text>
<text x="1493.5" y="1602.8" font-size="35.5" font-weight="bold" fill="#000" stroke="#000" stroke-width="0.9">#</text>
<text x="1536.9" y="1570.9" font-size="31" font-weight="bold" text-anchor="start" fill="#000">Phylum</text>
<rect x="1535.70" y="1586.50" width="29.10" height="29.10" fill="#d6687a"/>
<text x="1571.1" y="1608.2" font-size="20" font-weight="bold" text-anchor="start" fill="#000">Unassigned</text>
<rect x="1535.70" y="1615.34" width="29.10" height="29.10" fill="#2193b8"/>
<text x="1571.1" y="1637.0" font-size="20" font-weight="bold" text-anchor="start" fill="#000">Saccharibacteria</text>
<rect x="1535.70" y="1644.18" width="29.10" height="29.10" fill="#86d3e8"/>
<text x="1571.1" y="1665.9" font-size="20" font-weight="bold" text-anchor="start" fill="#000">Cyanobacteria</text>
<rect x="1535.70" y="1673.02" width="29.10" height="29.10" fill="#237b66"/>
<text x="1571.1" y="1694.7" font-size="20" font-weight="bold" text-anchor="start" fill="#000">Euryarchaeota</text>
<rect x="1535.70" y="1701.86" width="29.10" height="29.10" fill="#1fb25d"/>
<text x="1571.1" y="1723.6" font-size="20" font-weight="bold" text-anchor="start" fill="#000">Fusobacteria</text>
<rect x="1535.70" y="1730.70" width="29.10" height="29.10" fill="#72cf78"/>
<text x="1571.1" y="1752.4" font-size="20" font-weight="bold" text-anchor="start" fill="#000">Tenericutes</text>
<rect x="1535.70" y="1759.54" width="29.10" height="29.10" fill="#ef6c40"/>
<text x="1571.1" y="1781.2" font-size="20" font-weight="bold" text-anchor="start" fill="#000">Spirochaetae</text>
<rect x="1535.70" y="1788.38" width="29.10" height="29.10" fill="#f18a24"/>
<text x="1571.1" y="1810.1" font-size="20" font-weight="bold" text-anchor="start" fill="#000">Actinobacteria</text>
<rect x="1535.70" y="1817.22" width="29.10" height="29.10" fill="#fcbfc3"/>
<text x="1571.1" y="1838.9" font-size="20" font-weight="bold" text-anchor="start" fill="#000">Proteobacteria</text>
<rect x="1535.70" y="1846.06" width="29.10" height="29.10" fill="#1f6781"/>
<text x="1571.1" y="1867.8" font-size="20" font-weight="bold" text-anchor="start" fill="#000">Bacteroidetes</text>
<rect x="1535.70" y="1874.90" width="29.10" height="29.10" fill="#db3247"/>
<text x="1571.1" y="1896.6" font-size="20" font-weight="bold" text-anchor="start" fill="#000">Firmicutes</text>
<text x="813.0" y="2000.3" font-size="47" font-weight="bold" text-anchor="start" fill="#000">i</text>
<line x1="891.5" y1="2440.5" x2="1514.0" y2="2440.5" stroke="#ebebeb" stroke-width="1.1"/>
<line x1="891.5" y1="2333.2" x2="1514.0" y2="2333.2" stroke="#ebebeb" stroke-width="1.1"/>
<line x1="891.5" y1="2225.9" x2="1514.0" y2="2225.9" stroke="#ebebeb" stroke-width="1.1"/>
<line x1="891.5" y1="2118.6" x2="1514.0" y2="2118.6" stroke="#ebebeb" stroke-width="1.1"/>
<line x1="891.5" y1="2011.2" x2="1514.0" y2="2011.2" stroke="#ebebeb" stroke-width="1.1"/>
<line x1="891.5" y1="2386.8" x2="1514.0" y2="2386.8" stroke="#f2f2f2" stroke-width="0.7"/>
<line x1="891.5" y1="2279.5" x2="1514.0" y2="2279.5" stroke="#f2f2f2" stroke-width="0.7"/>
<line x1="891.5" y1="2172.2" x2="1514.0" y2="2172.2" stroke="#f2f2f2" stroke-width="0.7"/>
<line x1="891.5" y1="2064.9" x2="1514.0" y2="2064.9" stroke="#f2f2f2" stroke-width="0.7"/>
<line x1="931.7" y1="1991.0" x2="931.7" y2="2461.0" stroke="#ebebeb" stroke-width="1.1"/>
<line x1="999.4" y1="1991.0" x2="999.4" y2="2461.0" stroke="#ebebeb" stroke-width="1.1"/>
<line x1="1067.1" y1="1991.0" x2="1067.1" y2="2461.0" stroke="#ebebeb" stroke-width="1.1"/>
<line x1="1134.8" y1="1991.0" x2="1134.8" y2="2461.0" stroke="#ebebeb" stroke-width="1.1"/>
<line x1="1202.5" y1="1991.0" x2="1202.5" y2="2461.0" stroke="#ebebeb" stroke-width="1.1"/>
<line x1="1270.2" y1="1991.0" x2="1270.2" y2="2461.0" stroke="#ebebeb" stroke-width="1.1"/>
<line x1="1337.9" y1="1991.0" x2="1337.9" y2="2461.0" stroke="#ebebeb" stroke-width="1.1"/>
<line x1="1405.6" y1="1991.0" x2="1405.6" y2="2461.0" stroke="#ebebeb" stroke-width="1.1"/>
<line x1="1473.3" y1="1991.0" x2="1473.3" y2="2461.0" stroke="#ebebeb" stroke-width="1.1"/>
<rect x="909.10" y="2011.25" width="45.20" height="97.44" fill="#3a957c"/>
<rect x="909.10" y="2108.69" width="45.20" height="36.92" fill="#38be69"/>
<rect x="909.10" y="2145.61" width="45.20" height="20.17" fill="#7fd789"/>
<rect x="909.10" y="2165.78" width="45.20" height="22.32" fill="#fdc7cb"/>
<rect x="909.10" y="2188.10" width="45.20" height="9.01" fill="#db798b"/>
<rect x="909.10" y="2197.12" width="45.20" height="12.02" fill="#de495c"/>
<rect x="909.10" y="2209.13" width="45.20" height="12.88" fill="#f27d53"/>
<rect x="909.10" y="2222.01" width="45.20" height="12.88" fill="#f2983d"/>
<rect x="909.10" y="2234.89" width="45.20" height="6.44" fill="#fb693b"/>
<rect x="909.10" y="2241.33" width="45.20" height="7.30" fill="#e7633d"/>
<rect x="909.10" y="2248.63" width="45.20" height="3.86" fill="#d15d3d"/>
<rect x="909.10" y="2252.49" width="45.20" height="10.30" fill="#ad543d"/>
<rect x="909.10" y="2262.79" width="45.20" height="10.30" fill="#854a3a"/>
<rect x="909.10" y="2273.09" width="45.20" height="6.01" fill="#39cffb"/>
<rect x="909.10" y="2279.10" width="45.20" height="9.44" fill="#3abbe5"/>
<rect x="909.10" y="2288.55" width="45.20" height="3.00" fill="#3aaad1"/>
<rect x="909.10" y="2291.55" width="45.20" height="6.01" fill="#3a9cbe"/>
<rect x="909.10" y="2297.56" width="45.20" height="4.72" fill="#3a8ca7"/>
<rect x="909.10" y="2302.28" width="45.20" height="138.22" fill="#3a7d93"/>
<rect x="909.10" y="2011.25" width="45.20" height="97.44" fill="none" stroke="#111" stroke-width="1.6"/>
<rect x="909.10" y="2108.69" width="45.20" height="36.92" fill="none" stroke="#111" stroke-width="1.6"/>
<rect x="909.10" y="2145.61" width="45.20" height="20.17" fill="none" stroke="#111" stroke-width="1.6"/>
<rect x="909.10" y="2165.78" width="45.20" height="22.32" fill="none" stroke="#111" stroke-width="1.6"/>
<rect x="909.10" y="2188.10" width="45.20" height="9.01" fill="none" stroke="#111" stroke-width="1.6"/>
<rect x="909.10" y="2197.12" width="45.20" height="12.02" fill="none" stroke="#111" stroke-width="1.6"/>
<rect x="909.10" y="2209.13" width="45.20" height="12.88" fill="none" stroke="#111" stroke-width="1.6"/>
<rect x="909.10" y="2222.01" width="45.20" height="12.88" fill="none" stroke="#111" stroke-width="1.6"/>
<rect x="909.10" y="2234.89" width="45.20" height="6.44" fill="none" stroke="#111" stroke-width="1.6"/>
<rect x="909.10" y="2241.33" width="45.20" height="7.30" fill="none" stroke="#111" stroke-width="1.6"/>
<rect x="909.10" y="2248.63" width="45.20" height="3.86" fill="none" stroke="#111" stroke-width="1.6"/>
<rect x="909.10" y="2252.49" width="45.20" height="10.30" fill="none" stroke="#111" stroke-width="1.6"/>
<rect x="909.10" y="2262.79" width="45.20" height="10.30" fill="none" stroke="#111" stroke-width="1.6"/>
<rect x="909.10" y="2273.09" width="45.20" height="6.01" fill="none" stroke="#111" stroke-width="1.6"/>
<rect x="909.10" y="2279.10" width="45.20" height="9.44" fill="none" stroke="#111" stroke-width="1.6"/>
<rect x="909.10" y="2288.55" width="45.20" height="3.00" fill="none" stroke="#111" stroke-width="1.6"/>
<rect x="909.10" y="2291.55" width="45.20" height="6.01" fill="none" stroke="#111" stroke-width="1.6"/>
<rect x="909.10" y="2297.56" width="45.20" height="4.72" fill="none" stroke="#111" stroke-width="1.6"/>
<rect x="909.10" y="2302.28" width="45.20" height="138.22" fill="none" stroke="#111" stroke-width="1.6"/>
<rect x="976.80" y="2011.25" width="45.20" height="78.98" fill="#3a957c"/>
<rect x="976.80" y="2090.23" width="45.20" height="31.76" fill="#38be69"/>
<rect x="976.80" y="2122.00" width="45.20" height="21.03" fill="#7fd789"/>
<rect x="976.80" y="2143.03" width="45.20" height="23.18" fill="#fdc7cb"/>
<rect x="976.80" y="2166.21" width="45.20" height="11.59" fill="#db798b"/>
<rect x="976.80" y="2177.80" width="45.20" height="12.45" fill="#de495c"/>
<rect x="976.80" y="2190.25" width="45.20" height="16.74" fill="#f27d53"/>
<rect x="976.80" y="2206.99" width="45.20" height="12.45" fill="#f2983d"/>
<rect x="976.80" y="2219.44" width="45.20" height="6.44" fill="#fb693b"/>
<rect x="976.80" y="2225.88" width="45.20" height="6.44" fill="#e7633d"/>
<rect x="976.80" y="2232.31" width="45.20" height="3.00" fill="#d15d3d"/>
<rect x="976.80" y="2235.32" width="45.20" height="8.59" fill="#ad543d"/>
<rect x="976.80" y="2243.90" width="45.20" height="13.31" fill="#854a3a"/>
<rect x="976.80" y="2257.21" width="45.20" height="5.58" fill="#39cffb"/>
<rect x="976.80" y="2262.79" width="45.20" height="9.87" fill="#3abbe5"/>
<rect x="976.80" y="2272.66" width="45.20" height="4.72" fill="#3aaad1"/>
<rect x="976.80" y="2277.39" width="45.20" height="4.72" fill="#3a9cbe"/>
<rect x="976.80" y="2282.11" width="45.20" height="5.58" fill="#3a8ca7"/>
<rect x="976.80" y="2287.69" width="45.20" height="152.81" fill="#3a7d93"/>
<rect x="976.80" y="2011.25" width="45.20" height="78.98" fill="none" stroke="#111" stroke-width="1.6"/>
<rect x="976.80" y="2090.23" width="45.20" height="31.76" fill="none" stroke="#111" stroke-width="1.6"/>
<rect x="976.80" y="2122.00" width="45.20" height="21.03" fill="none" stroke="#111" stroke-width="1.6"/>
<rect x="976.80" y="2143.03" width="45.20" height="23.18" fill="none" stroke="#111" stroke-width="1.6"/>
<rect x="976.80" y="2166.21" width="45.20" height="11.59" fill="none" stroke="#111" stroke-width="1.6"/>
<rect x="976.80" y="2177.80" width="45.20" height="12.45" fill="none" stroke="#111" stroke-width="1.6"/>
<rect x="976.80" y="2190.25" width="45.20" height="16.74" fill="none" stroke="#111" stroke-width="1.6"/>
<rect x="976.80" y="2206.99" width="45.20" height="12.45" fill="none" stroke="#111" stroke-width="1.6"/>
<rect x="976.80" y="2219.44" width="45.20" height="6.44" fill="none" stroke="#111" stroke-width="1.6"/>
<rect x="976.80" y="2225.88" width="45.20" height="6.44" fill="none" stroke="#111" stroke-width="1.6"/>
<rect x="976.80" y="2232.31" width="45.20" height="3.00" fill="none" stroke="#111" stroke-width="1.6"/>
<rect x="976.80" y="2235.32" width="45.20" height="8.59" fill="none" stroke="#111" stroke-width="1.6"/>
<rect x="976.80" y="2243.90" width="45.20" height="13.31" fill="none" stroke="#111" stroke-width="1.6"/>
<rect x="976.80" y="2257.21" width="45.20" height="5.58" fill="none" stroke="#111" stroke-width="1.6"/>
<rect x="976.80" y="2262.79" width="45.20" height="9.87" fill="none" stroke="#111" stroke-width="1.6"/>
<rect x="976.80" y="2272.66" width="45.20" height="4.72" fill="none" stroke="#111" stroke-width="1.6"/>
<rect x="976.80" y="2277.39" width="45.20" height="4.72" fill="none" stroke="#111" stroke-width="1.6"/>
<rect x="976.80" y="2282.11" width="45.20" height="5.58" fill="none" stroke="#111" stroke-width="1.6"/>
<rect x="976.80" y="2287.69" width="45.20" height="152.81" fill="none" stroke="#111" stroke-width="1.6"/>
<rect x="1044.50" y="2011.25" width="45.20" height="54.09" fill="#3a957c"/>
<rect x="1044.50" y="2065.34" width="45.20" height="43.78" fill="#38be69"/>
<rect x="1044.50" y="2109.12" width="45.20" height="16.31" fill="#7fd789"/>
<rect x="1044.50" y="2125.43" width="45.20" height="27.90" fill="#fdc7cb"/>
<rect x="1044.50" y="2153.33" width="45.20" height="7.30" fill="#db798b"/>
<rect x="1044.50" y="2160.63" width="45.20" height="18.03" fill="#de495c"/>
<rect x="1044.50" y="2178.66" width="45.20" height="18.46" fill="#f27d53"/>
<rect x="1044.50" y="2197.12" width="45.20" height="11.59" fill="#f2983d"/>
<rect x="1044.50" y="2208.70" width="45.20" height="6.01" fill="#fb693b"/>
<rect x="1044.50" y="2214.71" width="45.20" height="6.44" fill="#e7633d"/>
<rect x="1044.50" y="2221.15" width="45.20" height="5.15" fill="#d15d3d"/>
<rect x="1044.50" y="2226.30" width="45.20" height="15.45" fill="#ad543d"/>
<rect x="1044.50" y="2241.76" width="45.20" height="8.59" fill="#854a3a"/>
<rect x="1044.50" y="2250.34" width="45.20" height="6.44" fill="#39cffb"/>
<rect x="1044.50" y="2256.78" width="45.20" height="9.44" fill="#3abbe5"/>
<rect x="1044.50" y="2266.22" width="45.20" height="5.15" fill="#3aaad1"/>
<rect x="1044.50" y="2271.38" width="45.20" height="5.58" fill="#3a9cbe"/>
<rect x="1044.50" y="2276.96" width="45.20" height="3.86" fill="#3a8ca7"/>
<rect x="1044.50" y="2280.82" width="45.20" height="159.68" fill="#3a7d93"/>
<rect x="1044.50" y="2011.25" width="45.20" height="54.09" fill="none" stroke="#111" stroke-width="1.6"/>
<rect x="1044.50" y="2065.34" width="45.20" height="43.78" fill="none" stroke="#111" stroke-width="1.6"/>
<rect x="1044.50" y="2109.12" width="45.20" height="16.31" fill="none" stroke="#111" stroke-width="1.6"/>
<rect x="1044.50" y="2125.43" width="45.20" height="27.90" fill="none" stroke="#111" stroke-width="1.6"/>
<rect x="1044.50" y="2153.33" width="45.20" height="7.30" fill="none" stroke="#111" stroke-width="1.6"/>
<rect x="1044.50" y="2160.63" width="45.20" height="18.03" fill="none" stroke="#111" stroke-width="1.6"/>
<rect x="1044.50" y="2178.66" width="45.20" height="18.46" fill="none" stroke="#111" stroke-width="1.6"/>
<rect x="1044.50" y="2197.12" width="45.20" height="11.59" fill="none" stroke="#111" stroke-width="1.6"/>
<rect x="1044.50" y="2208.70" width="45.20" height="6.01" fill="none" stroke="#111" stroke-width="1.6"/>
<rect x="1044.50" y="2214.71" width="45.20" height="6.44" fill="none" stroke="#111" stroke-width="1.6"/>
<rect x="1044.50" y="2221.15" width="45.20" height="5.15" fill="none" stroke="#111" stroke-width="1.6"/>
<rect x="1044.50" y="2226.30" width="45.20" height="15.45" fill="none" stroke="#111" stroke-width="1.6"/>
<rect x="1044.50" y="2241.76" width="45.20" height="8.59" fill="none" stroke="#111" stroke-width="1.6"/>
<rect x="1044.50" y="2250.34" width="45.20" height="6.44" fill="none" stroke="#111" stroke-width="1.6"/>
<rect x="1044.50" y="2256.78" width="45.20" height="9.44" fill="none" stroke="#111" stroke-width="1.6"/>
<rect x="1044.50" y="2266.22" width="45.20" height="5.15" fill="none" stroke="#111" stroke-width="1.6"/>
<rect x="1044.50" y="2271.38" width="45.20" height="5.58" fill="none" stroke="#111" stroke-width="1.6"/>
<rect x="1044.50" y="2276.96" width="45.20" height="3.86" fill="none" stroke="#111" stroke-width="1.6"/>
<rect x="1044.50" y="2280.82" width="45.20" height="159.68" fill="none" stroke="#111" stroke-width="1.6"/>
<rect x="1112.20" y="2011.25" width="45.20" height="71.68" fill="#3a957c"/>
<rect x="1112.20" y="2082.93" width="45.20" height="45.07" fill="#38be69"/>
<rect x="1112.20" y="2128.01" width="45.20" height="17.60" fill="#7fd789"/>
<rect x="1112.20" y="2145.61" width="45.20" height="17.60" fill="#fdc7cb"/>
<rect x="1112.20" y="2163.20" width="45.20" height="8.59" fill="#db798b"/>
<rect x="1112.20" y="2171.79" width="45.20" height="20.17" fill="#de495c"/>
<rect x="1112.20" y="2191.96" width="45.20" height="14.59" fill="#f27d53"/>
<rect x="1112.20" y="2206.56" width="45.20" height="10.30" fill="#f2983d"/>
<rect x="1112.20" y="2216.86" width="45.20" height="6.87" fill="#fb693b"/>
<rect x="1112.20" y="2223.73" width="45.20" height="7.30" fill="#e7633d"/>
<rect x="1112.20" y="2231.03" width="45.20" height="14.17" fill="#d15d3d"/>
<rect x="1112.20" y="2245.19" width="45.20" height="16.31" fill="#ad543d"/>
<rect x="1112.20" y="2261.50" width="45.20" height="4.72" fill="#854a3a"/>
<rect x="1112.20" y="2266.22" width="45.20" height="6.87" fill="#39cffb"/>
<rect x="1112.20" y="2273.09" width="45.20" height="10.30" fill="#3abbe5"/>
<rect x="1112.20" y="2283.39" width="45.20" height="4.29" fill="#3aaad1"/>
<rect x="1112.20" y="2287.69" width="45.20" height="5.15" fill="#3a9cbe"/>
<rect x="1112.20" y="2292.84" width="45.20" height="4.29" fill="#3a8ca7"/>
<rect x="1112.20" y="2297.13" width="45.20" height="143.37" fill="#3a7d93"/>
<rect x="1112.20" y="2011.25" width="45.20" height="71.68" fill="none" stroke="#111" stroke-width="1.6"/>
<rect x="1112.20" y="2082.93" width="45.20" height="45.07" fill="none" stroke="#111" stroke-width="1.6"/>
<rect x="1112.20" y="2128.01" width="45.20" height="17.60" fill="none" stroke="#111" stroke-width="1.6"/>
<rect x="1112.20" y="2145.61" width="45.20" height="17.60" fill="none" stroke="#111" stroke-width="1.6"/>
<rect x="1112.20" y="2163.20" width="45.20" height="8.59" fill="none" stroke="#111" stroke-width="1.6"/>
<rect x="1112.20" y="2171.79" width="45.20" height="20.17" fill="none" stroke="#111" stroke-width="1.6"/>
<rect x="1112.20" y="2191.96" width="45.20" height="14.59" fill="none" stroke="#111" stroke-width="1.6"/>
<rect x="1112.20" y="2206.56" width="45.20" height="10.30" fill="none" stroke="#111" stroke-width="1.6"/>
<rect x="1112.20" y="2216.86" width="45.20" height="6.87" fill="none" stroke="#111" stroke-width="1.6"/>
<rect x="1112.20" y="2223.73" width="45.20" height="7.30" fill="none" stroke="#111" stroke-width="1.6"/>
<rect x="1112.20" y="2231.03" width="45.20" height="14.17" fill="none" stroke="#111" stroke-width="1.6"/>
<rect x="1112.20" y="2245.19" width="45.20" height="16.31" fill="none" stroke="#111" stroke-width="1.6"/>
<rect x="1112.20" y="2261.50" width="45.20" height="4.72" fill="none" stroke="#111" stroke-width="1.6"/>
<rect x="1112.20" y="2266.22" width="45.20" height="6.87" fill="none" stroke="#111" stroke-width="1.6"/>
<rect x="1112.20" y="2273.09" width="45.20" height="10.30" fill="none" stroke="#111" stroke-width="1.6"/>
<rect x="1112.20" y="2283.39" width="45.20" height="4.29" fill="none" stroke="#111" stroke-width="1.6"/>
<rect x="1112.20" y="2287.69" width="45.20" height="5.15" fill="none" stroke="#111" stroke-width="1.6"/>
<rect x="1112.20" y="2292.84" width="45.20" height="4.29" fill="none" stroke="#111" stroke-width="1.6"/>
<rect x="1112.20" y="2297.13" width="45.20" height="143.37" fill="none" stroke="#111" stroke-width="1.6"/>
<rect x="1179.90" y="2011.25" width="45.20" height="144.66" fill="#3a957c"/>
<rect x="1179.90" y="2155.91" width="45.20" height="42.07" fill="#38be69"/>
<rect x="1179.90" y="2197.97" width="45.20" height="29.19" fill="#7fd789"/>
<rect x="1179.90" y="2227.16" width="45.20" height="0.86" fill="#fdc7cb"/>
<rect x="1179.90" y="2228.02" width="45.20" height="15.88" fill="#db798b"/>
<rect x="1179.90" y="2243.90" width="45.20" height="5.58" fill="#de495c"/>
<rect x="1179.90" y="2249.48" width="45.20" height="1.29" fill="#f27d53"/>
<rect x="1179.90" y="2250.77" width="45.20" height="3.00" fill="#f2983d"/>
<rect x="1179.90" y="2253.78" width="45.20" height="16.31" fill="#fb693b"/>
<rect x="1179.90" y="2270.09" width="45.20" height="12.45" fill="#e7633d"/>
<rect x="1179.90" y="2282.54" width="45.20" height="19.75" fill="#d15d3d"/>
<rect x="1179.90" y="2302.28" width="45.20" height="1.29" fill="#ad543d"/>
<rect x="1179.90" y="2303.57" width="45.20" height="2.15" fill="#854a3a"/>
<rect x="1179.90" y="2305.72" width="45.20" height="7.73" fill="#3abbe5"/>
<rect x="1179.90" y="2313.44" width="45.20" height="3.00" fill="#3aaad1"/>
<rect x="1179.90" y="2316.45" width="45.20" height="3.43" fill="#3a9cbe"/>
<rect x="1179.90" y="2319.88" width="45.20" height="3.86" fill="#3a8ca7"/>
<rect x="1179.90" y="2323.74" width="45.20" height="116.76" fill="#3a7d93"/>
<rect x="1179.90" y="2011.25" width="45.20" height="144.66" fill="none" stroke="#111" stroke-width="1.6"/>
<rect x="1179.90" y="2155.91" width="45.20" height="42.07" fill="none" stroke="#111" stroke-width="1.6"/>
<rect x="1179.90" y="2197.97" width="45.20" height="29.19" fill="none" stroke="#111" stroke-width="1.6"/>
<rect x="1179.90" y="2227.16" width="45.20" height="0.86" fill="none" stroke="#111" stroke-width="1.6"/>
<rect x="1179.90" y="2228.02" width="45.20" height="15.88" fill="none" stroke="#111" stroke-width="1.6"/>
<rect x="1179.90" y="2243.90" width="45.20" height="5.58" fill="none" stroke="#111" stroke-width="1.6"/>
<rect x="1179.90" y="2249.48" width="45.20" height="1.29" fill="none" stroke="#111" stroke-width="1.6"/>
<rect x="1179.90" y="2250.77" width="45.20" height="3.00" fill="none" stroke="#111" stroke-width="1.6"/>
<rect x="1179.90" y="2253.78" width="45.20" height="16.31" fill="none" stroke="#111" stroke-width="1.6"/>
<rect x="1179.90" y="2270.09" width="45.20" height="12.45" fill="none" stroke="#111" stroke-width="1.6"/>
<rect x="1179.90" y="2282.54" width="45.20" height="19.75" fill="none" stroke="#111" stroke-width="1.6"/>
<rect x="1179.90" y="2302.28" width="45.20" height="1.29" fill="none" stroke="#111" stroke-width="1.6"/>
<rect x="1179.90" y="2303.57" width="45.20" height="2.15" fill="none" stroke="#111" stroke-width="1.6"/>
<rect x="1179.90" y="2305.72" width="45.20" height="7.73" fill="none" stroke="#111" stroke-width="1.6"/>
<rect x="1179.90" y="2313.44" width="45.20" height="3.00" fill="none" stroke="#111" stroke-width="1.6"/>
<rect x="1179.90" y="2316.45" width="45.20" height="3.43" fill="none" stroke="#111" stroke-width="1.6"/>
<rect x="1179.90" y="2319.88" width="45.20" height="3.86" fill="none" stroke="#111" stroke-width="1.6"/>
<rect x="1179.90" y="2323.74" width="45.20" height="116.76" fill="none" stroke="#111" stroke-width="1.6"/>
<rect x="1247.60" y="2011.25" width="45.20" height="121.91" fill="#3a957c"/>
<rect x="1247.60" y="2133.16" width="45.20" height="59.24" fill="#38be69"/>
<rect x="1247.60" y="2192.39" width="45.20" height="26.18" fill="#7fd789"/>
<rect x="1247.60" y="2218.58" width="45.20" height="5.15" fill="#fdc7cb"/>
<rect x="1247.60" y="2223.73" width="45.20" height="16.31" fill="#db798b"/>
<rect x="1247.60" y="2240.04" width="45.20" height="8.59" fill="#de495c"/>
<rect x="1247.60" y="2248.63" width="45.20" height="7.30" fill="#f27d53"/>
<rect x="1247.60" y="2255.92" width="45.20" height="12.02" fill="#f2983d"/>
<rect x="1247.60" y="2267.94" width="45.20" height="10.73" fill="#fb693b"/>
<rect x="1247.60" y="2278.67" width="45.20" height="14.17" fill="#e7633d"/>
<rect x="1247.60" y="2292.84" width="45.20" height="7.30" fill="#d15d3d"/>
<rect x="1247.60" y="2300.14" width="45.20" height="3.43" fill="#ad543d"/>
<rect x="1247.60" y="2303.57" width="45.20" height="2.15" fill="#854a3a"/>
<rect x="1247.60" y="2305.72" width="45.20" height="8.59" fill="#39cffb"/>
<rect x="1247.60" y="2314.30" width="45.20" height="3.43" fill="#3abbe5"/>
<rect x="1247.60" y="2317.73" width="45.20" height="5.15" fill="#3aaad1"/>
<rect x="1247.60" y="2322.89" width="45.20" height="4.29" fill="#3a9cbe"/>
<rect x="1247.60" y="2327.18" width="45.20" height="3.43" fill="#3a8ca7"/>
<rect x="1247.60" y="2330.61" width="45.20" height="109.89" fill="#3a7d93"/>
<rect x="1247.60" y="2011.25" width="45.20" height="121.91" fill="none" stroke="#111" stroke-width="1.6"/>
<rect x="1247.60" y="2133.16" width="45.20" height="59.24" fill="none" stroke="#111" stroke-width="1.6"/>
<rect x="1247.60" y="2192.39" width="45.20" height="26.18" fill="none" stroke="#111" stroke-width="1.6"/>
<rect x="1247.60" y="2218.58" width="45.20" height="5.15" fill="none" stroke="#111" stroke-width="1.6"/>
<rect x="1247.60" y="2223.73" width="45.20" height="16.31" fill="none" stroke="#111" stroke-width="1.6"/>
<rect x="1247.60" y="2240.04" width="45.20" height="8.59" fill="none" stroke="#111" stroke-width="1.6"/>
<rect x="1247.60" y="2248.63" width="45.20" height="7.30" fill="none" stroke="#111" stroke-width="1.6"/>
<rect x="1247.60" y="2255.92" width="45.20" height="12.02" fill="none" stroke="#111" stroke-width="1.6"/>
<rect x="1247.60" y="2267.94" width="45.20" height="10.73" fill="none" stroke="#111" stroke-width="1.6"/>
<rect x="1247.60" y="2278.67" width="45.20" height="14.17" fill="none" stroke="#111" stroke-width="1.6"/>
<rect x="1247.60" y="2292.84" width="45.20" height="7.30" fill="none" stroke="#111" stroke-width="1.6"/>
<rect x="1247.60" y="2300.14" width="45.20" height="3.43" fill="none" stroke="#111" stroke-width="1.6"/>
<rect x="1247.60" y="2303.57" width="45.20" height="2.15" fill="none" stroke="#111" stroke-width="1.6"/>
<rect x="1247.60" y="2305.72" width="45.20" height="8.59" fill="none" stroke="#111" stroke-width="1.6"/>
<rect x="1247.60" y="2314.30" width="45.20" height="3.43" fill="none" stroke="#111" stroke-width="1.6"/>
<rect x="1247.60" y="2317.73" width="45.20" height="5.15" fill="none" stroke="#111" stroke-width="1.6"/>
<rect x="1247.60" y="2322.89" width="45.20" height="4.29" fill="none" stroke="#111" stroke-width="1.6"/>
<rect x="1247.60" y="2327.18" width="45.20" height="3.43" fill="none" stroke="#111" stroke-width="1.6"/>
<rect x="1247.60" y="2330.61" width="45.20" height="109.89" fill="none" stroke="#111" stroke-width="1.6"/>
<rect x="1315.30" y="2011.25" width="45.20" height="121.91" fill="#3a957c"/>
<rect x="1315.30" y="2133.16" width="45.20" height="46.79" fill="#38be69"/>
<rect x="1315.30" y="2179.95" width="45.20" height="20.17" fill="#7fd789"/>
<rect x="1315.30" y="2200.12" width="45.20" height="20.60" fill="#fdc7cb"/>
<rect x="1315.30" y="2220.72" width="45.20" height="15.02" fill="#db798b"/>
<rect x="1315.30" y="2235.75" width="45.20" height="8.59" fill="#de495c"/>
<rect x="1315.30" y="2244.33" width="45.20" height="6.87" fill="#f27d53"/>
<rect x="1315.30" y="2251.20" width="45.20" height="11.16" fill="#f2983d"/>
<rect x="1315.30" y="2262.36" width="45.20" height="9.87" fill="#fb693b"/>
<rect x="1315.30" y="2272.23" width="45.20" height="6.44" fill="#e7633d"/>
<rect x="1315.30" y="2278.67" width="45.20" height="5.58" fill="#d15d3d"/>
<rect x="1315.30" y="2284.25" width="45.20" height="4.29" fill="#ad543d"/>
<rect x="1315.30" y="2288.55" width="45.20" height="9.44" fill="#854a3a"/>
<rect x="1315.30" y="2297.99" width="45.20" height="6.44" fill="#39cffb"/>
<rect x="1315.30" y="2304.43" width="45.20" height="9.01" fill="#3abbe5"/>
<rect x="1315.30" y="2313.44" width="45.20" height="5.15" fill="#3aaad1"/>
<rect x="1315.30" y="2318.59" width="45.20" height="3.43" fill="#3a9cbe"/>
<rect x="1315.30" y="2322.03" width="45.20" height="3.00" fill="#3a8ca7"/>
<rect x="1315.30" y="2325.03" width="45.20" height="115.47" fill="#3a7d93"/>
<rect x="1315.30" y="2011.25" width="45.20" height="121.91" fill="none" stroke="#111" stroke-width="1.6"/>
<rect x="1315.30" y="2133.16" width="45.20" height="46.79" fill="none" stroke="#111" stroke-width="1.6"/>
<rect x="1315.30" y="2179.95" width="45.20" height="20.17" fill="none" stroke="#111" stroke-width="1.6"/>
<rect x="1315.30" y="2200.12" width="45.20" height="20.60" fill="none" stroke="#111" stroke-width="1.6"/>
<rect x="1315.30" y="2220.72" width="45.20" height="15.02" fill="none" stroke="#111" stroke-width="1.6"/>
<rect x="1315.30" y="2235.75" width="45.20" height="8.59" fill="none" stroke="#111" stroke-width="1.6"/>
<rect x="1315.30" y="2244.33" width="45.20" height="6.87" fill="none" stroke="#111" stroke-width="1.6"/>
<rect x="1315.30" y="2251.20" width="45.20" height="11.16" fill="none" stroke="#111" stroke-width="1.6"/>
<rect x="1315.30" y="2262.36" width="45.20" height="9.87" fill="none" stroke="#111" stroke-width="1.6"/>
<rect x="1315.30" y="2272.23" width="45.20" height="6.44" fill="none" stroke="#111" stroke-width="1.6"/>
<rect x="1315.30" y="2278.67" width="45.20" height="5.58" fill="none" stroke="#111" stroke-width="1.6"/>
<rect x="1315.30" y="2284.25" width="45.20" height="4.29" fill="none" stroke="#111" stroke-width="1.6"/>
<rect x="1315.30" y="2288.55" width="45.20" height="9.44" fill="none" stroke="#111" stroke-width="1.6"/>
<rect x="1315.30" y="2297.99" width="45.20" height="6.44" fill="none" stroke="#111" stroke-width="1.6"/>
<rect x="1315.30" y="2304.43" width="45.20" height="9.01" fill="none" stroke="#111" stroke-width="1.6"/>
<rect x="1315.30" y="2313.44" width="45.20" height="5.15" fill="none" stroke="#111" stroke-width="1.6"/>
<rect x="1315.30" y="2318.59" width="45.20" height="3.43" fill="none" stroke="#111" stroke-width="1.6"/>
<rect x="1315.30" y="2322.03" width="45.20" height="3.00" fill="none" stroke="#111" stroke-width="1.6"/>
<rect x="1315.30" y="2325.03" width="45.20" height="115.47" fill="none" stroke="#111" stroke-width="1.6"/>
<rect x="1383.00" y="2011.25" width="45.20" height="164.83" fill="#3a957c"/>
<rect x="1383.00" y="2176.08" width="45.20" height="45.50" fill="#38be69"/>
<rect x="1383.00" y="2221.58" width="45.20" height="22.32" fill="#7fd789"/>
<rect x="1383.00" y="2243.90" width="45.20" height="3.00" fill="#fdc7cb"/>
<rect x="1383.00" y="2246.91" width="45.20" height="16.74" fill="#db798b"/>
<rect x="1383.00" y="2263.65" width="45.20" height="4.72" fill="#de495c"/>
<rect x="1383.00" y="2268.37" width="45.20" height="5.15" fill="#f27d53"/>
<rect x="1383.00" y="2273.52" width="45.20" height="9.87" fill="#f2983d"/>
<rect x="1383.00" y="2283.39" width="45.20" height="9.44" fill="#fb693b"/>
<rect x="1383.00" y="2292.84" width="45.20" height="7.30" fill="#e7633d"/>
<rect x="1383.00" y="2300.14" width="45.20" height="4.29" fill="#d15d3d"/>
<rect x="1383.00" y="2304.43" width="45.20" height="2.15" fill="#ad543d"/>
<rect x="1383.00" y="2306.57" width="45.20" height="1.72" fill="#854a3a"/>
<rect x="1383.00" y="2308.29" width="45.20" height="7.30" fill="#39cffb"/>
<rect x="1383.00" y="2315.59" width="45.20" height="6.44" fill="#3abbe5"/>
<rect x="1383.00" y="2322.03" width="45.20" height="5.15" fill="#3aaad1"/>
<rect x="1383.00" y="2327.18" width="45.20" height="5.58" fill="#3a9cbe"/>
<rect x="1383.00" y="2332.76" width="45.20" height="4.72" fill="#3a8ca7"/>
<rect x="1383.00" y="2337.48" width="45.20" height="103.02" fill="#3a7d93"/>
<rect x="1383.00" y="2011.25" width="45.20" height="164.83" fill="none" stroke="#111" stroke-width="1.6"/>
<rect x="1383.00" y="2176.08" width="45.20" height="45.50" fill="none" stroke="#111" stroke-width="1.6"/>
<rect x="1383.00" y="2221.58" width="45.20" height="22.32" fill="none" stroke="#111" stroke-width="1.6"/>
<rect x="1383.00" y="2243.90" width="45.20" height="3.00" fill="none" stroke="#111" stroke-width="1.6"/>
<rect x="1383.00" y="2246.91" width="45.20" height="16.74" fill="none" stroke="#111" stroke-width="1.6"/>
<rect x="1383.00" y="2263.65" width="45.20" height="4.72" fill="none" stroke="#111" stroke-width="1.6"/>
<rect x="1383.00" y="2268.37" width="45.20" height="5.15" fill="none" stroke="#111" stroke-width="1.6"/>
<rect x="1383.00" y="2273.52" width="45.20" height="9.87" fill="none" stroke="#111" stroke-width="1.6"/>
<rect x="1383.00" y="2283.39" width="45.20" height="9.44" fill="none" stroke="#111" stroke-width="1.6"/>
<rect x="1383.00" y="2292.84" width="45.20" height="7.30" fill="none" stroke="#111" stroke-width="1.6"/>
<rect x="1383.00" y="2300.14" width="45.20" height="4.29" fill="none" stroke="#111" stroke-width="1.6"/>
<rect x="1383.00" y="2304.43" width="45.20" height="2.15" fill="none" stroke="#111" stroke-width="1.6"/>
<rect x="1383.00" y="2306.57" width="45.20" height="1.72" fill="none" stroke="#111" stroke-width="1.6"/>
<rect x="1383.00" y="2308.29" width="45.20" height="7.30" fill="none" stroke="#111" stroke-width="1.6"/>
<rect x="1383.00" y="2315.59" width="45.20" height="6.44" fill="none" stroke="#111" stroke-width="1.6"/>
<rect x="1383.00" y="2322.03" width="45.20" height="5.15" fill="none" stroke="#111" stroke-width="1.6"/>
<rect x="1383.00" y="2327.18" width="45.20" height="5.58" fill="none" stroke="#111" stroke-width="1.6"/>
<rect x="1383.00" y="2332.76" width="45.20" height="4.72" fill="none" stroke="#111" stroke-width="1.6"/>
<rect x="1383.00" y="2337.48" width="45.20" height="103.02" fill="none" stroke="#111" stroke-width="1.6"/>
<rect x="1450.70" y="2011.25" width="45.20" height="166.98" fill="#3a957c"/>
<rect x="1450.70" y="2178.23" width="45.20" height="42.07" fill="#38be69"/>
<rect x="1450.70" y="2220.29" width="45.20" height="29.19" fill="#7fd789"/>
<rect x="1450.70" y="2249.48" width="45.20" height="3.86" fill="#fdc7cb"/>
<rect x="1450.70" y="2253.35" width="45.20" height="19.32" fill="#db798b"/>
<rect x="1450.70" y="2272.66" width="45.20" height="7.73" fill="#de495c"/>
<rect x="1450.70" y="2280.39" width="45.20" height="6.01" fill="#f27d53"/>
<rect x="1450.70" y="2286.40" width="45.20" height="6.44" fill="#f2983d"/>
<rect x="1450.70" y="2292.84" width="45.20" height="8.58" fill="#fb693b"/>
<rect x="1450.70" y="2301.42" width="45.20" height="7.30" fill="#e7633d"/>
<rect x="1450.70" y="2308.72" width="45.20" height="5.58" fill="#d15d3d"/>
<rect x="1450.70" y="2314.30" width="45.20" height="2.15" fill="#ad543d"/>
<rect x="1450.70" y="2316.45" width="45.20" height="4.29" fill="#854a3a"/>
<rect x="1450.70" y="2320.74" width="45.20" height="4.29" fill="#39cffb"/>
<rect x="1450.70" y="2325.03" width="45.20" height="3.43" fill="#3abbe5"/>
<rect x="1450.70" y="2328.47" width="45.20" height="2.15" fill="#3aaad1"/>
<rect x="1450.70" y="2330.61" width="45.20" height="2.15" fill="#3a9cbe"/>
<rect x="1450.70" y="2332.76" width="45.20" height="2.15" fill="#3a8ca7"/>
<rect x="1450.70" y="2334.90" width="45.20" height="105.60" fill="#3a7d93"/>
<rect x="1450.70" y="2011.25" width="45.20" height="166.98" fill="none" stroke="#111" stroke-width="1.6"/>
<rect x="1450.70" y="2178.23" width="45.20" height="42.07" fill="none" stroke="#111" stroke-width="1.6"/>
<rect x="1450.70" y="2220.29" width="45.20" height="29.19" fill="none" stroke="#111" stroke-width="1.6"/>
<rect x="1450.70" y="2249.48" width="45.20" height="3.86" fill="none" stroke="#111" stroke-width="1.6"/>
<rect x="1450.70" y="2253.35" width="45.20" height="19.32" fill="none" stroke="#111" stroke-width="1.6"/>
<rect x="1450.70" y="2272.66" width="45.20" height="7.73" fill="none" stroke="#111" stroke-width="1.6"/>
<rect x="1450.70" y="2280.39" width="45.20" height="6.01" fill="none" stroke="#111" stroke-width="1.6"/>
<rect x="1450.70" y="2286.40" width="45.20" height="6.44" fill="none" stroke="#111" stroke-width="1.6"/>
<rect x="1450.70" y="2292.84" width="45.20" height="8.58" fill="none" stroke="#111" stroke-width="1.6"/>
<rect x="1450.70" y="2301.42" width="45.20" height="7.30" fill="none" stroke="#111" stroke-width="1.6"/>
<rect x="1450.70" y="2308.72" width="45.20" height="5.58" fill="none" stroke="#111" stroke-width="1.6"/>
<rect x="1450.70" y="2314.30" width="45.20" height="2.15" fill="none" stroke="#111" stroke-width="1.6"/>
<rect x="1450.70" y="2316.45" width="45.20" height="4.29" fill="none" stroke="#111" stroke-width="1.6"/>
<rect x="1450.70" y="2320.74" width="45.20" height="4.29" fill="none" stroke="#111" stroke-width="1.6"/>
<rect x="1450.70" y="2325.03" width="45.20" height="3.43" fill="none" stroke="#111" stroke-width="1.6"/>
<rect x="1450.70" y="2328.47" width="45.20" height="2.15" fill="none" stroke="#111" stroke-width="1.6"/>
<rect x="1450.70" y="2330.61" width="45.20" height="2.15" fill="none" stroke="#111" stroke-width="1.6"/>
<rect x="1450.70" y="2332.76" width="45.20" height="2.15" fill="none" stroke="#111" stroke-width="1.6"/>
<rect x="1450.70" y="2334.90" width="45.20" height="105.60" fill="none" stroke="#111" stroke-width="1.6"/>
<path d="M943.00,2011.25 C957.43,2011.25 973.67,2011.25 988.10,2011.25 L988.10,2090.23 C973.67,2090.23 957.43,2108.69 943.00,2108.69 Z" fill="#1f876a" fill-opacity="0.45"/>
<path d="M943.00,2108.69 C957.43,2108.69 973.67,2090.23 988.10,2090.23 L988.10,2122.00 C973.67,2122.00 957.43,2145.61 943.00,2145.61 Z" fill="#1db554" fill-opacity="0.45"/>
<path d="M943.00,2145.61 C957.43,2145.61 973.67,2122.00 988.10,2122.00 L988.10,2143.03 C973.67,2143.03 957.43,2165.78 943.00,2165.78 Z" fill="#6dd179" fill-opacity="0.45"/>
<path d="M943.00,2165.78 C957.43,2165.78 973.67,2143.03 988.10,2143.03 L988.10,2166.21 C973.67,2166.21 957.43,2188.10 943.00,2188.10 Z" fill="#fdbfc4" fill-opacity="0.45"/>
<path d="M943.00,2188.10 C957.43,2188.10 973.67,2166.21 988.10,2166.21 L988.10,2177.80 C973.67,2177.80 957.43,2197.12 943.00,2197.12 Z" fill="#d6677b" fill-opacity="0.45"/>
<path d="M943.00,2197.12 C957.43,2197.12 973.67,2177.80 988.10,2177.80 L988.10,2190.25 C973.67,2190.25 957.43,2209.13 943.00,2209.13 Z" fill="#da3046" fill-opacity="0.45"/>
<path d="M943.00,2209.13 C957.43,2209.13 973.67,2190.25 988.10,2190.25 L988.10,2206.99 C973.67,2206.99 957.43,2222.01 943.00,2222.01 Z" fill="#f06b3c" fill-opacity="0.45"/>
<path d="M943.00,2222.01 C957.43,2222.01 973.67,2206.99 988.10,2206.99 L988.10,2219.44 C973.67,2219.44 957.43,2234.89 943.00,2234.89 Z" fill="#f08a22" fill-opacity="0.45"/>
<path d="M943.00,2234.89 C957.43,2234.89 973.67,2219.44 988.10,2219.44 L988.10,2225.88 C973.67,2225.88 957.43,2241.33 943.00,2241.33 Z" fill="#fb5420" fill-opacity="0.45"/>
<path d="M943.00,2241.33 C957.43,2241.33 973.67,2225.88 988.10,2225.88 L988.10,2232.31 C973.67,2232.31 957.43,2248.63 943.00,2248.63 Z" fill="#e44e22" fill-opacity="0.45"/>
<path d="M943.00,2248.63 C957.43,2248.63 973.67,2232.31 988.10,2232.31 L988.10,2235.32 C973.67,2235.32 957.43,2252.49 943.00,2252.49 Z" fill="#cb4722" fill-opacity="0.45"/>
<path d="M943.00,2252.49 C957.43,2252.49 973.67,2235.32 988.10,2235.32 L988.10,2243.90 C973.67,2243.90 957.43,2262.79 943.00,2262.79 Z" fill="#a23d22" fill-opacity="0.45"/>
<path d="M943.00,2262.79 C957.43,2262.79 973.67,2243.90 988.10,2243.90 L988.10,2257.21 C973.67,2257.21 957.43,2273.09 943.00,2273.09 Z" fill="#74311f" fill-opacity="0.45"/>
<path d="M943.00,2273.09 C957.43,2273.09 973.67,2257.21 988.10,2257.21 L988.10,2262.79 C973.67,2262.79 957.43,2279.10 943.00,2279.10 Z" fill="#1ec8fa" fill-opacity="0.45"/>
<path d="M943.00,2279.10 C957.43,2279.10 973.67,2262.79 988.10,2262.79 L988.10,2272.66 C973.67,2272.66 957.43,2288.55 943.00,2288.55 Z" fill="#1fb2e2" fill-opacity="0.45"/>
<path d="M943.00,2288.55 C957.43,2288.55 973.67,2272.66 988.10,2272.66 L988.10,2277.39 C973.67,2277.39 957.43,2291.55 943.00,2291.55 Z" fill="#1f9ecb" fill-opacity="0.45"/>
<path d="M943.00,2291.55 C957.43,2291.55 973.67,2277.39 988.10,2277.39 L988.10,2282.11 C973.67,2282.11 957.43,2297.56 943.00,2297.56 Z" fill="#1f8eb5" fill-opacity="0.45"/>
<path d="M943.00,2297.56 C957.43,2297.56 973.67,2282.11 988.10,2282.11 L988.10,2287.69 C973.67,2287.69 957.43,2302.28 943.00,2302.28 Z" fill="#1f7c9b" fill-opacity="0.45"/>
<path d="M943.00,2302.28 C957.43,2302.28 973.67,2287.69 988.10,2287.69 L988.10,2440.50 C973.67,2440.50 957.43,2440.50 943.00,2440.50 Z" fill="#1f6b84" fill-opacity="0.45"/>
<path d="M1010.70,2011.25 C1025.13,2011.25 1041.37,2011.25 1055.80,2011.25 L1055.80,2065.34 C1041.37,2065.34 1025.13,2090.23 1010.70,2090.23 Z" fill="#1f876a" fill-opacity="0.45"/>
<path d="M1010.70,2090.23 C1025.13,2090.23 1041.37,2065.34 1055.80,2065.34 L1055.80,2109.12 C1041.37,2109.12 1025.13,2122.00 1010.70,2122.00 Z" fill="#1db554" fill-opacity="0.45"/>
<path d="M1010.70,2122.00 C1025.13,2122.00 1041.37,2109.12 1055.80,2109.12 L1055.80,2125.43 C1041.37,2125.43 1025.13,2143.03 1010.70,2143.03 Z" fill="#6dd179" fill-opacity="0.45"/>
<path d="M1010.70,2143.03 C1025.13,2143.03 1041.37,2125.43 1055.80,2125.43 L1055.80,2153.33 C1041.37,2153.33 1025.13,2166.21 1010.70,2166.21 Z" fill="#fdbfc4" fill-opacity="0.45"/>
<path d="M1010.70,2166.21 C1025.13,2166.21 1041.37,2153.33 1055.80,2153.33 L1055.80,2160.63 C1041.37,2160.63 1025.13,2177.80 1010.70,2177.80 Z" fill="#d6677b" fill-opacity="0.45"/>
<path d="M1010.70,2177.80 C1025.13,2177.80 1041.37,2160.63 1055.80,2160.63 L1055.80,2178.66 C1041.37,2178.66 1025.13,2190.25 1010.70,2190.25 Z" fill="#da3046" fill-opacity="0.45"/>
<path d="M1010.70,2190.25 C1025.13,2190.25 1041.37,2178.66 1055.80,2178.66 L1055.80,2197.12 C1041.37,2197.12 1025.13,2206.99 1010.70,2206.99 Z" fill="#f06b3c" fill-opacity="0.45"/>
<path d="M1010.70,2206.99 C1025.13,2206.99 1041.37,2197.12 1055.80,2197.12 L1055.80,2208.70 C1041.37,2208.70 1025.13,2219.44 1010.70,2219.44 Z" fill="#f08a22" fill-opacity="0.45"/>
<path d="M1010.70,2219.44 C1025.13,2219.44 1041.37,2208.70 1055.80,2208.70 L1055.80,2214.71 C1041.37,2214.71 1025.13,2225.88 1010.70,2225.88 Z" fill="#fb5420" fill-opacity="0.45"/>
<path d="M1010.70,2225.88 C1025.13,2225.88 1041.37,2214.71 1055.80,2214.71 L1055.80,2221.15 C1041.37,2221.15 1025.13,2232.31 1010.70,2232.31 Z" fill="#e44e22" fill-opacity="0.45"/>
<path d="M1010.70,2232.31 C1025.13,2232.31 1041.37,2221.15 1055.80,2221.15 L1055.80,2226.30 C1041.37,2226.30 1025.13,2235.32 1010.70,2235.32 Z" fill="#cb4722" fill-opacity="0.45"/>
<path d="M1010.70,2235.32 C1025.13,2235.32 1041.37,2226.30 1055.80,2226.30 L1055.80,2241.76 C1041.37,2241.76 1025.13,2243.90 1010.70,2243.90 Z" fill="#a23d22" fill-opacity="0.45"/>
<path d="M1010.70,2243.90 C1025.13,2243.90 1041.37,2241.76 1055.80,2241.76 L1055.80,2250.34 C1041.37,2250.34 1025.13,2257.21 1010.70,2257.21 Z" fill="#74311f" fill-opacity="0.45"/>
<path d="M1010.70,2257.21 C1025.13,2257.21 1041.37,2250.34 1055.80,2250.34 L1055.80,2256.78 C1041.37,2256.78 1025.13,2262.79 1010.70,2262.79 Z" fill="#1ec8fa" fill-opacity="0.45"/>
<path d="M1010.70,2262.79 C1025.13,2262.79 1041.37,2256.78 1055.80,2256.78 L1055.80,2266.22 C1041.37,2266.22 1025.13,2272.66 1010.70,2272.66 Z" fill="#1fb2e2" fill-opacity="0.45"/>
<path d="M1010.70,2272.66 C1025.13,2272.66 1041.37,2266.22 1055.80,2266.22 L1055.80,2271.38 C1041.37,2271.38 1025.13,2277.39 1010.70,2277.39 Z" fill="#1f9ecb" fill-opacity="0.45"/>
<path d="M1010.70,2277.39 C1025.13,2277.39 1041.37,2271.38 1055.80,2271.38 L1055.80,2276.96 C1041.37,2276.96 1025.13,2282.11 1010.70,2282.11 Z" fill="#1f8eb5" fill-opacity="0.45"/>
<path d="M1010.70,2282.11 C1025.13,2282.11 1041.37,2276.96 1055.80,2276.96 L1055.80,2280.82 C1041.37,2280.82 1025.13,2287.69 1010.70,2287.69 Z" fill="#1f7c9b" fill-opacity="0.45"/>
<path d="M1010.70,2287.69 C1025.13,2287.69 1041.37,2280.82 1055.80,2280.82 L1055.80,2440.50 C1041.37,2440.50 1025.13,2440.50 1010.70,2440.50 Z" fill="#1f6b84" fill-opacity="0.45"/>
<path d="M1078.40,2011.25 C1092.83,2011.25 1109.07,2011.25 1123.50,2011.25 L1123.50,2082.93 C1109.07,2082.93 1092.83,2065.34 1078.40,2065.34 Z" fill="#1f876a" fill-opacity="0.45"/>
<path d="M1078.40,2065.34 C1092.83,2065.34 1109.07,2082.93 1123.50,2082.93 L1123.50,2128.01 C1109.07,2128.01 1092.83,2109.12 1078.40,2109.12 Z" fill="#1db554" fill-opacity="0.45"/>
<path d="M1078.40,2109.12 C1092.83,2109.12 1109.07,2128.01 1123.50,2128.01 L1123.50,2145.61 C1109.07,2145.61 1092.83,2125.43 1078.40,2125.43 Z" fill="#6dd179" fill-opacity="0.45"/>
<path d="M1078.40,2125.43 C1092.83,2125.43 1109.07,2145.61 1123.50,2145.61 L1123.50,2163.20 C1109.07,2163.20 1092.83,2153.33 1078.40,2153.33 Z" fill="#fdbfc4" fill-opacity="0.45"/>
<path d="M1078.40,2153.33 C1092.83,2153.33 1109.07,2163.20 1123.50,2163.20 L1123.50,2171.79 C1109.07,2171.79 1092.83,2160.63 1078.40,2160.63 Z" fill="#d6677b" fill-opacity="0.45"/>
<path d="M1078.40,2160.63 C1092.83,2160.63 1109.07,2171.79 1123.50,2171.79 L1123.50,2191.96 C1109.07,2191.96 1092.83,2178.66 1078.40,2178.66 Z" fill="#da3046" fill-opacity="0.45"/>
<path d="M1078.40,2178.66 C1092.83,2178.66 1109.07,2191.96 1123.50,2191.96 L1123.50,2206.56 C1109.07,2206.56 1092.83,2197.12 1078.40,2197.12 Z" fill="#f06b3c" fill-opacity="0.45"/>
<path d="M1078.40,2197.12 C1092.83,2197.12 1109.07,2206.56 1123.50,2206.56 L1123.50,2216.86 C1109.07,2216.86 1092.83,2208.70 1078.40,2208.70 Z" fill="#f08a22" fill-opacity="0.45"/>
<path d="M1078.40,2208.70 C1092.83,2208.70 1109.07,2216.86 1123.50,2216.86 L1123.50,2223.73 C1109.07,2223.73 1092.83,2214.71 1078.40,2214.71 Z" fill="#fb5420" fill-opacity="0.45"/>
<path d="M1078.40,2214.71 C1092.83,2214.71 1109.07,2223.73 1123.50,2223.73 L1123.50,2231.03 C1109.07,2231.03 1092.83,2221.15 1078.40,2221.15 Z" fill="#e44e22" fill-opacity="0.45"/>
<path d="M1078.40,2221.15 C1092.83,2221.15 1109.07,2231.03 1123.50,2231.03 L1123.50,2245.19 C1109.07,2245.19 1092.83,2226.30 1078.40,2226.30 Z" fill="#cb4722" fill-opacity="0.45"/>
<path d="M1078.40,2226.30 C1092.83,2226.30 1109.07,2245.19 1123.50,2245.19 L1123.50,2261.50 C1109.07,2261.50 1092.83,2241.76 1078.40,2241.76 Z" fill="#a23d22" fill-opacity="0.45"/>
<path d="M1078.40,2241.76 C1092.83,2241.76 1109.07,2261.50 1123.50,2261.50 L1123.50,2266.22 C1109.07,2266.22 1092.83,2250.34 1078.40,2250.34 Z" fill="#74311f" fill-opacity="0.45"/>
<path d="M1078.40,2250.34 C1092.83,2250.34 1109.07,2266.22 1123.50,2266.22 L1123.50,2273.09 C1109.07,2273.09 1092.83,2256.78 1078.40,2256.78 Z" fill="#1ec8fa" fill-opacity="0.45"/>
<path d="M1078.40,2256.78 C1092.83,2256.78 1109.07,2273.09 1123.50,2273.09 L1123.50,2283.39 C1109.07,2283.39 1092.83,2266.22 1078.40,2266.22 Z" fill="#1fb2e2" fill-opacity="0.45"/>
<path d="M1078.40,2266.22 C1092.83,2266.22 1109.07,2283.39 1123.50,2283.39 L1123.50,2287.69 C1109.07,2287.69 1092.83,2271.38 1078.40,2271.38 Z" fill="#1f9ecb" fill-opacity="0.45"/>
<path d="M1078.40,2271.38 C1092.83,2271.38 1109.07,2287.69 1123.50,2287.69 L1123.50,2292.84 C1109.07,2292.84 1092.83,2276.96 1078.40,2276.96 Z" fill="#1f8eb5" fill-opacity="0.45"/>
<path d="M1078.40,2276.96 C1092.83,2276.96 1109.07,2292.84 1123.50,2292.84 L1123.50,2297.13 C1109.07,2297.13 1092.83,2280.82 1078.40,2280.82 Z" fill="#1f7c9b" fill-opacity="0.45"/>
<path d="M1078.40,2280.82 C1092.83,2280.82 1109.07,2297.13 1123.50,2297.13 L1123.50,2440.50 C1109.07,2440.50 1092.83,2440.50 1078.40,2440.50 Z" fill="#1f6b84" fill-opacity="0.45"/>
<path d="M1146.10,2011.25 C1160.53,2011.25 1176.77,2011.25 1191.20,2011.25 L1191.20,2155.91 C1176.77,2155.91 1160.53,2082.93 1146.10,2082.93 Z" fill="#1f876a" fill-opacity="0.45"/>
<path d="M1146.10,2082.93 C1160.53,2082.93 1176.77,2155.91 1191.20,2155.91 L1191.20,2197.97 C1176.77,2197.97 1160.53,2128.01 1146.10,2128.01 Z" fill="#1db554" fill-opacity="0.45"/>
<path d="M1146.10,2128.01 C1160.53,2128.01 1176.77,2197.97 1191.20,2197.97 L1191.20,2227.16 C1176.77,2227.16 1160.53,2145.61 1146.10,2145.61 Z" fill="#6dd179" fill-opacity="0.45"/>
<path d="M1146.10,2145.61 C1160.53,2145.61 1176.77,2227.16 1191.20,2227.16 L1191.20,2228.02 C1176.77,2228.02 1160.53,2163.20 1146.10,2163.20 Z" fill="#fdbfc4" fill-opacity="0.45"/>
<path d="M1146.10,2163.20 C1160.53,2163.20 1176.77,2228.02 1191.20,2228.02 L1191.20,2243.90 C1176.77,2243.90 1160.53,2171.79 1146.10,2171.79 Z" fill="#d6677b" fill-opacity="0.45"/>
<path d="M1146.10,2171.79 C1160.53,2171.79 1176.77,2243.90 1191.20,2243.90 L1191.20,2249.48 C1176.77,2249.48 1160.53,2191.96 1146.10,2191.96 Z" fill="#da3046" fill-opacity="0.45"/>
<path d="M1146.10,2191.96 C1160.53,2191.96 1176.77,2249.48 1191.20,2249.48 L1191.20,2250.77 C1176.77,2250.77 1160.53,2206.56 1146.10,2206.56 Z" fill="#f06b3c" fill-opacity="0.45"/>
<path d="M1146.10,2206.56 C1160.53,2206.56 1176.77,2250.77 1191.20,2250.77 L1191.20,2253.78 C1176.77,2253.78 1160.53,2216.86 1146.10,2216.86 Z" fill="#f08a22" fill-opacity="0.45"/>
<path d="M1146.10,2216.86 C1160.53,2216.86 1176.77,2253.78 1191.20,2253.78 L1191.20,2270.09 C1176.77,2270.09 1160.53,2223.73 1146.10,2223.73 Z" fill="#fb5420" fill-opacity="0.45"/>
<path d="M1146.10,2223.73 C1160.53,2223.73 1176.77,2270.09 1191.20,2270.09 L1191.20,2282.54 C1176.77,2282.54 1160.53,2231.03 1146.10,2231.03 Z" fill="#e44e22" fill-opacity="0.45"/>
<path d="M1146.10,2231.03 C1160.53,2231.03 1176.77,2282.54 1191.20,2282.54 L1191.20,2302.28 C1176.77,2302.28 1160.53,2245.19 1146.10,2245.19 Z" fill="#cb4722" fill-opacity="0.45"/>
<path d="M1146.10,2245.19 C1160.53,2245.19 1176.77,2302.28 1191.20,2302.28 L1191.20,2303.57 C1176.77,2303.57 1160.53,2261.50 1146.10,2261.50 Z" fill="#a23d22" fill-opacity="0.45"/>
<path d="M1146.10,2261.50 C1160.53,2261.50 1176.77,2303.57 1191.20,2303.57 L1191.20,2305.72 C1176.77,2305.72 1160.53,2266.22 1146.10,2266.22 Z" fill="#74311f" fill-opacity="0.45"/>
<path d="M1146.10,2266.22 C1160.53,2266.22 1176.77,2305.72 1191.20,2305.72 L1191.20,2305.72 C1176.77,2305.72 1160.53,2273.09 1146.10,2273.09 Z" fill="#1ec8fa" fill-opacity="0.45"/>
<path d="M1146.10,2273.09 C1160.53,2273.09 1176.77,2305.72 1191.20,2305.72 L1191.20,2313.44 C1176.77,2313.44 1160.53,2283.39 1146.10,2283.39 Z" fill="#1fb2e2" fill-opacity="0.45"/>
<path d="M1146.10,2283.39 C1160.53,2283.39 1176.77,2313.44 1191.20,2313.44 L1191.20,2316.45 C1176.77,2316.45 1160.53,2287.69 1146.10,2287.69 Z" fill="#1f9ecb" fill-opacity="0.45"/>
<path d="M1146.10,2287.69 C1160.53,2287.69 1176.77,2316.45 1191.20,2316.45 L1191.20,2319.88 C1176.77,2319.88 1160.53,2292.84 1146.10,2292.84 Z" fill="#1f8eb5" fill-opacity="0.45"/>
<path d="M1146.10,2292.84 C1160.53,2292.84 1176.77,2319.88 1191.20,2319.88 L1191.20,2323.74 C1176.77,2323.74 1160.53,2297.13 1146.10,2297.13 Z" fill="#1f7c9b" fill-opacity="0.45"/>
<path d="M1146.10,2297.13 C1160.53,2297.13 1176.77,2323.74 1191.20,2323.74 L1191.20,2440.50 C1176.77,2440.50 1160.53,2440.50 1146.10,2440.50 Z" fill="#1f6b84" fill-opacity="0.45"/>
<path d="M1213.80,2011.25 C1228.23,2011.25 1244.47,2011.25 1258.90,2011.25 L1258.90,2133.16 C1244.47,2133.16 1228.23,2155.91 1213.80,2155.91 Z" fill="#1f876a" fill-opacity="0.45"/>
<path d="M1213.80,2155.91 C1228.23,2155.91 1244.47,2133.16 1258.90,2133.16 L1258.90,2192.39 C1244.47,2192.39 1228.23,2197.97 1213.80,2197.97 Z" fill="#1db554" fill-opacity="0.45"/>
<path d="M1213.80,2197.97 C1228.23,2197.97 1244.47,2192.39 1258.90,2192.39 L1258.90,2218.58 C1244.47,2218.58 1228.23,2227.16 1213.80,2227.16 Z" fill="#6dd179" fill-opacity="0.45"/>
<path d="M1213.80,2227.16 C1228.23,2227.16 1244.47,2218.58 1258.90,2218.58 L1258.90,2223.73 C1244.47,2223.73 1228.23,2228.02 1213.80,2228.02 Z" fill="#fdbfc4" fill-opacity="0.45"/>
<path d="M1213.80,2228.02 C1228.23,2228.02 1244.47,2223.73 1258.90,2223.73 L1258.90,2240.04 C1244.47,2240.04 1228.23,2243.90 1213.80,2243.90 Z" fill="#d6677b" fill-opacity="0.45"/>
<path d="M1213.80,2243.90 C1228.23,2243.90 1244.47,2240.04 1258.90,2240.04 L1258.90,2248.63 C1244.47,2248.63 1228.23,2249.48 1213.80,2249.48 Z" fill="#da3046" fill-opacity="0.45"/>
<path d="M1213.80,2249.48 C1228.23,2249.48 1244.47,2248.63 1258.90,2248.63 L1258.90,2255.92 C1244.47,2255.92 1228.23,2250.77 1213.80,2250.77 Z" fill="#f06b3c" fill-opacity="0.45"/>
<path d="M1213.80,2250.77 C1228.23,2250.77 1244.47,2255.92 1258.90,2255.92 L1258.90,2267.94 C1244.47,2267.94 1228.23,2253.78 1213.80,2253.78 Z" fill="#f08a22" fill-opacity="0.45"/>
<path d="M1213.80,2253.78 C1228.23,2253.78 1244.47,2267.94 1258.90,2267.94 L1258.90,2278.67 C1244.47,2278.67 1228.23,2270.09 1213.80,2270.09 Z" fill="#fb5420" fill-opacity="0.45"/>
<path d="M1213.80,2270.09 C1228.23,2270.09 1244.47,2278.67 1258.90,2278.67 L1258.90,2292.84 C1244.47,2292.84 1228.23,2282.54 1213.80,2282.54 Z" fill="#e44e22" fill-opacity="0.45"/>
<path d="M1213.80,2282.54 C1228.23,2282.54 1244.47,2292.84 1258.90,2292.84 L1258.90,2300.14 C1244.47,2300.14 1228.23,2302.28 1213.80,2302.28 Z" fill="#cb4722" fill-opacity="0.45"/>
<path d="M1213.80,2302.28 C1228.23,2302.28 1244.47,2300.14 1258.90,2300.14 L1258.90,2303.57 C1244.47,2303.57 1228.23,2303.57 1213.80,2303.57 Z" fill="#a23d22" fill-opacity="0.45"/>
<path d="M1213.80,2303.57 C1228.23,2303.57 1244.47,2303.57 1258.90,2303.57 L1258.90,2305.72 C1244.47,2305.72 1228.23,2305.72 1213.80,2305.72 Z" fill="#74311f" fill-opacity="0.45"/>
<path d="M1213.80,2305.72 C1228.23,2305.72 1244.47,2305.72 1258.90,2305.72 L1258.90,2314.30 C1244.47,2314.30 1228.23,2305.72 1213.80,2305.72 Z" fill="#1ec8fa" fill-opacity="0.45"/>
<path d="M1213.80,2305.72 C1228.23,2305.72 1244.47,2314.30 1258.90,2314.30 L1258.90,2317.73 C1244.47,2317.73 1228.23,2313.44 1213.80,2313.44 Z" fill="#1fb2e2" fill-opacity="0.45"/>
<path d="M1213.80,2313.44 C1228.23,2313.44 1244.47,2317.73 1258.90,2317.73 L1258.90,2322.89 C1244.47,2322.89 1228.23,2316.45 1213.80,2316.45 Z" fill="#1f9ecb" fill-opacity="0.45"/>
<path d="M1213.80,2316.45 C1228.23,2316.45 1244.47,2322.89 1258.90,2322.89 L1258.90,2327.18 C1244.47,2327.18 1228.23,2319.88 1213.80,2319.88 Z" fill="#1f8eb5" fill-opacity="0.45"/>
<path d="M1213.80,2319.88 C1228.23,2319.88 1244.47,2327.18 1258.90,2327.18 L1258.90,2330.61 C1244.47,2330.61 1228.23,2323.74 1213.80,2323.74 Z" fill="#1f7c9b" fill-opacity="0.45"/>
<path d="M1213.80,2323.74 C1228.23,2323.74 1244.47,2330.61 1258.90,2330.61 L1258.90,2440.50 C1244.47,2440.50 1228.23,2440.50 1213.80,2440.50 Z" fill="#1f6b84" fill-opacity="0.45"/>
<path d="M1281.50,2011.25 C1295.93,2011.25 1312.17,2011.25 1326.60,2011.25 L1326.60,2133.16 C1312.17,2133.16 1295.93,2133.16 1281.50,2133.16 Z" fill="#1f876a" fill-opacity="0.45"/>
<path d="M1281.50,2133.16 C1295.93,2133.16 1312.17,2133.16 1326.60,2133.16 L1326.60,2179.95 C1312.17,2179.95 1295.93,2192.39 1281.50,2192.39 Z" fill="#1db554" fill-opacity="0.45"/>
<path d="M1281.50,2192.39 C1295.93,2192.39 1312.17,2179.95 1326.60,2179.95 L1326.60,2200.12 C1312.17,2200.12 1295.93,2218.58 1281.50,2218.58 Z" fill="#6dd179" fill-opacity="0.45"/>
<path d="M1281.50,2218.58 C1295.93,2218.58 1312.17,2200.12 1326.60,2200.12 L1326.60,2220.72 C1312.17,2220.72 1295.93,2223.73 1281.50,2223.73 Z" fill="#fdbfc4" fill-opacity="0.45"/>
<path d="M1281.50,2223.73 C1295.93,2223.73 1312.17,2220.72 1326.60,2220.72 L1326.60,2235.75 C1312.17,2235.75 1295.93,2240.04 1281.50,2240.04 Z" fill="#d6677b" fill-opacity="0.45"/>
<path d="M1281.50,2240.04 C1295.93,2240.04 1312.17,2235.75 1326.60,2235.75 L1326.60,2244.33 C1312.17,2244.33 1295.93,2248.63 1281.50,2248.63 Z" fill="#da3046" fill-opacity="0.45"/>
<path d="M1281.50,2248.63 C1295.93,2248.63 1312.17,2244.33 1326.60,2244.33 L1326.60,2251.20 C1312.17,2251.20 1295.93,2255.92 1281.50,2255.92 Z" fill="#f06b3c" fill-opacity="0.45"/>
<path d="M1281.50,2255.92 C1295.93,2255.92 1312.17,2251.20 1326.60,2251.20 L1326.60,2262.36 C1312.17,2262.36 1295.93,2267.94 1281.50,2267.94 Z" fill="#f08a22" fill-opacity="0.45"/>
<path d="M1281.50,2267.94 C1295.93,2267.94 1312.17,2262.36 1326.60,2262.36 L1326.60,2272.23 C1312.17,2272.23 1295.93,2278.67 1281.50,2278.67 Z" fill="#fb5420" fill-opacity="0.45"/>
<path d="M1281.50,2278.67 C1295.93,2278.67 1312.17,2272.23 1326.60,2272.23 L1326.60,2278.67 C1312.17,2278.67 1295.93,2292.84 1281.50,2292.84 Z" fill="#e44e22" fill-opacity="0.45"/>
<path d="M1281.50,2292.84 C1295.93,2292.84 1312.17,2278.67 1326.60,2278.67 L1326.60,2284.25 C1312.17,2284.25 1295.93,2300.14 1281.50,2300.14 Z" fill="#cb4722" fill-opacity="0.45"/>
<path d="M1281.50,2300.14 C1295.93,2300.14 1312.17,2284.25 1326.60,2284.25 L1326.60,2288.55 C1312.17,2288.55 1295.93,2303.57 1281.50,2303.57 Z" fill="#a23d22" fill-opacity="0.45"/>
<path d="M1281.50,2303.57 C1295.93,2303.57 1312.17,2288.55 1326.60,2288.55 L1326.60,2297.99 C1312.17,2297.99 1295.93,2305.72 1281.50,2305.72 Z" fill="#74311f" fill-opacity="0.45"/>
<path d="M1281.50,2305.72 C1295.93,2305.72 1312.17,2297.99 1326.60,2297.99 L1326.60,2304.43 C1312.17,2304.43 1295.93,2314.30 1281.50,2314.30 Z" fill="#1ec8fa" fill-opacity="0.45"/>
<path d="M1281.50,2314.30 C1295.93,2314.30 1312.17,2304.43 1326.60,2304.43 L1326.60,2313.44 C1312.17,2313.44 1295.93,2317.73 1281.50,2317.73 Z" fill="#1fb2e2" fill-opacity="0.45"/>
<path d="M1281.50,2317.73 C1295.93,2317.73 1312.17,2313.44 1326.60,2313.44 L1326.60,2318.59 C1312.17,2318.59 1295.93,2322.89 1281.50,2322.89 Z" fill="#1f9ecb" fill-opacity="0.45"/>
<path d="M1281.50,2322.89 C1295.93,2322.89 1312.17,2318.59 1326.60,2318.59 L1326.60,2322.03 C1312.17,2322.03 1295.93,2327.18 1281.50,2327.18 Z" fill="#1f8eb5" fill-opacity="0.45"/>
<path d="M1281.50,2327.18 C1295.93,2327.18 1312.17,2322.03 1326.60,2322.03 L1326.60,2325.03 C1312.17,2325.03 1295.93,2330.61 1281.50,2330.61 Z" fill="#1f7c9b" fill-opacity="0.45"/>
<path d="M1281.50,2330.61 C1295.93,2330.61 1312.17,2325.03 1326.60,2325.03 L1326.60,2440.50 C1312.17,2440.50 1295.93,2440.50 1281.50,2440.50 Z" fill="#1f6b84" fill-opacity="0.45"/>
<path d="M1349.20,2011.25 C1363.63,2011.25 1379.87,2011.25 1394.30,2011.25 L1394.30,2176.08 C1379.87,2176.08 1363.63,2133.16 1349.20,2133.16 Z" fill="#1f876a" fill-opacity="0.45"/>
<path d="M1349.20,2133.16 C1363.63,2133.16 1379.87,2176.08 1394.30,2176.08 L1394.30,2221.58 C1379.87,2221.58 1363.63,2179.95 1349.20,2179.95 Z" fill="#1db554" fill-opacity="0.45"/>
<path d="M1349.20,2179.95 C1363.63,2179.95 1379.87,2221.58 1394.30,2221.58 L1394.30,2243.90 C1379.87,2243.90 1363.63,2200.12 1349.20,2200.12 Z" fill="#6dd179" fill-opacity="0.45"/>
<path d="M1349.20,2200.12 C1363.63,2200.12 1379.87,2243.90 1394.30,2243.90 L1394.30,2246.91 C1379.87,2246.91 1363.63,2220.72 1349.20,2220.72 Z" fill="#fdbfc4" fill-opacity="0.45"/>
<path d="M1349.20,2220.72 C1363.63,2220.72 1379.87,2246.91 1394.30,2246.91 L1394.30,2263.65 C1379.87,2263.65 1363.63,2235.75 1349.20,2235.75 Z" fill="#d6677b" fill-opacity="0.45"/>
<path d="M1349.20,2235.75 C1363.63,2235.75 1379.87,2263.65 1394.30,2263.65 L1394.30,2268.37 C1379.87,2268.37 1363.63,2244.33 1349.20,2244.33 Z" fill="#da3046" fill-opacity="0.45"/>
<path d="M1349.20,2244.33 C1363.63,2244.33 1379.87,2268.37 1394.30,2268.37 L1394.30,2273.52 C1379.87,2273.52 1363.63,2251.20 1349.20,2251.20 Z" fill="#f06b3c" fill-opacity="0.45"/>
<path d="M1349.20,2251.20 C1363.63,2251.20 1379.87,2273.52 1394.30,2273.52 L1394.30,2283.39 C1379.87,2283.39 1363.63,2262.36 1349.20,2262.36 Z" fill="#f08a22" fill-opacity="0.45"/>
<path d="M1349.20,2262.36 C1363.63,2262.36 1379.87,2283.39 1394.30,2283.39 L1394.30,2292.84 C1379.87,2292.84 1363.63,2272.23 1349.20,2272.23 Z" fill="#fb5420" fill-opacity="0.45"/>
<path d="M1349.20,2272.23 C1363.63,2272.23 1379.87,2292.84 1394.30,2292.84 L1394.30,2300.14 C1379.87,2300.14 1363.63,2278.67 1349.20,2278.67 Z" fill="#e44e22" fill-opacity="0.45"/>
<path d="M1349.20,2278.67 C1363.63,2278.67 1379.87,2300.14 1394.30,2300.14 L1394.30,2304.43 C1379.87,2304.43 1363.63,2284.25 1349.20,2284.25 Z" fill="#cb4722" fill-opacity="0.45"/>
<path d="M1349.20,2284.25 C1363.63,2284.25 1379.87,2304.43 1394.30,2304.43 L1394.30,2306.57 C1379.87,2306.57 1363.63,2288.55 1349.20,2288.55 Z" fill="#a23d22" fill-opacity="0.45"/>
<path d="M1349.20,2288.55 C1363.63,2288.55 1379.87,2306.57 1394.30,2306.57 L1394.30,2308.29 C1379.87,2308.29 1363.63,2297.99 1349.20,2297.99 Z" fill="#74311f" fill-opacity="0.45"/>
<path d="M1349.20,2297.99 C1363.63,2297.99 1379.87,2308.29 1394.30,2308.29 L1394.30,2315.59 C1379.87,2315.59 1363.63,2304.43 1349.20,2304.43 Z" fill="#1ec8fa" fill-opacity="0.45"/>
<path d="M1349.20,2304.43 C1363.63,2304.43 1379.87,2315.59 1394.30,2315.59 L1394.30,2322.03 C1379.87,2322.03 1363.63,2313.44 1349.20,2313.44 Z" fill="#1fb2e2" fill-opacity="0.45"/>
<path d="M1349.20,2313.44 C1363.63,2313.44 1379.87,2322.03 1394.30,2322.03 L1394.30,2327.18 C1379.87,2327.18 1363.63,2318.59 1349.20,2318.59 Z" fill="#1f9ecb" fill-opacity="0.45"/>
<path d="M1349.20,2318.59 C1363.63,2318.59 1379.87,2327.18 1394.30,2327.18 L1394.30,2332.76 C1379.87,2332.76 1363.63,2322.03 1349.20,2322.03 Z" fill="#1f8eb5" fill-opacity="0.45"/>
<path d="M1349.20,2322.03 C1363.63,2322.03 1379.87,2332.76 1394.30,2332.76 L1394.30,2337.48 C1379.87,2337.48 1363.63,2325.03 1349.20,2325.03 Z" fill="#1f7c9b" fill-opacity="0.45"/>
<path d="M1349.20,2325.03 C1363.63,2325.03 1379.87,2337.48 1394.30,2337.48 L1394.30,2440.50 C1379.87,2440.50 1363.63,2440.50 1349.20,2440.50 Z" fill="#1f6b84" fill-opacity="0.45"/>
<path d="M1416.90,2011.25 C1431.33,2011.25 1447.57,2011.25 1462.00,2011.25 L1462.00,2178.23 C1447.57,2178.23 1431.33,2176.08 1416.90,2176.08 Z" fill="#1f876a" fill-opacity="0.45"/>
<path d="M1416.90,2176.08 C1431.33,2176.08 1447.57,2178.23 1462.00,2178.23 L1462.00,2220.29 C1447.57,2220.29 1431.33,2221.58 1416.90,2221.58 Z" fill="#1db554" fill-opacity="0.45"/>
<path d="M1416.90,2221.58 C1431.33,2221.58 1447.57,2220.29 1462.00,2220.29 L1462.00,2249.48 C1447.57,2249.48 1431.33,2243.90 1416.90,2243.90 Z" fill="#6dd179" fill-opacity="0.45"/>
<path d="M1416.90,2243.90 C1431.33,2243.90 1447.57,2249.48 1462.00,2249.48 L1462.00,2253.35 C1447.57,2253.35 1431.33,2246.91 1416.90,2246.91 Z" fill="#fdbfc4" fill-opacity="0.45"/>
<path d="M1416.90,2246.91 C1431.33,2246.91 1447.57,2253.35 1462.00,2253.35 L1462.00,2272.66 C1447.57,2272.66 1431.33,2263.65 1416.90,2263.65 Z" fill="#d6677b" fill-opacity="0.45"/>
<path d="M1416.90,2263.65 C1431.33,2263.65 1447.57,2272.66 1462.00,2272.66 L1462.00,2280.39 C1447.57,2280.39 1431.33,2268.37 1416.90,2268.37 Z" fill="#da3046" fill-opacity="0.45"/>
<path d="M1416.90,2268.37 C1431.33,2268.37 1447.57,2280.39 1462.00,2280.39 L1462.00,2286.40 C1447.57,2286.40 1431.33,2273.52 1416.90,2273.52 Z" fill="#f06b3c" fill-opacity="0.45"/>
<path d="M1416.90,2273.52 C1431.33,2273.52 1447.57,2286.40 1462.00,2286.40 L1462.00,2292.84 C1447.57,2292.84 1431.33,2283.39 1416.90,2283.39 Z" fill="#f08a22" fill-opacity="0.45"/>
<path d="M1416.90,2283.39 C1431.33,2283.39 1447.57,2292.84 1462.00,2292.84 L1462.00,2301.42 C1447.57,2301.42 1431.33,2292.84 1416.90,2292.84 Z" fill="#fb5420" fill-opacity="0.45"/>
<path d="M1416.90,2292.84 C1431.33,2292.84 1447.57,2301.42 1462.00,2301.42 L1462.00,2308.72 C1447.57,2308.72 1431.33,2300.14 1416.90,2300.14 Z" fill="#e44e22" fill-opacity="0.45"/>
<path d="M1416.90,2300.14 C1431.33,2300.14 1447.57,2308.72 1462.00,2308.72 L1462.00,2314.30 C1447.57,2314.30 1431.33,2304.43 1416.90,2304.43 Z" fill="#cb4722" fill-opacity="0.45"/>
<path d="M1416.90,2304.43 C1431.33,2304.43 1447.57,2314.30 1462.00,2314.30 L1462.00,2316.45 C1447.57,2316.45 1431.33,2306.57 1416.90,2306.57 Z" fill="#a23d22" fill-opacity="0.45"/>
<path d="M1416.90,2306.57 C1431.33,2306.57 1447.57,2316.45 1462.00,2316.45 L1462.00,2320.74 C1447.57,2320.74 1431.33,2308.29 1416.90,2308.29 Z" fill="#74311f" fill-opacity="0.45"/>
<path d="M1416.90,2308.29 C1431.33,2308.29 1447.57,2320.74 1462.00,2320.74 L1462.00,2325.03 C1447.57,2325.03 1431.33,2315.59 1416.90,2315.59 Z" fill="#1ec8fa" fill-opacity="0.45"/>
<path d="M1416.90,2315.59 C1431.33,2315.59 1447.57,2325.03 1462.00,2325.03 L1462.00,2328.47 C1447.57,2328.47 1431.33,2322.03 1416.90,2322.03 Z" fill="#1fb2e2" fill-opacity="0.45"/>
<path d="M1416.90,2322.03 C1431.33,2322.03 1447.57,2328.47 1462.00,2328.47 L1462.00,2330.61 C1447.57,2330.61 1431.33,2327.18 1416.90,2327.18 Z" fill="#1f9ecb" fill-opacity="0.45"/>
<path d="M1416.90,2327.18 C1431.33,2327.18 1447.57,2330.61 1462.00,2330.61 L1462.00,2332.76 C1447.57,2332.76 1431.33,2332.76 1416.90,2332.76 Z" fill="#1f8eb5" fill-opacity="0.45"/>
<path d="M1416.90,2332.76 C1431.33,2332.76 1447.57,2332.76 1462.00,2332.76 L1462.00,2334.90 C1447.57,2334.90 1431.33,2337.48 1416.90,2337.48 Z" fill="#1f7c9b" fill-opacity="0.45"/>
<path d="M1416.90,2337.48 C1431.33,2337.48 1447.57,2334.90 1462.00,2334.90 L1462.00,2440.50 C1447.57,2440.50 1431.33,2440.50 1416.90,2440.50 Z" fill="#1f6b84" fill-opacity="0.45"/>
<rect x="891.2" y="1991" width="634.8" height="470.5" fill="none" stroke="#111" stroke-width="3"/>
<line x1="886.5" y1="2011.2" x2="891.0" y2="2011.2" stroke="#111" stroke-width="2"/>
<text x="883.0" y="2020.0" font-size="24.5" font-weight="bold" text-anchor="end" fill="#000">100</text>
<line x1="886.5" y1="2118.6" x2="891.0" y2="2118.6" stroke="#111" stroke-width="2"/>
<text x="883.0" y="2127.4" font-size="24.5" font-weight="bold" text-anchor="end" fill="#000">75</text>
<line x1="886.5" y1="2225.9" x2="891.0" y2="2225.9" stroke="#111" stroke-width="2"/>
<text x="883.0" y="2234.7" font-size="24.5" font-weight="bold" text-anchor="end" fill="#000">50</text>
<line x1="886.5" y1="2333.2" x2="891.0" y2="2333.2" stroke="#111" stroke-width="2"/>
<text x="883.0" y="2342.0" font-size="24.5" font-weight="bold" text-anchor="end" fill="#000">25</text>
<line x1="886.5" y1="2440.5" x2="891.0" y2="2440.5" stroke="#111" stroke-width="2"/>
<text x="883.0" y="2449.3" font-size="24.5" font-weight="bold" text-anchor="end" fill="#000">0</text>
<line x1="931.7" y1="2462.0" x2="931.7" y2="2466.0" stroke="#111" stroke-width="2"/>
<text x="930.2" y="2491.2" font-size="24.5" font-weight="bold" text-anchor="middle" fill="#000">T06</text>
<line x1="999.4" y1="2462.0" x2="999.4" y2="2466.0" stroke="#111" stroke-width="2"/>
<text x="997.9" y="2491.2" font-size="24.5" font-weight="bold" text-anchor="middle" fill="#000">T09</text>
<line x1="1067.1" y1="2462.0" x2="1067.1" y2="2466.0" stroke="#111" stroke-width="2"/>
<text x="1065.6" y="2491.2" font-size="24.5" font-weight="bold" text-anchor="middle" fill="#000">T12</text>
<line x1="1134.8" y1="2462.0" x2="1134.8" y2="2466.0" stroke="#111" stroke-width="2"/>
<text x="1133.3" y="2491.2" font-size="24.5" font-weight="bold" text-anchor="middle" fill="#000">T15</text>
<line x1="1202.5" y1="2462.0" x2="1202.5" y2="2466.0" stroke="#111" stroke-width="2"/>
<text x="1201.0" y="2491.2" font-size="24.5" font-weight="bold" text-anchor="middle" fill="#000">T18</text>
<line x1="1270.2" y1="2462.0" x2="1270.2" y2="2466.0" stroke="#111" stroke-width="2"/>
<text x="1268.7" y="2491.2" font-size="24.5" font-weight="bold" text-anchor="middle" fill="#000">T21</text>
<line x1="1337.9" y1="2462.0" x2="1337.9" y2="2466.0" stroke="#111" stroke-width="2"/>
<text x="1336.4" y="2491.2" font-size="24.5" font-weight="bold" text-anchor="middle" fill="#000">T24</text>
<line x1="1405.6" y1="2462.0" x2="1405.6" y2="2466.0" stroke="#111" stroke-width="2"/>
<text x="1404.1" y="2491.2" font-size="24.5" font-weight="bold" text-anchor="middle" fill="#000">T27</text>
<line x1="1473.3" y1="2462.0" x2="1473.3" y2="2466.0" stroke="#111" stroke-width="2"/>
<text x="1471.8" y="2491.2" font-size="24.5" font-weight="bold" text-anchor="middle" fill="#000">T30</text>
<text x="849.0" y="2225.0" font-size="31" font-weight="bold" text-anchor="middle" fill="#000" transform="rotate(-90 849.0 2225.0)">Relative abundance&#160; (%)</text>
<text x="1498.0" y="2259.0" font-size="35.5" font-weight="bold" fill="#000" stroke="#000" stroke-width="0.9">#</text>
<text x="1498.0" y="2291.5" font-size="35.5" font-weight="bold" fill="#000" stroke="#000" stroke-width="0.9">#</text>
<text x="1498.0" y="2316.5" font-size="35.5" font-weight="bold" fill="#000" stroke="#000" stroke-width="0.9">#</text>
<text x="1537.3" y="2069.8" font-size="28" font-weight="bold" text-anchor="start" fill="#000" letter-spacing="-1.4">Genus</text>
<rect x="1536.9" y="2078.80" width="15.4" height="15.6" fill="#1f876a" stroke="#333" stroke-width="1.2"/>
<text x="1555.4" y="2094.2" font-size="20" font-weight="bold" text-anchor="start" fill="#000">Lactobacillus</text>
<rect x="1536.9" y="2095.60" width="15.4" height="15.6" fill="#1db554" stroke="#333" stroke-width="1.2"/>
<text x="1555.4" y="2111.0" font-size="20" font-weight="bold" text-anchor="start" fill="#000">Subdoligranulum</text>
<rect x="1536.9" y="2112.40" width="15.4" height="15.6" fill="#6dd179" stroke="#333" stroke-width="1.2"/>
<text x="1555.4" y="2127.8" font-size="20" font-weight="bold" text-anchor="start" fill="#000">Ruminococcaceae_UCG−005</text>
<rect x="1536.9" y="2129.20" width="15.4" height="15.6" fill="#fdbfc4" stroke="#333" stroke-width="1.2"/>
<text x="1555.4" y="2144.6" font-size="20" font-weight="bold" text-anchor="start" fill="#000">Prevotella_9</text>
<rect x="1536.9" y="2146.00" width="15.4" height="15.6" fill="#d6677b" stroke="#333" stroke-width="1.2"/>
<text x="1555.4" y="2161.4" font-size="20" font-weight="bold" text-anchor="start" fill="#000">Blautia</text>
<rect x="1536.9" y="2162.80" width="15.4" height="15.6" fill="#da3046" stroke="#333" stroke-width="1.2"/>
<text x="1555.4" y="2178.2" font-size="20" font-weight="bold" text-anchor="start" fill="#000">Alloprevotella</text>
<rect x="1536.9" y="2179.60" width="15.4" height="15.6" fill="#f06b3c" stroke="#333" stroke-width="1.2"/>
<text x="1555.4" y="2195.0" font-size="20" font-weight="bold" text-anchor="start" fill="#000">Faecalibacterium</text>
<rect x="1536.9" y="2196.40" width="15.4" height="15.6" fill="#f08a22" stroke="#333" stroke-width="1.2"/>
<text x="1555.4" y="2211.8" font-size="20" font-weight="bold" text-anchor="start" fill="#000">Roseburia</text>
<rect x="1536.9" y="2213.20" width="15.4" height="15.6" fill="#fb5420" stroke="#333" stroke-width="1.2"/>
<text x="1555.4" y="2228.6" font-size="20" font-weight="bold" text-anchor="start" fill="#000">[Ruminococcus]_gauvreauii_group</text>
<rect x="1536.9" y="2230.00" width="15.4" height="15.6" fill="#e44e22" stroke="#333" stroke-width="1.2"/>
<text x="1555.4" y="2245.4" font-size="20" font-weight="bold" text-anchor="start" fill="#000">Christensenellaceae_R−7_group</text>
<rect x="1536.9" y="2246.80" width="15.4" height="15.6" fill="#cb4722" stroke="#333" stroke-width="1.2"/>
<text x="1555.4" y="2262.2" font-size="20" font-weight="bold" text-anchor="start" fill="#000">Streptococcus</text>
<rect x="1536.9" y="2263.60" width="15.4" height="15.6" fill="#a23d22" stroke="#333" stroke-width="1.2"/>
<text x="1555.4" y="2279.0" font-size="20" font-weight="bold" text-anchor="start" fill="#000">Anaerovibrio</text>
<rect x="1536.9" y="2280.40" width="15.4" height="15.6" fill="#74311f" stroke="#333" stroke-width="1.2"/>
<text x="1555.4" y="2295.8" font-size="20" font-weight="bold" text-anchor="start" fill="#000">Prevotellaceae_NK3B31_group</text>
<rect x="1536.9" y="2297.20" width="15.4" height="15.6" fill="#1ec8fa" stroke="#333" stroke-width="1.2"/>
<text x="1555.4" y="2312.6" font-size="20" font-weight="bold" text-anchor="start" fill="#000">Oribacterium</text>
<rect x="1536.9" y="2314.00" width="15.4" height="15.6" fill="#1fb2e2" stroke="#333" stroke-width="1.2"/>
<text x="1555.4" y="2329.4" font-size="20" font-weight="bold" text-anchor="start" fill="#000">Campylobacter</text>
<rect x="1536.9" y="2330.80" width="15.4" height="15.6" fill="#1f9ecb" stroke="#333" stroke-width="1.2"/>
<text x="1555.4" y="2346.2" font-size="20" font-weight="bold" text-anchor="start" fill="#000">Ruminococcaceae_UCG−014</text>
<rect x="1536.9" y="2347.60" width="15.4" height="15.6" fill="#1f8eb5" stroke="#333" stroke-width="1.2"/>
<text x="1555.4" y="2363.0" font-size="20" font-weight="bold" text-anchor="start" fill="#000">Pseudobutyrivibrio</text>
<rect x="1536.9" y="2364.40" width="15.4" height="15.6" fill="#1f7c9b" stroke="#333" stroke-width="1.2"/>
<text x="1555.4" y="2379.8" font-size="20" font-weight="bold" text-anchor="start" fill="#000">Lachnospiraceae_AC2044_group</text>
<rect x="1536.9" y="2381.20" width="15.4" height="15.6" fill="#1f6b84" stroke="#333" stroke-width="1.2"/>
<text x="1555.4" y="2396.6" font-size="20" font-weight="bold" text-anchor="start" fill="#000">Others</text>
</svg></body></html>
